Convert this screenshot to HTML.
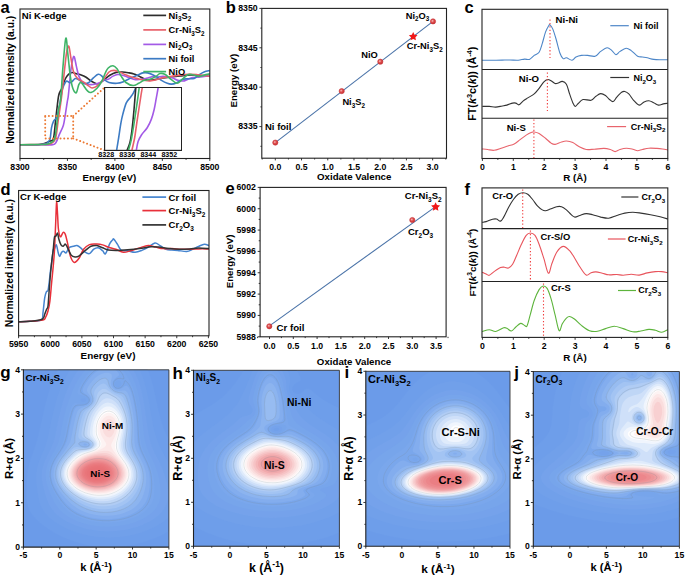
<!DOCTYPE html>
<html><head><meta charset="utf-8"><style>
html,body{margin:0;padding:0;background:#fff;}
body{width:685px;height:577px;overflow:hidden;font-family:"Liberation Sans", sans-serif;}
svg{display:block;}
</style></head><body>
<svg width="685" height="577" viewBox="0 0 685 577" font-family='"Liberation Sans", sans-serif'><rect width="685" height="577" fill="#fff"/>
<text x="0.6" y="12.8" font-size="16.5" font-weight="bold" text-anchor="start" fill="#000">a</text>
<clipPath id="ca"><rect x="20" y="9" width="189.8" height="149.5"/></clipPath><g clip-path="url(#ca)">
<path d="M20,144.8 C23.33,144.75 34.97,145.13 40,144.5 C45.03,143.87 47.95,142.02 50.2,141 C52.45,139.98 52.62,141.68 53.5,138.4 C54.38,135.12 54.92,126.35 55.5,121.3 C56.08,116.25 56.45,112.48 57,108.1 C57.55,103.72 58,98.32 58.8,95 C59.6,91.68 60.68,90.95 61.8,88.2 C62.92,85.45 64.38,80.82 65.5,78.5 C66.62,76.18 67.4,75.3 68.5,74.3 C69.6,73.3 70.78,72.6 72.1,72.5 C73.42,72.4 74.88,73.3 76.4,73.7 C77.92,74.1 79.58,74.3 81.2,74.9 C82.82,75.5 84.47,76.28 86.1,77.3 C87.73,78.32 89.38,79.98 91,81 C92.62,82.02 94.4,83 95.8,83.4 C97.2,83.8 97.98,84.02 99.4,83.4 C100.82,82.78 102.57,81.05 104.3,79.7 C106.03,78.35 107.82,76.52 109.8,75.3 C111.78,74.08 114.05,72.95 116.2,72.4 C118.35,71.85 120.55,71.92 122.7,72 C124.85,72.08 127.23,72.57 129.1,72.9 C130.97,73.23 132.3,73.47 133.9,74 C135.5,74.53 137.08,75.35 138.7,76.1 C140.32,76.85 141.72,77.83 143.6,78.5 C145.48,79.17 147.87,79.97 150,80.1 C152.13,80.23 154.23,79.65 156.4,79.3 C158.57,78.95 160.57,78.38 163,78 C165.43,77.62 168.17,77.33 171,77 C173.83,76.67 176.83,76.33 180,76 C183.17,75.67 186.67,75.08 190,75 C193.33,74.92 196.7,75.33 200,75.5 C203.3,75.67 208.17,75.92 209.8,76" fill="none" stroke="#2d2d2d" stroke-width="1.6" stroke-linejoin="round" stroke-linecap="round"/>
<path d="M20,145 C23.33,144.97 34.53,144.85 40,144.8 C45.47,144.75 50.12,145.12 52.8,144.7 C55.48,144.28 55,144.02 56.1,142.3 C57.2,140.58 58.18,137.25 59.4,134.4 C60.62,131.55 62.42,128.48 63.4,125.2 C64.38,121.92 64.65,118.63 65.3,114.7 C65.95,110.77 66.78,104.88 67.3,101.6 C67.82,98.32 67.8,100.27 68.4,95 C69,89.73 70.17,75.98 70.9,70 C71.63,64.02 72.23,61.28 72.8,59.1 C73.37,56.92 73.7,55.68 74.3,56.9 C74.9,58.12 75.65,63.2 76.4,66.4 C77.15,69.6 77.78,73.47 78.8,76.1 C79.82,78.73 81.28,80.88 82.5,82.2 C83.72,83.52 84.68,83.6 86.1,84 C87.52,84.4 89.38,84.6 91,84.6 C92.62,84.6 94.18,84.4 95.8,84 C97.42,83.6 99.17,82.92 100.7,82.2 C102.23,81.48 103.75,80.18 105,79.7 C106.25,79.22 106.87,79.9 108.2,79.3 C109.53,78.7 111.38,76.9 113,76.1 C114.62,75.3 116.28,74.63 117.9,74.5 C119.52,74.37 120.83,74.77 122.7,75.3 C124.57,75.83 126.97,76.97 129.1,77.7 C131.23,78.43 133.35,79.43 135.5,79.7 C137.65,79.97 139.85,79.63 142,79.3 C144.15,78.97 146.53,78.17 148.4,77.7 C150.27,77.23 151.77,76.62 153.2,76.5 C154.63,76.38 155.33,77.02 157,77 C158.67,76.98 160.8,76.3 163.2,76.4 C165.6,76.5 168.95,76.93 171.4,77.6 C173.85,78.27 175.73,79.85 177.9,80.4 C180.07,80.95 182.22,81.3 184.4,80.9 C186.58,80.5 188.82,78.62 191,78 C193.18,77.38 195.32,77.47 197.5,77.2 C199.68,76.93 202.05,76.68 204.1,76.4 C206.15,76.12 208.85,75.65 209.8,75.5" fill="none" stroke="#a35ae6" stroke-width="1.6" stroke-linejoin="round" stroke-linecap="round"/>
<path d="M20,144.8 C23.33,144.75 35.58,144.72 40,144.5 C44.42,144.28 45.08,144 46.5,143.5 C47.92,143 47.88,142.35 48.5,141.5 C49.12,140.65 49.7,140.68 50.2,138.4 C50.7,136.12 50.95,130.65 51.5,127.8 C52.05,124.95 52.73,122.93 53.5,121.3 C54.27,119.67 55.33,119.55 56.1,118 C56.87,116.45 57.45,114.52 58.1,112 C58.75,109.48 59.28,106.67 60,102.9 C60.72,99.13 61.48,92.85 62.4,89.4 C63.32,85.95 64.68,83.57 65.5,82.2 C66.32,80.83 66.6,81.1 67.3,81.2 C68,81.3 68.9,82.73 69.7,82.8 C70.5,82.87 71.18,82.32 72.1,81.6 C73.02,80.88 74.08,78.82 75.2,78.5 C76.32,78.18 77.38,78.88 78.8,79.7 C80.22,80.52 82.08,82.88 83.7,83.4 C85.32,83.92 86.88,83.72 88.5,82.8 C90.12,81.88 91.78,79.32 93.4,77.9 C95.02,76.48 96.78,74.6 98.2,74.3 C99.62,74 100.77,75.13 101.9,76.1 C103.03,77.07 103.82,79.03 105,80.1 C106.18,81.17 107,81.97 109,82.5 C111,83.03 114.58,83.43 117,83.3 C119.42,83.17 121.22,82.57 123.5,81.7 C125.78,80.83 128.43,79.17 130.7,78.1 C132.97,77.03 135.08,76.17 137.1,75.3 C139.12,74.43 141.05,73.3 142.8,72.9 C144.55,72.5 145.87,72.57 147.6,72.9 C149.33,73.23 151.47,74.1 153.2,74.9 C154.93,75.7 156.62,76.78 158,77.7 C159.38,78.62 159.95,79.47 161.5,80.4 C163.05,81.33 165.65,82.68 167.3,83.3 C168.95,83.92 169.9,84.17 171.4,84.1 C172.9,84.03 174.53,83.65 176.3,82.9 C178.07,82.15 180.1,80.28 182,79.6 C183.9,78.92 185.67,79 187.7,78.8 C189.73,78.6 192.28,79.08 194.2,78.4 C196.12,77.72 197.55,75.78 199.2,74.7 C200.85,73.62 202.33,72.58 204.1,71.9 C205.87,71.22 208.85,70.82 209.8,70.6" fill="none" stroke="#3c7bc4" stroke-width="1.6" stroke-linejoin="round" stroke-linecap="round"/>
<path d="M20,144.8 C23.33,144.75 35,144.63 40,144.5 C45,144.37 47.42,145.02 50,144 C52.58,142.98 54.15,142.18 55.5,138.4 C56.85,134.62 57.35,126.35 58.1,121.3 C58.85,116.25 59.38,112.48 60,108.1 C60.62,103.72 60.98,101.95 61.8,95 C62.62,88.05 64.05,73.8 64.9,66.4 C65.75,59 66.23,53.93 66.9,50.6 C67.57,47.27 68.23,45.18 68.9,46.4 C69.57,47.62 70.15,53.77 70.9,57.9 C71.65,62.03 72.28,67.77 73.4,71.2 C74.52,74.63 75.88,76.67 77.6,78.5 C79.32,80.33 81.88,80.98 83.7,82.2 C85.52,83.42 87.08,84.83 88.5,85.8 C89.92,86.77 90.58,88.1 92.2,88 C93.82,87.9 96.18,86.78 98.2,85.2 C100.22,83.62 102.5,80.7 104.3,78.5 C106.1,76.3 107.42,73.35 109,72 C110.58,70.65 112.05,70.4 113.8,70.4 C115.55,70.4 117.62,71.32 119.5,72 C121.38,72.68 123.1,73.68 125.1,74.5 C127.1,75.32 129.23,76.17 131.5,76.9 C133.77,77.63 136.42,78.3 138.7,78.9 C140.98,79.5 143.32,80.17 145.2,80.5 C147.08,80.83 148.13,81.03 150,80.9 C151.87,80.77 154.2,80.25 156.4,79.7 C158.6,79.15 160.7,78.15 163.2,77.6 C165.7,77.05 168.68,76.82 171.4,76.4 C174.12,75.98 176.52,75.45 179.5,75.1 C182.48,74.75 186.3,74.37 189.3,74.3 C192.3,74.23 195.03,74.5 197.5,74.7 C199.97,74.9 202.05,75.22 204.1,75.5 C206.15,75.78 208.85,76.25 209.8,76.4" fill="none" stroke="#e8606a" stroke-width="1.6" stroke-linejoin="round" stroke-linecap="round"/>
<path d="M20,144.8 C23.33,144.75 35.5,144.6 40,144.5 C44.5,144.4 45.08,144.57 47,144.2 C48.92,143.83 50.2,143.27 51.5,142.3 C52.8,141.33 53.92,141.47 54.8,138.4 C55.68,135.33 56.13,128.95 56.8,123.9 C57.47,118.85 58.17,112.08 58.8,108.1 C59.43,104.12 59.9,106.95 60.6,100 C61.3,93.05 62.13,76.7 63,66.4 C63.87,56.1 64.98,40.22 65.8,38.2 C66.62,36.18 67.15,47.98 67.9,54.3 C68.65,60.62 69.48,70.45 70.3,76.1 C71.12,81.75 71.82,85.42 72.8,88.2 C73.78,90.98 75.2,93.4 76.2,92.8 C77.2,92.2 78,86.33 78.8,84.6 C79.6,82.87 80.18,82.2 81,82.4 C81.82,82.6 82.65,84.42 83.7,85.8 C84.75,87.18 86.08,89.58 87.3,90.7 C88.52,91.82 89.38,92.92 91,92.5 C92.62,92.08 95.18,90.12 97,88.2 C98.82,86.28 100.48,83.62 101.9,81 C103.32,78.38 104.45,74.67 105.5,72.5 C106.55,70.33 106.95,69.12 108.2,68 C109.45,66.88 111.53,65.67 113,65.8 C114.47,65.93 115.65,67.08 117,68.8 C118.35,70.52 119.62,73.82 121.1,76.1 C122.58,78.38 123.9,80.93 125.9,82.5 C127.9,84.07 130.97,85.37 133.1,85.5 C135.23,85.63 136.95,84.13 138.7,83.3 C140.45,82.47 141.72,81.17 143.6,80.5 C145.48,79.83 147.87,80.03 150,79.3 C152.13,78.57 154.73,77.07 156.4,76.1 C158.07,75.13 158.6,73.8 160,73.5 C161.4,73.2 162.9,73.28 164.8,74.3 C166.7,75.32 169.35,78.1 171.4,79.6 C173.45,81.1 175.33,83.3 177.1,83.3 C178.87,83.3 180.23,81.03 182,79.6 C183.77,78.17 185.93,75.52 187.7,74.7 C189.47,73.88 190.68,74.42 192.6,74.7 C194.52,74.98 197.28,76.33 199.2,76.4 C201.12,76.47 202.33,75.52 204.1,75.1 C205.87,74.68 208.85,74.1 209.8,73.9" fill="none" stroke="#3fb467" stroke-width="1.6" stroke-linejoin="round" stroke-linecap="round"/>
</g>
<rect x="45.2" y="116" width="28" height="22.4" stroke="#ec7a34" stroke-width="2" fill="none" stroke-dasharray="0.01 3.7" stroke-linecap="round"/>
<line x1="73.2" y1="116" x2="104.6" y2="87.5" stroke="#ec7a34" stroke-width="2" stroke-dasharray="0.01 3.7" stroke-linecap="round"/>
<line x1="73.2" y1="138.4" x2="104.6" y2="150.4" stroke="#ec7a34" stroke-width="2" stroke-dasharray="0.01 3.7" stroke-linecap="round"/>
<rect x="104.6" y="87.5" width="76.9" height="62.9" stroke="#222" stroke-width="1" fill="#fff"/>
<clipPath id="ci"><rect x="104.6" y="87.5" width="76.9" height="62.9"/></clipPath><g clip-path="url(#ci)">
<path d="M116.6,151.5 C116.6,151.32 116.25,152.73 116.6,150.4 C116.95,148.07 118,141.97 118.7,137.5 C119.4,133.03 120.1,127.53 120.8,123.6 C121.5,119.67 121.98,117.37 122.9,113.9 C123.82,110.43 125.03,105.57 126.3,102.8 C127.57,100.03 129.33,98.92 130.5,97.3 C131.67,95.68 132.42,94.73 133.3,93.1 C134.18,91.47 135.18,88.85 135.8,87.5 C136.42,86.15 136.8,85.42 137,85" fill="none" stroke="#3c7bc4" stroke-width="1.6" stroke-linejoin="round" stroke-linecap="round"/>
<path d="M127,151.5 C127,151.32 126.53,151.82 127,150.4 C127.47,148.98 128.98,146.32 129.8,143 C130.62,139.68 131.2,136.05 131.9,130.5 C132.6,124.95 133.35,116.87 134,109.7 C134.65,102.53 135.43,91.78 135.8,87.5 C136.17,83.22 136.13,84.58 136.2,84" fill="none" stroke="#2d2d2d" stroke-width="1.6" stroke-linejoin="round" stroke-linecap="round"/>
<path d="M128.4,151.5 C128.4,151.32 127.93,152.28 128.4,150.4 C128.87,148.52 130.27,144.67 131.2,140.2 C132.13,135.73 133.18,128.68 134,123.6 C134.82,118.52 135.42,114.32 136.1,109.7 C136.78,105.08 137.58,99.6 138.1,95.9 C138.62,92.2 138.95,89.48 139.2,87.5 C139.45,85.52 139.53,84.58 139.6,84" fill="none" stroke="#3fb467" stroke-width="1.6" stroke-linejoin="round" stroke-linecap="round"/>
<path d="M131.9,151.5 C131.9,151.32 131.43,152.73 131.9,150.4 C132.37,148.07 133.9,141.97 134.7,137.5 C135.5,133.03 136.02,128.23 136.7,123.6 C137.38,118.97 138.1,114.32 138.8,109.7 C139.5,105.08 140.32,99.6 140.9,95.9 C141.48,92.2 142,89.48 142.3,87.5 C142.6,85.52 142.63,84.58 142.7,84" fill="none" stroke="#e8606a" stroke-width="1.6" stroke-linejoin="round" stroke-linecap="round"/>
<path d="M136.3,151.5 C136.3,151.32 136,152.05 136.3,150.4 C136.6,148.75 137.22,144.22 138.1,141.6 C138.98,138.98 140.08,137 141.6,134.7 C143.12,132.4 145.58,130.35 147.2,127.8 C148.82,125.25 150.15,122.42 151.3,119.4 C152.45,116.38 153.28,113.17 154.1,109.7 C154.92,106.23 155.52,102.3 156.2,98.6 C156.88,94.9 157.78,89.93 158.2,87.5 C158.62,85.07 158.62,84.58 158.7,84" fill="none" stroke="#a35ae6" stroke-width="1.6" stroke-linejoin="round" stroke-linecap="round"/>
</g>
<rect x="104.6" y="87.5" width="76.9" height="62.9" stroke="#222" stroke-width="1" fill="none"/>
<text x="106.2" y="157.2" font-size="7.1" font-weight="bold" text-anchor="middle" fill="#000">8328</text>
<text x="127.24" y="157.2" font-size="7.1" font-weight="bold" text-anchor="middle" fill="#000">8336</text>
<text x="148.28" y="157.2" font-size="7.1" font-weight="bold" text-anchor="middle" fill="#000">8344</text>
<text x="169.32" y="157.2" font-size="7.1" font-weight="bold" text-anchor="middle" fill="#000">8352</text>
<line x1="143.3" y1="15.4" x2="166.1" y2="15.4" stroke="#2d2d2d" stroke-width="1.7"/>
<text x="168.6" y="18.8" font-size="9.3" font-weight="bold" text-anchor="start" fill="#000">Ni<tspan dy="2.6" font-size="6.32">3</tspan><tspan dy="-2.6">S</tspan><tspan dy="2.6" font-size="6.32">2</tspan></text>
<line x1="143.3" y1="29.9" x2="166.1" y2="29.9" stroke="#e8606a" stroke-width="1.7"/>
<text x="168.6" y="33.3" font-size="9.3" font-weight="bold" text-anchor="start" fill="#000">Cr-Ni<tspan dy="2.6" font-size="6.32">3</tspan><tspan dy="-2.6">S</tspan><tspan dy="2.6" font-size="6.32">2</tspan></text>
<line x1="143.3" y1="44.4" x2="166.1" y2="44.4" stroke="#a35ae6" stroke-width="1.7"/>
<text x="168.6" y="47.8" font-size="9.3" font-weight="bold" text-anchor="start" fill="#000">Ni<tspan dy="2.6" font-size="6.32">2</tspan><tspan dy="-2.6">O</tspan><tspan dy="2.6" font-size="6.32">3</tspan></text>
<line x1="143.3" y1="58.7" x2="166.1" y2="58.7" stroke="#3c7bc4" stroke-width="1.7"/>
<text x="168.6" y="62.1" font-size="9.3" font-weight="bold" text-anchor="start" fill="#000">Ni foil</text>
<line x1="143.3" y1="71.6" x2="166.1" y2="71.6" stroke="#3fb467" stroke-width="1.7"/>
<text x="168.6" y="75" font-size="9.3" font-weight="bold" text-anchor="start" fill="#000">NiO</text>
<text x="21.8" y="19.1" font-size="9.6" font-weight="bold" text-anchor="start" fill="#000">Ni K-edge</text>
<rect x="20" y="9" width="189.8" height="149.5" stroke="#222" stroke-width="1.1" fill="none"/>
<line x1="20" y1="158.5" x2="20" y2="160.9" stroke="#222" stroke-width="0.9"/>
<line x1="67.45" y1="158.5" x2="67.45" y2="160.9" stroke="#222" stroke-width="0.9"/>
<line x1="114.9" y1="158.5" x2="114.9" y2="160.9" stroke="#222" stroke-width="0.9"/>
<line x1="162.35" y1="158.5" x2="162.35" y2="160.9" stroke="#222" stroke-width="0.9"/>
<line x1="209.8" y1="158.5" x2="209.8" y2="160.9" stroke="#222" stroke-width="0.9"/>
<line x1="43.72" y1="158.5" x2="43.72" y2="159.9" stroke="#222" stroke-width="0.9"/>
<line x1="91.17" y1="158.5" x2="91.17" y2="159.9" stroke="#222" stroke-width="0.9"/>
<line x1="138.62" y1="158.5" x2="138.62" y2="159.9" stroke="#222" stroke-width="0.9"/>
<line x1="186.07" y1="158.5" x2="186.07" y2="159.9" stroke="#222" stroke-width="0.9"/>
<text x="20" y="170.3" font-size="8.7" font-weight="bold" text-anchor="middle" fill="#000">8300</text>
<text x="67.45" y="170.3" font-size="8.7" font-weight="bold" text-anchor="middle" fill="#000">8350</text>
<text x="114.9" y="170.3" font-size="8.7" font-weight="bold" text-anchor="middle" fill="#000">8400</text>
<text x="162.35" y="170.3" font-size="8.7" font-weight="bold" text-anchor="middle" fill="#000">8450</text>
<text x="209.8" y="170.3" font-size="8.7" font-weight="bold" text-anchor="middle" fill="#000">8500</text>
<text x="109.4" y="180.9" font-size="9.7" font-weight="bold" text-anchor="middle" fill="#000">Energy (eV)</text>
<text x="13.9" y="79.8" font-size="10.3" font-weight="bold" text-anchor="middle" fill="#000" transform="rotate(-90 13.9 79.8)">Normalized intensity (a.u.)</text>
<text x="225.8" y="12.8" font-size="16.5" font-weight="bold" text-anchor="start" fill="#000">b</text>
<rect x="261.8" y="8.4" width="184.7" height="149.8" stroke="#222" stroke-width="1.1" fill="none"/>
<line x1="261.8" y1="8.4" x2="259.4" y2="8.4" stroke="#222" stroke-width="0.9"/>
<line x1="261.8" y1="47.8" x2="259.4" y2="47.8" stroke="#222" stroke-width="0.9"/>
<line x1="261.8" y1="87.2" x2="259.4" y2="87.2" stroke="#222" stroke-width="0.9"/>
<line x1="261.8" y1="126.6" x2="259.4" y2="126.6" stroke="#222" stroke-width="0.9"/>
<line x1="261.8" y1="28.1" x2="260.4" y2="28.1" stroke="#222" stroke-width="0.9"/>
<line x1="261.8" y1="67.5" x2="260.4" y2="67.5" stroke="#222" stroke-width="0.9"/>
<line x1="261.8" y1="106.9" x2="260.4" y2="106.9" stroke="#222" stroke-width="0.9"/>
<line x1="261.8" y1="146.3" x2="260.4" y2="146.3" stroke="#222" stroke-width="0.9"/>
<text x="257.6" y="11.2" font-size="8.7" font-weight="bold" text-anchor="end" fill="#000">8350</text>
<text x="257.6" y="50.6" font-size="8.7" font-weight="bold" text-anchor="end" fill="#000">8345</text>
<text x="257.6" y="90" font-size="8.7" font-weight="bold" text-anchor="end" fill="#000">8340</text>
<text x="257.6" y="129.4" font-size="8.7" font-weight="bold" text-anchor="end" fill="#000">8335</text>
<line x1="275.3" y1="158.2" x2="275.3" y2="160.4" stroke="#222" stroke-width="0.9"/>
<line x1="301.53" y1="158.2" x2="301.53" y2="160.4" stroke="#222" stroke-width="0.9"/>
<line x1="327.75" y1="158.2" x2="327.75" y2="160.4" stroke="#222" stroke-width="0.9"/>
<line x1="353.98" y1="158.2" x2="353.98" y2="160.4" stroke="#222" stroke-width="0.9"/>
<line x1="380.2" y1="158.2" x2="380.2" y2="160.4" stroke="#222" stroke-width="0.9"/>
<line x1="406.43" y1="158.2" x2="406.43" y2="160.4" stroke="#222" stroke-width="0.9"/>
<line x1="432.65" y1="158.2" x2="432.65" y2="160.4" stroke="#222" stroke-width="0.9"/>
<line x1="262.19" y1="158.2" x2="262.19" y2="159.5" stroke="#222" stroke-width="0.9"/>
<line x1="288.41" y1="158.2" x2="288.41" y2="159.5" stroke="#222" stroke-width="0.9"/>
<line x1="314.64" y1="158.2" x2="314.64" y2="159.5" stroke="#222" stroke-width="0.9"/>
<line x1="340.86" y1="158.2" x2="340.86" y2="159.5" stroke="#222" stroke-width="0.9"/>
<line x1="367.09" y1="158.2" x2="367.09" y2="159.5" stroke="#222" stroke-width="0.9"/>
<line x1="393.31" y1="158.2" x2="393.31" y2="159.5" stroke="#222" stroke-width="0.9"/>
<line x1="419.54" y1="158.2" x2="419.54" y2="159.5" stroke="#222" stroke-width="0.9"/>
<line x1="445.76" y1="158.2" x2="445.76" y2="159.5" stroke="#222" stroke-width="0.9"/>
<text x="275.3" y="170.1" font-size="8.7" font-weight="bold" text-anchor="middle" fill="#000">0.0</text>
<text x="301.53" y="170.1" font-size="8.7" font-weight="bold" text-anchor="middle" fill="#000">0.5</text>
<text x="327.75" y="170.1" font-size="8.7" font-weight="bold" text-anchor="middle" fill="#000">1.0</text>
<text x="353.98" y="170.1" font-size="8.7" font-weight="bold" text-anchor="middle" fill="#000">1.5</text>
<text x="380.2" y="170.1" font-size="8.7" font-weight="bold" text-anchor="middle" fill="#000">2.0</text>
<text x="406.43" y="170.1" font-size="8.7" font-weight="bold" text-anchor="middle" fill="#000">2.5</text>
<text x="432.65" y="170.1" font-size="8.7" font-weight="bold" text-anchor="middle" fill="#000">3.0</text>
<text x="354.2" y="180.1" font-size="9.7" font-weight="bold" text-anchor="middle" fill="#000">Oxidate Valence</text>
<text x="236.6" y="80.6" font-size="9.7" font-weight="bold" text-anchor="middle" fill="#000" transform="rotate(-90 236.6 80.6)">Energy (eV)</text>
<line x1="275.3" y1="142.6" x2="433" y2="21.4" stroke="#4a73a8" stroke-width="1.1"/>
<defs><radialGradient id="ballg" cx="0.4" cy="0.4" r="0.6"><stop offset="0" stop-color="#f7c0c0"/><stop offset="0.45" stop-color="#e05050"/><stop offset="1" stop-color="#c83030"/></radialGradient></defs>
<circle cx="275.3" cy="142.6" r="2.6" fill="url(#ballg)" stroke="#c8383c" stroke-width="0.6"/>
<circle cx="341.7" cy="91.1" r="2.6" fill="url(#ballg)" stroke="#c8383c" stroke-width="0.6"/>
<circle cx="380.3" cy="61.7" r="2.6" fill="url(#ballg)" stroke="#c8383c" stroke-width="0.6"/>
<circle cx="433" cy="21.4" r="2.6" fill="url(#ballg)" stroke="#c8383c" stroke-width="0.6"/>
<polygon points="413.2,32 414.55,34.74 417.57,35.18 415.39,37.31 415.9,40.32 413.2,38.9 410.5,40.32 411.01,37.31 408.83,35.18 411.85,34.74" fill="#f01818"/>
<text x="265" y="130.1" font-size="9.5" font-weight="bold" text-anchor="start" fill="#000">Ni foil</text>
<text x="342.4" y="105.4" font-size="9.3" font-weight="bold" text-anchor="start" fill="#000">Ni<tspan dy="2.6" font-size="6.32">3</tspan><tspan dy="-2.6">S</tspan><tspan dy="2.6" font-size="6.32">2</tspan></text>
<text x="361.2" y="58.3" font-size="9.3" font-weight="bold" text-anchor="start" fill="#000">NiO</text>
<text x="405.7" y="18.7" font-size="9.3" font-weight="bold" text-anchor="start" fill="#000">Ni<tspan dy="2.6" font-size="6.32">2</tspan><tspan dy="-2.6">O</tspan><tspan dy="2.6" font-size="6.32">3</tspan></text>
<text x="406.7" y="49" font-size="9.3" font-weight="bold" text-anchor="start" fill="#000">Cr-Ni<tspan dy="2.6" font-size="6.32">3</tspan><tspan dy="-2.6">S</tspan><tspan dy="2.6" font-size="6.32">2</tspan></text>
<text x="464.6" y="13.3" font-size="16.5" font-weight="bold" text-anchor="start" fill="#000">c</text>
<clipPath id="cc"><rect x="482" y="9.3" width="185.8" height="149.2"/></clipPath><g clip-path="url(#cc)">
<path d="M482,60.2 C483.33,60.22 486.65,60.32 490,60.3 C493.35,60.28 498.77,60.15 502.1,60.1 C505.43,60.05 507.32,59.98 510,60 C512.68,60.02 515.77,60.35 518.2,60.2 C520.63,60.05 522.73,59.23 524.6,59.1 C526.47,58.97 527.8,60.02 529.4,59.4 C531,58.78 532.58,56.6 534.2,55.4 C535.82,54.2 537.75,54.2 539.1,52.2 C540.45,50.2 541.23,46.75 542.3,43.4 C543.37,40.05 544.43,35.05 545.5,32.1 C546.57,29.15 547.95,26.9 548.7,25.7 C549.45,24.5 549.33,24.37 550,24.9 C550.67,25.43 551.72,26.63 552.7,28.9 C553.68,31.17 554.7,34.48 555.9,38.5 C557.1,42.52 558.7,49.65 559.9,53 C561.1,56.35 562.02,57.8 563.1,58.6 C564.18,59.4 564.92,57.53 566.4,57.8 C567.88,58.07 570.4,60.33 572,60.2 C573.6,60.07 574.43,57.8 576,57 C577.57,56.2 579.43,55.67 581.4,55.4 C583.37,55.13 585.52,55.27 587.8,55.4 C590.08,55.53 592.95,56.87 595.1,56.2 C597.25,55.53 598.7,52.82 600.7,51.4 C602.7,49.98 605.23,47.83 607.1,47.7 C608.97,47.57 610.42,49.45 611.9,50.6 C613.38,51.75 614.65,54.47 616,54.6 C617.35,54.73 618.32,52.47 620,51.4 C621.68,50.33 624.23,48.33 626.1,48.2 C627.97,48.07 629.28,49.27 631.2,50.6 C633.12,51.93 635.73,55.13 637.6,56.2 C639.47,57.27 640.78,56.73 642.4,57 C644.02,57.27 645.42,57.4 647.3,57.8 C649.18,58.2 651.3,59.08 653.7,59.4 C656.1,59.72 659.35,59.65 661.7,59.7 C664.05,59.75 666.78,59.7 667.8,59.7" fill="none" stroke="#4d86c8" stroke-width="1.1" stroke-linejoin="round" stroke-linecap="round"/>
<path d="M482.8,106.4 C483.88,106.4 487.15,106.28 489.3,106.4 C491.45,106.52 493.57,107.17 495.7,107.1 C497.83,107.03 500.23,106.33 502.1,106 C503.97,105.67 505.15,105.58 506.9,105.1 C508.65,104.62 511.12,103.43 512.6,103.1 C514.08,102.77 514.73,102.82 515.8,103.1 C516.87,103.38 517.8,105.13 519,104.8 C520.2,104.47 521.53,102.25 523,101.1 C524.47,99.95 525.93,99.1 527.8,97.9 C529.67,96.7 532.32,95.5 534.2,93.9 C536.08,92.3 537.48,90.3 539.1,88.3 C540.72,86.3 542.48,83.37 543.9,81.9 C545.32,80.43 546.4,79.7 547.6,79.5 C548.8,79.3 549.85,80.03 551.1,80.7 C552.35,81.37 553.9,83.12 555.1,83.5 C556.3,83.88 557.1,83.35 558.3,83 C559.5,82.65 560.95,81.18 562.3,81.4 C563.65,81.62 565.18,82.22 566.4,84.3 C567.62,86.38 568.53,90.83 569.6,93.9 C570.67,96.97 571.87,100.62 572.8,102.7 C573.73,104.78 574.3,106.27 575.2,106.4 C576.1,106.53 576.9,104.65 578.2,103.5 C579.5,102.35 580.85,100.03 583,99.5 C585.15,98.97 588.95,100.83 591.1,100.3 C593.25,99.77 594.3,97.42 595.9,96.3 C597.5,95.18 599.1,93.73 600.7,93.6 C602.3,93.47 604.03,94.52 605.5,95.5 C606.97,96.48 608.22,98.48 609.5,99.5 C610.78,100.52 611.98,102 613.2,101.6 C614.42,101.2 615.4,98.65 616.8,97.1 C618.2,95.55 620.27,93.23 621.6,92.3 C622.93,91.37 623.6,91.23 624.8,91.5 C626,91.77 627.33,92.43 628.8,93.9 C630.27,95.37 631.87,98.43 633.6,100.3 C635.33,102.17 637.45,104.83 639.2,105.1 C640.95,105.37 642.48,102.63 644.1,101.9 C645.72,101.17 647.3,100.57 648.9,100.7 C650.5,100.83 652.1,101.97 653.7,102.7 C655.3,103.43 656.9,104.9 658.5,105.1 C660.1,105.3 661.75,104.22 663.3,103.9 C664.85,103.58 667.05,103.32 667.8,103.2" fill="none" stroke="#333" stroke-width="1.1" stroke-linejoin="round" stroke-linecap="round"/>
<path d="M482.4,149 C483.28,149.08 485.75,149.28 487.7,149.5 C489.65,149.72 491.7,150.57 494.1,150.3 C496.5,150.03 499.7,148.65 502.1,147.9 C504.5,147.15 506.48,146.47 508.5,145.8 C510.52,145.13 512.32,144.88 514.2,143.9 C516.08,142.92 517.8,141.37 519.8,139.9 C521.8,138.43 524.2,136.37 526.2,135.1 C528.2,133.83 530.47,132.82 531.8,132.3 C533.13,131.78 532.98,131.8 534.2,132 C535.42,132.2 537.22,132.45 539.1,133.5 C540.98,134.55 543.5,136.7 545.5,138.3 C547.5,139.9 549.5,142.08 551.1,143.1 C552.7,144.12 553.37,144.58 555.1,144.4 C556.83,144.22 559.62,142.57 561.5,142 C563.38,141.43 564.52,140.9 566.4,141 C568.28,141.1 570.57,141.58 572.8,142.6 C575.03,143.62 577.57,145.95 579.8,147.1 C582.03,148.25 583.78,149.15 586.2,149.5 C588.62,149.85 591.35,149.38 594.3,149.2 C597.25,149.02 601.23,148.35 603.9,148.4 C606.57,148.45 608.43,148.97 610.3,149.5 C612.17,150.03 613.48,151.6 615.1,151.6 C616.72,151.6 618.12,150.07 620,149.5 C621.88,148.93 624.27,148.25 626.4,148.2 C628.53,148.15 630.93,148.78 632.8,149.2 C634.67,149.62 636,150.65 637.6,150.7 C639.2,150.75 640.52,149.92 642.4,149.5 C644.28,149.08 646.48,148.38 648.9,148.2 C651.32,148.02 654.63,148.27 656.9,148.4 C659.17,148.53 660.68,148.73 662.5,149 C664.32,149.27 666.92,149.83 667.8,150" fill="none" stroke="#e8646c" stroke-width="1.1" stroke-linejoin="round" stroke-linecap="round"/>
</g>
<line x1="550" y1="19.5" x2="550" y2="58" stroke="#f03c3c" stroke-width="1.1" stroke-dasharray="1.3 2.1"/>
<line x1="547.4" y1="72.5" x2="547.4" y2="111" stroke="#f03c3c" stroke-width="1.1" stroke-dasharray="1.3 2.1"/>
<line x1="533.9" y1="119.5" x2="533.9" y2="158" stroke="#f03c3c" stroke-width="1.1" stroke-dasharray="1.3 2.1"/>
<text x="555.6" y="23" font-size="9.6" font-weight="bold" text-anchor="start" fill="#000">Ni-Ni</text>
<text x="518.8" y="81.9" font-size="9.6" font-weight="bold" text-anchor="start" fill="#000">Ni-O</text>
<text x="506.7" y="131.1" font-size="9.6" font-weight="bold" text-anchor="start" fill="#000">Ni-S</text>
<line x1="610.3" y1="25.7" x2="628.8" y2="25.7" stroke="#4d86c8" stroke-width="1.2"/>
<text x="633.4" y="29.3" font-size="9" font-weight="bold" text-anchor="start" fill="#000">Ni foil</text>
<line x1="610.3" y1="77.5" x2="629.1" y2="77.5" stroke="#333" stroke-width="1.2"/>
<text x="633.4" y="81.1" font-size="9" font-weight="bold" text-anchor="start" fill="#000">Ni<tspan dy="2.52" font-size="6.12">2</tspan><tspan dy="-2.52">O</tspan><tspan dy="2.52" font-size="6.12">3</tspan></text>
<line x1="607.1" y1="126.6" x2="626.1" y2="126.6" stroke="#e8646c" stroke-width="1.2"/>
<text x="630.7" y="129.8" font-size="9" font-weight="bold" text-anchor="start" fill="#000">Cr-Ni<tspan dy="2.52" font-size="6.12">3</tspan><tspan dy="-2.52">S</tspan><tspan dy="2.52" font-size="6.12">2</tspan></text>
<rect x="482" y="9.3" width="185.8" height="149.2" stroke="#222" stroke-width="1.1" fill="none"/>
<line x1="482" y1="69.5" x2="667.8" y2="69.5" stroke="#222" stroke-width="1.1"/>
<line x1="482" y1="118.2" x2="667.8" y2="118.2" stroke="#222" stroke-width="1.1"/>
<line x1="482.4" y1="158.5" x2="482.4" y2="160.9" stroke="#222" stroke-width="0.9"/>
<line x1="513.3" y1="158.5" x2="513.3" y2="160.9" stroke="#222" stroke-width="0.9"/>
<line x1="544.2" y1="158.5" x2="544.2" y2="160.9" stroke="#222" stroke-width="0.9"/>
<line x1="575.1" y1="158.5" x2="575.1" y2="160.9" stroke="#222" stroke-width="0.9"/>
<line x1="606" y1="158.5" x2="606" y2="160.9" stroke="#222" stroke-width="0.9"/>
<line x1="636.9" y1="158.5" x2="636.9" y2="160.9" stroke="#222" stroke-width="0.9"/>
<line x1="667.8" y1="158.5" x2="667.8" y2="160.9" stroke="#222" stroke-width="0.9"/>
<line x1="497.85" y1="158.5" x2="497.85" y2="159.9" stroke="#222" stroke-width="0.9"/>
<line x1="528.75" y1="158.5" x2="528.75" y2="159.9" stroke="#222" stroke-width="0.9"/>
<line x1="559.65" y1="158.5" x2="559.65" y2="159.9" stroke="#222" stroke-width="0.9"/>
<line x1="590.55" y1="158.5" x2="590.55" y2="159.9" stroke="#222" stroke-width="0.9"/>
<line x1="621.45" y1="158.5" x2="621.45" y2="159.9" stroke="#222" stroke-width="0.9"/>
<line x1="652.35" y1="158.5" x2="652.35" y2="159.9" stroke="#222" stroke-width="0.9"/>
<text x="482.4" y="170.4" font-size="8.7" font-weight="bold" text-anchor="middle" fill="#000">0</text>
<text x="513.3" y="170.4" font-size="8.7" font-weight="bold" text-anchor="middle" fill="#000">1</text>
<text x="544.2" y="170.4" font-size="8.7" font-weight="bold" text-anchor="middle" fill="#000">2</text>
<text x="575.1" y="170.4" font-size="8.7" font-weight="bold" text-anchor="middle" fill="#000">3</text>
<text x="606" y="170.4" font-size="8.7" font-weight="bold" text-anchor="middle" fill="#000">4</text>
<text x="636.9" y="170.4" font-size="8.7" font-weight="bold" text-anchor="middle" fill="#000">5</text>
<text x="667.8" y="170.4" font-size="8.7" font-weight="bold" text-anchor="middle" fill="#000">6</text>
<text x="575" y="180.9" font-size="9.8" font-weight="bold" text-anchor="middle" fill="#000">R (Å)</text>
<text x="476.2" y="83.7" font-size="10.8" font-weight="bold" text-anchor="middle" transform="rotate(-90 476.2 83.7)">FT(<tspan font-style="italic">k</tspan><tspan dy="-3.89" font-size="7.34">3</tspan><tspan dy="3.89">c(</tspan><tspan font-style="italic">k</tspan>)) (Å<tspan dy="-3.89" font-size="7.34">-4</tspan><tspan dy="3.89">)</tspan></text>
<text x="0.6" y="194.6" font-size="16.5" font-weight="bold" text-anchor="start" fill="#000">d</text>
<clipPath id="cdd"><rect x="18.6" y="190.5" width="190.4" height="145.3"/></clipPath><g clip-path="url(#cdd)">
<path d="M18.6,321.7 C20.5,321.63 26.2,321.58 30,321.3 C33.8,321.02 39.23,321.45 41.4,320 C43.57,318.55 42.45,316.3 43,312.6 C43.55,308.9 44.15,301.23 44.7,297.8 C45.25,294.37 45.75,293.23 46.3,292 C46.85,290.77 47.53,291.9 48,290.4 C48.47,288.9 48.7,286.17 49.1,283 C49.5,279.83 49.9,275.25 50.4,271.4 C50.9,267.55 51.63,263.47 52.1,259.9 C52.57,256.33 52.82,251.78 53.2,250 C53.58,248.22 53.88,250.05 54.4,249.2 C54.92,248.35 55.68,244.4 56.3,244.9 C56.92,245.4 57.57,250.27 58.1,252.2 C58.63,254.13 58.9,256.5 59.5,256.5 C60.1,256.5 60.97,253.05 61.7,252.2 C62.43,251.35 63.17,251.28 63.9,251.4 C64.63,251.52 65.25,253.5 66.1,252.9 C66.95,252.3 67.78,248.9 69,247.8 C70.22,246.7 72.07,246.67 73.4,246.3 C74.73,245.93 75.78,245.35 77,245.6 C78.22,245.85 79.35,246.7 80.7,247.8 C82.05,248.9 83.63,251.23 85.1,252.2 C86.57,253.17 88.05,254.1 89.5,253.6 C90.95,253.1 92.35,250.17 93.8,249.2 C95.25,248.23 96.73,247.55 98.2,247.8 C99.67,248.05 101.38,249.73 102.6,250.7 C103.82,251.67 104.28,254.82 105.5,253.6 C106.72,252.38 108.68,245.72 109.9,243.4 C111.12,241.08 112.17,240.43 112.8,239.7 C113.43,238.97 112.93,238.25 113.7,239 C114.47,239.75 116.17,242.35 117.4,244.2 C118.63,246.05 119.38,249 121.1,250.1 C122.82,251.2 125.37,250.43 127.7,250.8 C130.03,251.17 132.65,252.42 135.1,252.3 C137.55,252.18 140.2,250.97 142.4,250.1 C144.6,249.23 146.2,248.28 148.3,247.1 C150.4,245.92 153.03,243.25 155,243 C156.97,242.75 158.27,244.55 160.1,245.6 C161.93,246.65 164.03,248.55 166,249.3 C167.97,250.05 169.93,249.92 171.9,250.1 C173.87,250.28 175.33,250.17 177.8,250.4 C180.27,250.63 184.23,251.68 186.7,251.5 C189.17,251.32 190.63,250.15 192.6,249.3 C194.57,248.45 196.53,247.25 198.5,246.4 C200.47,245.55 202.65,244.33 204.4,244.2 C206.15,244.07 208.23,245.37 209,245.6" fill="none" stroke="#4584cf" stroke-width="1.5" stroke-linejoin="round" stroke-linecap="round"/>
<path d="M18.6,321.7 C20.5,321.63 25.93,321.58 30,321.3 C34.07,321.02 40.42,320.63 43,320 C45.58,319.37 44.67,319 45.5,317.5 C46.33,316 47.27,313.73 48,311 C48.73,308.27 49.3,305.77 49.9,301.1 C50.5,296.43 51.05,288.77 51.6,283 C52.15,277.23 52.72,272 53.2,266.5 C53.68,261 54.1,256.92 54.5,250 C54.9,243.08 55.25,232.92 55.6,225 C55.95,217.08 56.27,204.17 56.6,202.5 C56.93,200.83 57.3,210.62 57.6,215 C57.9,219.38 57.95,225.17 58.4,228.8 C58.85,232.43 59.5,236.2 60.3,236.8 C61.1,237.4 62.35,232.77 63.2,232.4 C64.05,232.03 64.67,232.77 65.4,234.6 C66.13,236.43 66.75,239.75 67.6,243.4 C68.45,247.05 69.38,253.33 70.5,256.5 C71.62,259.67 72.85,262.15 74.3,262.4 C75.75,262.65 77.65,260.2 79.2,258 C80.75,255.8 81.88,251.43 83.6,249.2 C85.32,246.97 87.3,245.45 89.5,244.6 C91.7,243.75 94.62,244.05 96.8,244.1 C98.98,244.15 100.42,244.28 102.6,244.9 C104.78,245.52 107.68,247.07 109.9,247.8 C112.12,248.53 113.67,248.55 115.9,249.3 C118.13,250.05 120.85,252.05 123.3,252.3 C125.75,252.55 127.9,251.53 130.6,250.8 C133.3,250.07 136.55,248.77 139.5,247.9 C142.45,247.03 145.6,245.73 148.3,245.6 C151,245.47 153.23,246.6 155.7,247.1 C158.17,247.6 160.4,248.35 163.1,248.6 C165.8,248.85 168.95,248.48 171.9,248.6 C174.85,248.72 177.85,249.18 180.8,249.3 C183.75,249.42 186.65,249.37 189.6,249.3 C192.55,249.23 195.27,248.97 198.5,248.9 C201.73,248.83 207.25,248.9 209,248.9" fill="none" stroke="#e8303a" stroke-width="1.5" stroke-linejoin="round" stroke-linecap="round"/>
<path d="M18.6,321.7 C20.5,321.63 26.07,321.72 30,321.3 C33.93,320.88 39.75,320.37 42.2,319.2 C44.65,318.03 43.97,315.95 44.7,314.3 C45.43,312.65 46.05,310.68 46.6,309.3 C47.15,307.92 47.58,309.02 48,306 C48.42,302.98 48.7,296.42 49.1,291.2 C49.5,285.98 49.9,280.2 50.4,274.7 C50.9,269.2 51.63,262.32 52.1,258.2 C52.57,254.08 52.82,253.43 53.2,250 C53.58,246.57 53.95,239.92 54.4,237.6 C54.85,235.28 55.37,236.83 55.9,236.1 C56.43,235.37 57.12,232.72 57.6,233.2 C58.08,233.68 58.23,237.05 58.8,239 C59.37,240.95 60.27,243.68 61,244.9 C61.73,246.12 62.47,246.43 63.2,246.3 C63.93,246.17 64.67,243.85 65.4,244.1 C66.13,244.35 66.63,245.97 67.6,247.8 C68.57,249.63 69.97,253.58 71.2,255.1 C72.43,256.62 73.67,256.78 75,256.9 C76.33,257.02 77.52,256.83 79.2,255.8 C80.88,254.77 83.15,252.28 85.1,250.7 C87.05,249.12 88.95,247.15 90.9,246.3 C92.85,245.45 94.85,245.35 96.8,245.6 C98.75,245.85 100.67,247.07 102.6,247.8 C104.53,248.53 105.93,249.57 108.4,250 C110.87,250.43 114.18,250.43 117.4,250.4 C120.62,250.37 124.02,250.1 127.7,249.8 C131.38,249.5 135.57,249.1 139.5,248.6 C143.43,248.1 148.1,247.05 151.3,246.8 C154.5,246.55 155.75,246.8 158.7,247.1 C161.65,247.4 165.57,248.23 169,248.6 C172.43,248.97 175.87,249.25 179.3,249.3 C182.73,249.35 186.4,249.13 189.6,248.9 C192.8,248.67 195.27,247.95 198.5,247.9 C201.73,247.85 207.25,248.48 209,248.6" fill="none" stroke="#333" stroke-width="1.5" stroke-linejoin="round" stroke-linecap="round"/>
</g>
<line x1="142.4" y1="197.1" x2="166.1" y2="197.1" stroke="#4584cf" stroke-width="1.7"/>
<text x="168.6" y="200.5" font-size="9.5" font-weight="bold" text-anchor="start" fill="#000">Cr foil</text>
<line x1="142.4" y1="210.6" x2="166.1" y2="210.6" stroke="#e8303a" stroke-width="1.7"/>
<text x="168.6" y="214" font-size="9.5" font-weight="bold" text-anchor="start" fill="#000">Cr-Ni<tspan dy="2.66" font-size="6.46">3</tspan><tspan dy="-2.66">S</tspan><tspan dy="2.66" font-size="6.46">2</tspan></text>
<line x1="142.4" y1="224.9" x2="166.1" y2="224.9" stroke="#333" stroke-width="1.7"/>
<text x="168.6" y="228.3" font-size="9.5" font-weight="bold" text-anchor="start" fill="#000">Cr<tspan dy="2.66" font-size="6.46">2</tspan><tspan dy="-2.66">O</tspan><tspan dy="2.66" font-size="6.46">3</tspan></text>
<text x="20" y="199.6" font-size="9.7" font-weight="bold" text-anchor="start" fill="#000">Cr K-edge</text>
<rect x="18.6" y="190.5" width="190.4" height="145.3" stroke="#222" stroke-width="1.1" fill="none"/>
<line x1="18.6" y1="335.8" x2="18.6" y2="338.2" stroke="#222" stroke-width="0.9"/>
<line x1="50.23" y1="335.8" x2="50.23" y2="338.2" stroke="#222" stroke-width="0.9"/>
<line x1="81.87" y1="335.8" x2="81.87" y2="338.2" stroke="#222" stroke-width="0.9"/>
<line x1="113.5" y1="335.8" x2="113.5" y2="338.2" stroke="#222" stroke-width="0.9"/>
<line x1="145.14" y1="335.8" x2="145.14" y2="338.2" stroke="#222" stroke-width="0.9"/>
<line x1="176.78" y1="335.8" x2="176.78" y2="338.2" stroke="#222" stroke-width="0.9"/>
<line x1="208.41" y1="335.8" x2="208.41" y2="338.2" stroke="#222" stroke-width="0.9"/>
<line x1="34.42" y1="335.8" x2="34.42" y2="337.2" stroke="#222" stroke-width="0.9"/>
<line x1="66.05" y1="335.8" x2="66.05" y2="337.2" stroke="#222" stroke-width="0.9"/>
<line x1="97.69" y1="335.8" x2="97.69" y2="337.2" stroke="#222" stroke-width="0.9"/>
<line x1="129.32" y1="335.8" x2="129.32" y2="337.2" stroke="#222" stroke-width="0.9"/>
<line x1="160.96" y1="335.8" x2="160.96" y2="337.2" stroke="#222" stroke-width="0.9"/>
<line x1="192.59" y1="335.8" x2="192.59" y2="337.2" stroke="#222" stroke-width="0.9"/>
<text x="18.6" y="347.4" font-size="8.7" font-weight="bold" text-anchor="middle" fill="#000">5950</text>
<text x="50.23" y="347.4" font-size="8.7" font-weight="bold" text-anchor="middle" fill="#000">6000</text>
<text x="81.87" y="347.4" font-size="8.7" font-weight="bold" text-anchor="middle" fill="#000">6050</text>
<text x="113.5" y="347.4" font-size="8.7" font-weight="bold" text-anchor="middle" fill="#000">6100</text>
<text x="145.14" y="347.4" font-size="8.7" font-weight="bold" text-anchor="middle" fill="#000">6150</text>
<text x="176.78" y="347.4" font-size="8.7" font-weight="bold" text-anchor="middle" fill="#000">6200</text>
<text x="208.41" y="347.4" font-size="8.7" font-weight="bold" text-anchor="middle" fill="#000">6250</text>
<text x="108" y="358.8" font-size="9.9" font-weight="bold" text-anchor="middle" fill="#000">Energy (eV)</text>
<text x="13.5" y="263.2" font-size="10.3" font-weight="bold" text-anchor="middle" fill="#000" transform="rotate(-90 13.5 263.2)">Normalized intensity (a.u.)</text>
<text x="225.6" y="194.2" font-size="16.5" font-weight="bold" text-anchor="start" fill="#000">e</text>
<rect x="260.1" y="187.4" width="186" height="149.4" stroke="#222" stroke-width="1.1" fill="none"/>
<line x1="260.1" y1="187.4" x2="257.7" y2="187.4" stroke="#222" stroke-width="0.9"/>
<line x1="260.1" y1="208.74" x2="257.7" y2="208.74" stroke="#222" stroke-width="0.9"/>
<line x1="260.1" y1="230.08" x2="257.7" y2="230.08" stroke="#222" stroke-width="0.9"/>
<line x1="260.1" y1="251.42" x2="257.7" y2="251.42" stroke="#222" stroke-width="0.9"/>
<line x1="260.1" y1="272.76" x2="257.7" y2="272.76" stroke="#222" stroke-width="0.9"/>
<line x1="260.1" y1="294.1" x2="257.7" y2="294.1" stroke="#222" stroke-width="0.9"/>
<line x1="260.1" y1="315.44" x2="257.7" y2="315.44" stroke="#222" stroke-width="0.9"/>
<line x1="260.1" y1="336.78" x2="257.7" y2="336.78" stroke="#222" stroke-width="0.9"/>
<line x1="260.1" y1="198.07" x2="258.7" y2="198.07" stroke="#222" stroke-width="0.9"/>
<line x1="260.1" y1="219.41" x2="258.7" y2="219.41" stroke="#222" stroke-width="0.9"/>
<line x1="260.1" y1="240.75" x2="258.7" y2="240.75" stroke="#222" stroke-width="0.9"/>
<line x1="260.1" y1="262.09" x2="258.7" y2="262.09" stroke="#222" stroke-width="0.9"/>
<line x1="260.1" y1="283.43" x2="258.7" y2="283.43" stroke="#222" stroke-width="0.9"/>
<line x1="260.1" y1="304.77" x2="258.7" y2="304.77" stroke="#222" stroke-width="0.9"/>
<line x1="260.1" y1="326.11" x2="258.7" y2="326.11" stroke="#222" stroke-width="0.9"/>
<text x="255.8" y="190.2" font-size="8.7" font-weight="bold" text-anchor="end" fill="#000">6002</text>
<text x="255.8" y="211.54" font-size="8.7" font-weight="bold" text-anchor="end" fill="#000">6000</text>
<text x="255.8" y="232.88" font-size="8.7" font-weight="bold" text-anchor="end" fill="#000">5998</text>
<text x="255.8" y="254.22" font-size="8.7" font-weight="bold" text-anchor="end" fill="#000">5996</text>
<text x="255.8" y="275.56" font-size="8.7" font-weight="bold" text-anchor="end" fill="#000">5994</text>
<text x="255.8" y="296.9" font-size="8.7" font-weight="bold" text-anchor="end" fill="#000">5992</text>
<text x="255.8" y="318.24" font-size="8.7" font-weight="bold" text-anchor="end" fill="#000">5990</text>
<text x="255.8" y="339.58" font-size="8.7" font-weight="bold" text-anchor="end" fill="#000">5988</text>
<line x1="269.5" y1="336.8" x2="269.5" y2="339" stroke="#222" stroke-width="0.9"/>
<line x1="293.3" y1="336.8" x2="293.3" y2="339" stroke="#222" stroke-width="0.9"/>
<line x1="317.1" y1="336.8" x2="317.1" y2="339" stroke="#222" stroke-width="0.9"/>
<line x1="340.9" y1="336.8" x2="340.9" y2="339" stroke="#222" stroke-width="0.9"/>
<line x1="364.7" y1="336.8" x2="364.7" y2="339" stroke="#222" stroke-width="0.9"/>
<line x1="388.5" y1="336.8" x2="388.5" y2="339" stroke="#222" stroke-width="0.9"/>
<line x1="412.3" y1="336.8" x2="412.3" y2="339" stroke="#222" stroke-width="0.9"/>
<line x1="436.1" y1="336.8" x2="436.1" y2="339" stroke="#222" stroke-width="0.9"/>
<line x1="257.6" y1="336.8" x2="257.6" y2="338.1" stroke="#222" stroke-width="0.9"/>
<line x1="281.4" y1="336.8" x2="281.4" y2="338.1" stroke="#222" stroke-width="0.9"/>
<line x1="305.2" y1="336.8" x2="305.2" y2="338.1" stroke="#222" stroke-width="0.9"/>
<line x1="329" y1="336.8" x2="329" y2="338.1" stroke="#222" stroke-width="0.9"/>
<line x1="352.8" y1="336.8" x2="352.8" y2="338.1" stroke="#222" stroke-width="0.9"/>
<line x1="376.6" y1="336.8" x2="376.6" y2="338.1" stroke="#222" stroke-width="0.9"/>
<line x1="400.4" y1="336.8" x2="400.4" y2="338.1" stroke="#222" stroke-width="0.9"/>
<line x1="424.2" y1="336.8" x2="424.2" y2="338.1" stroke="#222" stroke-width="0.9"/>
<line x1="448" y1="336.8" x2="448" y2="338.1" stroke="#222" stroke-width="0.9"/>
<text x="269.5" y="349.1" font-size="8.7" font-weight="bold" text-anchor="middle" fill="#000">0.0</text>
<text x="293.3" y="349.1" font-size="8.7" font-weight="bold" text-anchor="middle" fill="#000">0.5</text>
<text x="317.1" y="349.1" font-size="8.7" font-weight="bold" text-anchor="middle" fill="#000">1.0</text>
<text x="340.9" y="349.1" font-size="8.7" font-weight="bold" text-anchor="middle" fill="#000">1.5</text>
<text x="364.7" y="349.1" font-size="8.7" font-weight="bold" text-anchor="middle" fill="#000">2.0</text>
<text x="388.5" y="349.1" font-size="8.7" font-weight="bold" text-anchor="middle" fill="#000">2.5</text>
<text x="412.3" y="349.1" font-size="8.7" font-weight="bold" text-anchor="middle" fill="#000">3.0</text>
<text x="436.1" y="349.1" font-size="8.7" font-weight="bold" text-anchor="middle" fill="#000">3.5</text>
<text x="354" y="364.6" font-size="9.7" font-weight="bold" text-anchor="middle" fill="#000">Oxidate Valence</text>
<text x="233.4" y="261.4" font-size="9.7" font-weight="bold" text-anchor="middle" fill="#000" transform="rotate(-90 233.4 261.4)">Energy (eV)</text>
<line x1="269.8" y1="325.6" x2="435.6" y2="206.6" stroke="#4a73a8" stroke-width="1.1"/>
<circle cx="269.3" cy="326.3" r="2.6" fill="url(#ballg)" stroke="#c8383c" stroke-width="0.6"/>
<circle cx="412.3" cy="220" r="2.6" fill="url(#ballg)" stroke="#c8383c" stroke-width="0.6"/>
<polygon points="435.6,202.2 436.98,205 440.07,205.45 437.83,207.63 438.36,210.7 435.6,209.25 432.84,210.7 433.37,207.63 431.13,205.45 434.22,205" fill="#f01818"/>
<text x="276.5" y="331" font-size="9.7" font-weight="bold" text-anchor="start" fill="#000">Cr foil</text>
<text x="408" y="235.4" font-size="9.5" font-weight="bold" text-anchor="start" fill="#000">Cr<tspan dy="2.66" font-size="6.46">2</tspan><tspan dy="-2.66">O</tspan><tspan dy="2.66" font-size="6.46">3</tspan></text>
<text x="404.8" y="198.9" font-size="9.5" font-weight="bold" text-anchor="start" fill="#000">Cr-Ni<tspan dy="2.66" font-size="6.46">3</tspan><tspan dy="-2.66">S</tspan><tspan dy="2.66" font-size="6.46">2</tspan></text>
<text x="464.4" y="195.4" font-size="16.5" font-weight="bold" text-anchor="start" fill="#000">f</text>
<clipPath id="cf"><rect x="482" y="187.9" width="185.8" height="149.5"/></clipPath><g clip-path="url(#cf)">
<path d="M482.5,222.3 C483.1,222.18 484.43,222.12 486.1,221.6 C487.77,221.08 490.77,219.63 492.5,219.2 C494.23,218.77 495.17,218.68 496.5,219 C497.83,219.32 499.3,221.42 500.5,221.1 C501.7,220.78 502.37,219.37 503.7,217.1 C505.03,214.83 506.88,210.43 508.5,207.5 C510.12,204.57 511.78,201.7 513.4,199.5 C515.02,197.3 516.6,195.43 518.2,194.3 C519.8,193.17 521.4,192.7 523,192.7 C524.6,192.7 526.2,193.17 527.8,194.3 C529.4,195.43 531,197.57 532.6,199.5 C534.2,201.43 535.78,204.17 537.4,205.9 C539.02,207.63 540.95,209.1 542.3,209.9 C543.65,210.7 544.17,210.83 545.5,210.7 C546.83,210.57 548.43,209.77 550.3,209.1 C552.17,208.43 554.83,207.1 556.7,206.7 C558.57,206.3 559.88,206.17 561.5,206.7 C563.12,207.23 564.78,208.57 566.4,209.9 C568.02,211.23 569.77,213.5 571.2,214.7 C572.63,215.9 573.57,216.97 575,217.1 C576.43,217.23 577.93,216.08 579.8,215.5 C581.67,214.92 584.05,213.73 586.2,213.6 C588.35,213.47 590.28,214.12 592.7,214.7 C595.12,215.28 598.03,216.52 600.7,217.1 C603.37,217.68 606.02,218.47 608.7,218.2 C611.38,217.93 614.12,216.35 616.8,215.5 C619.48,214.65 622.13,213.63 624.8,213.1 C627.47,212.57 630.13,212.3 632.8,212.3 C635.47,212.3 637.85,212.7 640.8,213.1 C643.75,213.5 647.28,214.08 650.5,214.7 C653.72,215.32 657.22,216.08 660.1,216.8 C662.98,217.52 666.52,218.63 667.8,219" fill="none" stroke="#333" stroke-width="1.1" stroke-linejoin="round" stroke-linecap="round"/>
<path d="M482.5,272.4 C483.1,272.67 484.97,273.52 486.1,274 C487.23,274.48 487.97,275.7 489.3,275.3 C490.63,274.9 492.23,272.88 494.1,271.6 C495.97,270.32 498.77,268.33 500.5,267.6 C502.23,266.87 503.17,267.13 504.5,267.2 C505.83,267.27 507.15,268.48 508.5,268 C509.85,267.52 511.25,266.38 512.6,264.3 C513.95,262.22 515.13,258.83 516.6,255.5 C518.07,252.17 519.8,247.65 521.4,244.3 C523,240.95 524.73,237.28 526.2,235.4 C527.67,233.52 528.73,233 530.2,233 C531.67,233 533.52,233.52 535,235.4 C536.48,237.28 537.62,240.42 539.1,244.3 C540.58,248.18 542.35,253.88 543.9,258.7 C545.45,263.52 547.07,272.4 548.4,273.2 C549.73,274 550.52,266.98 551.9,263.5 C553.28,260.02 554.83,255.15 556.7,252.3 C558.57,249.45 560.95,246.67 563.1,246.4 C565.25,246.13 567.62,248.65 569.6,250.7 C571.58,252.75 573.3,256.02 575,258.7 C576.7,261.38 577.93,264.07 579.8,266.8 C581.67,269.53 584.32,274.12 586.2,275.1 C588.08,276.08 589.48,273.23 591.1,272.7 C592.72,272.17 594.03,271.82 595.9,271.9 C597.77,271.98 600.17,272.72 602.3,273.2 C604.43,273.68 606.28,274.58 608.7,274.8 C611.12,275.02 614.38,274.42 616.8,274.5 C619.22,274.58 620.8,275.33 623.2,275.3 C625.6,275.27 628.53,274.33 631.2,274.3 C633.87,274.27 636.52,275.33 639.2,275.1 C641.88,274.87 644.62,273.48 647.3,272.9 C649.98,272.32 652.9,271.82 655.3,271.6 C657.7,271.38 659.62,271.42 661.7,271.6 C663.78,271.78 666.78,272.52 667.8,272.7" fill="none" stroke="#e8545c" stroke-width="1.1" stroke-linejoin="round" stroke-linecap="round"/>
<path d="M482.5,331.5 C483.63,331.2 487.1,329.7 489.3,329.7 C491.5,329.7 493.3,331.82 495.7,331.5 C498.1,331.18 501.83,328.33 503.7,327.8 C505.57,327.27 505.62,327.77 506.9,328.3 C508.18,328.83 509.92,331.22 511.4,331 C512.88,330.78 514.27,328.27 515.8,327 C517.33,325.73 519.13,323.67 520.6,323.4 C522.07,323.13 523.53,324.98 524.6,325.4 C525.67,325.82 526.07,327.65 527,325.9 C527.93,324.15 529,319.13 530.2,314.9 C531.4,310.67 532.72,304.72 534.2,300.5 C535.68,296.28 537.62,292.02 539.1,289.6 C540.58,287.18 541.77,286.2 543.1,286 C544.43,285.8 545.77,286.25 547.1,288.4 C548.43,290.55 549.77,294.48 551.1,298.9 C552.43,303.32 553.77,309.6 555.1,314.9 C556.43,320.2 557.9,329.22 559.1,330.7 C560.3,332.18 561.08,325.9 562.3,323.8 C563.52,321.7 565.18,319.32 566.4,318.1 C567.62,316.88 568.27,316.35 569.6,316.5 C570.93,316.65 572.43,317.52 574.4,319 C576.37,320.48 578.88,323.45 581.4,325.4 C583.92,327.35 586.82,329.72 589.5,330.7 C592.18,331.68 594.83,331.65 597.5,331.3 C600.17,330.95 602.7,329.45 605.5,328.6 C608.3,327.75 611.35,326.2 614.3,326.2 C617.25,326.2 620.12,327.67 623.2,328.6 C626.28,329.53 629.87,331.4 632.8,331.8 C635.73,332.2 638.12,331.4 640.8,331 C643.48,330.6 646.48,329.53 648.9,329.4 C651.32,329.27 653.17,329.72 655.3,330.2 C657.43,330.68 659.62,332.38 661.7,332.3 C663.78,332.22 666.78,330.13 667.8,329.7" fill="none" stroke="#5db43c" stroke-width="1.1" stroke-linejoin="round" stroke-linecap="round"/>
</g>
<line x1="522.7" y1="189.5" x2="522.7" y2="228" stroke="#f03c3c" stroke-width="1.1" stroke-dasharray="1.3 2.1"/>
<line x1="530.4" y1="230.5" x2="530.4" y2="281" stroke="#f03c3c" stroke-width="1.1" stroke-dasharray="1.3 2.1"/>
<line x1="543.5" y1="283.5" x2="543.5" y2="336" stroke="#f03c3c" stroke-width="1.1" stroke-dasharray="1.3 2.1"/>
<text x="492.3" y="198.7" font-size="9.4" font-weight="bold" text-anchor="start" fill="#000">Cr-O</text>
<text x="540.5" y="239.8" font-size="9.4" font-weight="bold" text-anchor="start" fill="#000">Cr-S/O</text>
<text x="550.9" y="290.8" font-size="9.4" font-weight="bold" text-anchor="start" fill="#000">Cr-S</text>
<line x1="621.3" y1="197" x2="638.4" y2="197" stroke="#333" stroke-width="1.2"/>
<text x="641.4" y="200.4" font-size="9" font-weight="bold" text-anchor="start" fill="#000">Cr<tspan dy="2.52" font-size="6.12">2</tspan><tspan dy="-2.52">O</tspan><tspan dy="2.52" font-size="6.12">3</tspan></text>
<line x1="607.9" y1="239" x2="625.6" y2="239" stroke="#e8545c" stroke-width="1.2"/>
<text x="627.8" y="242" font-size="9" font-weight="bold" text-anchor="start" fill="#000">Cr-Ni<tspan dy="2.52" font-size="6.12">3</tspan><tspan dy="-2.52">S</tspan><tspan dy="2.52" font-size="6.12">2</tspan></text>
<line x1="618" y1="290.5" x2="636" y2="290.5" stroke="#5db43c" stroke-width="1.2"/>
<text x="638.2" y="293.4" font-size="9" font-weight="bold" text-anchor="start" fill="#000">Cr<tspan dy="2.52" font-size="6.12">2</tspan><tspan dy="-2.52">S</tspan><tspan dy="2.52" font-size="6.12">3</tspan></text>
<rect x="482" y="187.9" width="185.8" height="149.5" stroke="#222" stroke-width="1.1" fill="none"/>
<line x1="482" y1="228.6" x2="667.8" y2="228.6" stroke="#222" stroke-width="1.1"/>
<line x1="482" y1="281.5" x2="667.8" y2="281.5" stroke="#222" stroke-width="1.1"/>
<line x1="482.4" y1="337.4" x2="482.4" y2="339.8" stroke="#222" stroke-width="0.9"/>
<line x1="513.3" y1="337.4" x2="513.3" y2="339.8" stroke="#222" stroke-width="0.9"/>
<line x1="544.2" y1="337.4" x2="544.2" y2="339.8" stroke="#222" stroke-width="0.9"/>
<line x1="575.1" y1="337.4" x2="575.1" y2="339.8" stroke="#222" stroke-width="0.9"/>
<line x1="606" y1="337.4" x2="606" y2="339.8" stroke="#222" stroke-width="0.9"/>
<line x1="636.9" y1="337.4" x2="636.9" y2="339.8" stroke="#222" stroke-width="0.9"/>
<line x1="667.8" y1="337.4" x2="667.8" y2="339.8" stroke="#222" stroke-width="0.9"/>
<line x1="497.85" y1="337.4" x2="497.85" y2="338.8" stroke="#222" stroke-width="0.9"/>
<line x1="528.75" y1="337.4" x2="528.75" y2="338.8" stroke="#222" stroke-width="0.9"/>
<line x1="559.65" y1="337.4" x2="559.65" y2="338.8" stroke="#222" stroke-width="0.9"/>
<line x1="590.55" y1="337.4" x2="590.55" y2="338.8" stroke="#222" stroke-width="0.9"/>
<line x1="621.45" y1="337.4" x2="621.45" y2="338.8" stroke="#222" stroke-width="0.9"/>
<line x1="652.35" y1="337.4" x2="652.35" y2="338.8" stroke="#222" stroke-width="0.9"/>
<text x="482.4" y="349.1" font-size="8.7" font-weight="bold" text-anchor="middle" fill="#000">0</text>
<text x="513.3" y="349.1" font-size="8.7" font-weight="bold" text-anchor="middle" fill="#000">1</text>
<text x="544.2" y="349.1" font-size="8.7" font-weight="bold" text-anchor="middle" fill="#000">2</text>
<text x="575.1" y="349.1" font-size="8.7" font-weight="bold" text-anchor="middle" fill="#000">3</text>
<text x="606" y="349.1" font-size="8.7" font-weight="bold" text-anchor="middle" fill="#000">4</text>
<text x="636.9" y="349.1" font-size="8.7" font-weight="bold" text-anchor="middle" fill="#000">5</text>
<text x="667.8" y="349.1" font-size="8.7" font-weight="bold" text-anchor="middle" fill="#000">6</text>
<text x="575" y="360.8" font-size="9.8" font-weight="bold" text-anchor="middle" fill="#000">R (Å)</text>
<text x="475.8" y="262.6" font-size="9.9" font-weight="bold" text-anchor="middle" transform="rotate(-90 475.8 262.6)">FT(<tspan font-style="italic">k</tspan><tspan dy="-3.56" font-size="6.73">3</tspan><tspan dy="3.56">c(</tspan><tspan font-style="italic">k</tspan>)) (Å<tspan dy="-3.56" font-size="6.73">-4</tspan><tspan dy="3.56">)</tspan></text>
<defs><filter id="mblur" x="-5%" y="-5%" width="110%" height="110%"><feGaussianBlur stdDeviation="0.6"/></filter></defs>
<clipPath id="mg"><rect x="23.40" y="369.80" width="145.50" height="177.30"/></clipPath>
<g clip-path="url(#mg)">
<rect x="20.4" y="366.8" width="151.5" height="183.3" fill="#6b9be9"/>
<g filter="url(#mblur)">
<path d="M118.9,546.8 111.9,547.2 104.9,547.1 97.9,546.7 90.9,545.7 84.4,544.4 80.9,543.5 77.4,542.5 70.9,540.3 64.4,537.7 57.9,534.6 54.4,532.7 50.9,530.6 47.9,528.7 44.9,526.6 42.4,524.8 39.9,522.7 37.8,520.8 35.8,518.8 34.0,516.8 32.4,514.8 31.1,512.8 29.9,510.8 28.7,508.3 28.0,506.3 27.2,503.3 26.7,500.3 26.4,496.8 26.4,492.8 26.7,482.8 27.1,476.8 27.6,471.8 28.6,466.8 29.3,463.8 30.3,460.3 34.9,447.2 36.1,443.3 37.3,439.3 39.4,430.7 44.7,407.3 46.6,399.8 48.7,392.8 51.2,385.3 53.8,378.8 56.6,372.8 58.1,369.8 59.8,366.8 146.5,366.8 148.6,371.8 150.2,376.3 151.7,381.3 153.2,386.8 154.7,393.3 158.9,412.4 160.4,418.3 161.9,423.3 163.9,428.9 165.9,433.6 168.4,438.6 171.9,444.8 171.9,529.3 166.4,532.6 162.9,534.5 159.9,535.9 153.9,538.5 146.9,541.1 140.4,543.0 133.4,544.7 125.9,546.0 118.9,546.8Z" fill="#6e9eea" fill-rule="evenodd"/>
<path d="M115.4,537.3 108.9,537.5 102.4,537.3 95.9,536.7 89.4,535.7 83.4,534.4 76.9,532.5 71.4,530.5 65.4,527.9 59.9,525.0 55.4,522.2 51.4,519.2 49.4,517.5 47.7,515.8 46.3,514.3 44.6,512.3 43.5,510.8 42.3,508.8 41.5,507.3 40.6,505.3 39.9,503.3 39.2,500.8 38.3,496.8 37.5,491.3 36.6,484.8 36.3,479.8 36.2,476.3 36.4,472.8 36.8,469.8 37.6,466.3 38.4,463.3 39.5,460.3 44.7,447.8 45.9,444.6 46.9,441.3 48.4,435.3 51.7,419.3 53.8,410.3 56.1,401.3 58.7,393.3 60.2,389.3 61.6,385.8 63.1,382.3 64.9,378.8 66.5,375.8 68.2,372.8 70.1,369.8 72.2,366.8 138.0,366.8 140.3,371.3 142.2,375.8 144.1,381.3 145.8,387.3 147.2,393.3 148.6,399.8 151.9,419.3 153.1,425.8 154.5,431.8 156.1,437.3 157.9,442.2 159.9,446.8 161.9,450.8 168.6,463.3 171.9,470.3 171.9,513.7 171.4,514.3 169.4,516.5 166.9,518.8 164.4,520.8 161.4,523.0 158.4,524.8 154.9,526.8 151.4,528.5 147.9,530.0 143.9,531.5 140.4,532.7 135.9,534.0 131.9,535.0 127.4,535.9 123.4,536.5 119.4,537.0 115.4,537.3Z" fill="#71a0ea" fill-rule="evenodd"/>
<path d="M112.9,531.3 109.4,531.4 105.9,531.4 102.4,531.3 98.9,531.0 95.4,530.6 91.9,530.1 88.9,529.5 85.4,528.7 82.4,527.9 78.9,526.8 75.9,525.8 72.9,524.6 69.9,523.3 67.4,522.0 64.4,520.3 62.0,518.8 59.9,517.3 58.0,515.8 56.2,514.3 54.7,512.8 52.2,509.8 51.1,508.3 49.8,506.3 48.8,504.3 47.9,502.3 46.2,497.8 44.1,490.8 42.5,484.3 41.8,479.8 41.6,477.3 41.6,475.3 41.9,471.3 42.2,469.3 42.6,467.3 43.5,464.3 44.8,460.8 46.2,457.8 51.1,447.8 52.4,444.6 53.5,441.3 54.4,438.3 55.1,435.3 57.7,421.8 59.5,413.8 61.3,406.8 63.2,400.3 65.1,394.8 67.1,389.8 69.1,385.3 71.1,381.3 73.3,377.3 75.9,373.3 78.4,369.8 80.8,366.8 131.6,366.8 133.3,369.3 134.7,371.8 135.9,374.3 137.3,377.3 138.5,380.3 139.5,383.3 140.6,386.8 141.5,390.3 143.1,397.3 144.5,405.3 145.6,412.8 147.5,426.8 148.4,432.7 149.4,437.7 150.5,441.8 151.8,445.8 153.4,449.6 154.9,452.9 160.1,463.3 161.6,466.8 163.1,470.3 164.5,474.3 165.7,478.3 166.8,482.3 167.6,485.8 168.3,490.8 168.5,493.3 168.5,495.3 168.4,497.3 168.1,499.3 167.7,501.3 167.3,502.8 166.5,504.8 165.8,506.3 164.7,508.3 163.7,509.8 162.4,511.5 160.8,513.3 159.3,514.8 157.6,516.3 155.6,517.8 153.5,519.3 151.4,520.6 148.9,522.0 146.3,523.3 143.4,524.6 137.9,526.7 131.9,528.4 125.4,529.9 119.4,530.8 112.9,531.3Z" fill="#74a2eb" fill-rule="evenodd"/>
<path d="M116.4,526.3 113.4,526.6 109.9,526.7 106.4,526.8 102.9,526.6 99.9,526.4 96.4,526.1 92.9,525.6 89.9,525.0 83.9,523.5 80.9,522.6 77.9,521.5 74.9,520.2 72.4,519.0 69.9,517.7 67.4,516.2 65.4,514.8 63.4,513.3 60.4,510.5 58.9,508.9 57.6,507.3 55.2,503.8 53.8,501.3 52.3,498.3 50.7,494.8 49.3,491.3 47.3,485.8 46.6,483.3 46.1,480.8 45.6,477.3 45.5,473.8 45.9,470.3 46.7,466.8 47.7,463.8 49.2,460.3 50.7,457.3 54.4,450.8 56.0,447.8 57.4,444.8 58.5,441.8 59.4,438.8 60.1,435.8 62.7,422.3 64.3,415.3 66.1,408.3 67.9,403.0 72.8,389.8 74.7,385.8 76.8,381.8 79.5,377.3 82.4,373.3 85.3,369.8 88.2,366.8 125.7,366.8 127.9,369.4 129.9,372.3 131.4,374.8 132.7,377.3 133.8,379.8 135.0,382.8 136.1,385.8 137.0,388.8 138.8,395.8 140.0,402.3 141.1,408.8 142.2,417.3 144.1,435.3 144.8,439.8 145.7,443.8 146.8,447.3 148.0,450.3 149.4,453.5 153.6,462.3 155.0,465.3 156.1,468.3 157.2,471.3 158.2,474.8 159.0,478.3 159.6,481.3 160.3,486.3 160.7,491.3 160.6,495.3 160.1,498.8 159.7,500.8 159.2,502.3 157.8,505.3 157.0,506.8 155.9,508.3 154.8,509.8 153.4,511.3 151.8,512.8 150.0,514.3 146.5,516.8 142.4,519.1 137.9,521.1 132.9,522.9 127.4,524.5 121.9,525.6 116.4,526.3ZM84.6,401.8 85.5,401.3 85.8,400.8 86.0,400.3 85.9,399.8 85.6,399.3 85.0,398.8 83.9,398.4 82.9,398.4 81.9,398.6 81.4,398.9 81.0,399.3 80.8,399.8 80.7,400.3 80.9,400.8 81.4,401.3 82.3,401.8 82.9,402.0 83.9,402.0 84.6,401.8Z" fill="#77a5eb" fill-rule="evenodd"/>
<path d="M106.9,522.8 100.9,522.6 95.4,522.0 89.9,520.9 84.4,519.4 79.4,517.6 74.9,515.5 70.9,513.1 68.9,511.7 66.9,510.1 64.9,508.3 63.4,506.7 61.8,504.8 59.9,502.3 58.2,499.8 56.4,496.9 54.6,493.8 53.1,490.8 51.9,488.3 50.9,485.8 50.0,483.3 49.5,481.3 49.0,479.3 48.7,476.8 48.6,474.8 48.7,472.8 49.0,470.3 49.5,467.8 50.3,465.3 51.3,462.8 52.3,460.8 53.6,458.3 58.6,450.3 60.0,447.8 61.5,444.8 62.8,441.8 63.5,439.3 64.3,436.3 66.9,422.8 68.7,415.3 70.4,409.3 71.1,407.3 71.9,405.8 72.6,404.8 73.4,403.9 73.9,403.5 74.9,403.0 75.4,402.9 76.4,402.9 80.0,403.8 81.4,404.0 82.9,404.1 83.9,404.0 85.4,403.6 86.4,403.1 87.4,402.3 88.1,401.3 88.3,400.3 88.2,399.3 87.7,398.3 86.7,397.3 85.9,396.7 84.4,396.1 82.9,395.7 79.9,395.1 79.0,394.8 78.2,394.3 77.9,393.8 77.7,393.3 77.5,392.3 77.6,391.3 78.0,389.8 78.5,388.3 79.4,386.3 80.5,384.3 83.2,379.8 86.1,375.8 87.8,373.8 89.4,372.1 92.4,369.3 93.9,368.1 95.9,366.8 119.0,366.8 121.4,368.7 123.5,370.8 125.4,373.3 127.3,376.3 129.9,380.9 131.5,384.3 133.1,388.3 134.4,392.3 135.5,396.8 136.6,401.8 137.5,407.3 138.3,412.3 139.3,421.8 140.4,437.2 140.8,440.3 141.2,442.8 142.0,446.3 143.3,449.8 144.8,453.3 148.2,460.3 150.0,464.3 151.5,468.3 152.6,471.8 153.6,476.3 154.2,481.3 154.5,486.8 154.5,489.8 154.3,492.3 153.9,495.8 153.2,499.3 152.0,502.3 150.7,504.8 149.0,507.3 146.7,509.8 144.4,511.8 141.4,514.0 137.9,516.0 134.4,517.6 130.4,519.1 125.9,520.5 121.4,521.5 116.4,522.2 111.9,522.6 106.9,522.8ZM119.3,386.8 119.9,386.4 120.4,386.0 120.9,385.3 121.1,384.8 121.3,384.3 121.3,383.3 121.1,382.3 120.4,381.4 119.4,380.8 118.4,380.6 117.4,380.6 116.9,380.8 115.9,381.4 115.4,381.9 114.9,382.8 114.7,383.3 114.7,384.3 114.9,385.3 115.7,386.3 116.4,386.8 116.9,387.0 117.9,387.1 118.4,387.1 119.3,386.8Z" fill="#7aa7ec" fill-rule="evenodd"/>
<path d="M113.9,518.8 108.4,519.2 102.9,519.1 97.4,518.6 91.9,517.7 86.9,516.4 84.4,515.5 81.9,514.6 79.4,513.5 77.4,512.4 75.4,511.3 73.4,510.0 71.4,508.5 69.4,506.8 67.4,505.0 65.4,502.9 63.4,500.6 61.4,498.0 57.8,492.8 55.1,488.3 54.1,486.3 53.1,483.8 52.3,481.3 51.8,479.3 51.4,477.3 51.3,475.3 51.3,472.8 51.7,469.8 52.4,466.8 53.6,463.8 54.8,461.3 56.6,458.3 62.0,450.3 63.9,447.3 65.5,444.3 66.7,441.3 67.5,438.8 68.1,436.3 70.3,424.8 71.6,418.8 73.1,413.3 73.8,411.3 74.4,409.8 75.0,408.8 75.8,407.8 76.4,407.2 77.4,406.7 78.9,406.2 83.9,405.5 85.4,405.1 86.9,404.4 87.9,403.8 88.9,402.8 89.4,402.1 89.8,401.3 90.0,400.3 89.9,399.3 89.6,398.3 89.1,397.3 88.4,396.5 87.4,395.6 85.0,393.8 83.7,392.8 83.0,391.8 82.7,390.8 82.8,389.3 83.3,387.8 84.0,386.3 86.1,382.8 89.0,378.8 91.9,375.5 93.4,374.1 94.9,372.8 96.4,371.7 97.9,370.8 99.4,369.9 100.9,369.3 102.4,368.7 103.9,368.3 105.4,368.0 106.9,367.9 108.9,367.9 110.9,368.2 112.9,368.8 114.4,369.4 115.9,370.3 117.1,371.3 118.4,372.8 118.9,373.8 119.0,374.8 118.9,375.3 118.6,375.8 118.0,376.3 115.4,378.2 114.4,379.2 113.4,380.7 112.9,381.8 112.7,383.3 112.8,384.8 113.4,386.3 113.9,387.1 114.4,387.6 115.4,388.4 116.9,388.9 117.9,389.1 119.4,389.0 120.4,388.7 121.4,388.3 122.3,387.8 124.9,386.1 125.9,385.8 126.4,385.8 126.9,386.0 127.4,386.3 128.4,387.3 129.4,388.8 130.6,391.3 131.9,395.3 133.3,400.8 134.6,407.3 135.6,413.8 136.2,418.8 136.6,423.8 137.2,439.3 137.5,442.3 138.0,444.8 138.8,447.8 139.9,450.9 141.4,454.2 145.6,462.8 146.7,465.3 147.6,467.8 148.5,470.8 149.1,473.3 149.5,476.3 149.8,479.3 149.8,483.3 149.6,487.8 149.0,491.8 148.2,495.8 147.2,498.8 145.9,501.8 144.3,504.3 142.4,506.7 139.9,509.1 136.9,511.3 133.9,513.1 130.4,514.7 126.4,516.2 122.4,517.3 118.4,518.2 113.9,518.8Z" fill="#83adee" fill-rule="evenodd"/>
<path d="M107.4,515.8 102.4,515.7 97.9,515.3 93.4,514.5 88.9,513.4 84.9,512.0 80.9,510.2 76.9,507.9 73.4,505.5 71.4,503.9 69.4,502.1 65.4,498.0 61.8,493.8 59.9,491.3 58.6,489.3 57.4,487.3 56.3,485.3 54.9,481.8 54.3,479.8 53.8,477.8 53.6,476.3 53.5,474.3 53.7,471.8 54.2,468.8 55.1,465.8 56.5,462.8 57.9,460.3 59.6,457.8 65.5,449.8 67.5,446.8 69.0,444.3 70.2,441.8 70.7,440.3 71.3,437.8 73.5,426.3 74.8,420.3 76.4,414.3 76.9,412.8 77.6,411.3 78.6,409.8 79.9,408.7 81.8,407.8 86.4,406.1 88.4,404.9 89.4,404.1 90.1,403.3 91.0,401.8 91.3,400.8 91.4,399.8 91.3,398.8 91.1,397.8 90.6,396.8 90.0,395.8 87.8,392.8 87.1,391.3 87.0,390.3 87.1,389.3 87.4,388.3 88.1,386.8 89.9,384.0 92.0,381.3 94.4,378.7 96.9,376.6 99.4,374.9 101.9,373.7 104.4,372.9 105.9,372.7 106.9,372.7 108.4,372.8 109.9,373.3 110.9,373.9 111.4,374.3 111.7,374.8 111.9,375.3 111.9,376.3 111.8,377.3 111.0,380.8 110.8,382.3 110.8,383.3 111.1,384.8 111.4,385.8 112.2,387.3 113.0,388.3 113.9,389.1 114.9,389.8 115.9,390.2 117.4,390.6 119.4,390.8 123.9,390.4 124.9,390.6 125.4,390.7 126.4,391.4 127.2,392.3 127.9,393.4 128.7,395.3 130.1,399.8 131.6,405.8 132.8,411.8 133.6,417.3 134.1,421.8 134.3,426.3 134.4,440.8 134.6,443.3 135.0,445.8 135.8,448.8 136.9,451.7 138.2,454.3 142.3,462.3 143.4,464.8 144.3,467.3 145.2,470.3 145.8,472.8 146.2,475.8 146.3,478.8 146.1,482.8 145.5,486.8 144.6,490.8 143.4,494.8 142.2,497.8 140.5,500.8 138.8,503.3 136.4,505.8 133.9,507.9 130.9,509.9 127.4,511.6 123.9,513.0 119.9,514.2 115.9,515.0 111.9,515.5 107.4,515.8ZM86.3,445.3 86.9,444.8 86.9,444.3 86.4,443.9 85.9,443.7 84.9,443.6 84.4,443.6 83.9,443.8 83.4,444.3 83.6,444.8 84.2,445.3 85.4,445.5 86.3,445.3Z" fill="#8cb4ef" fill-rule="evenodd"/>
<path d="M109.9,512.3 105.4,512.5 100.9,512.3 96.4,511.8 91.9,510.8 87.9,509.6 83.9,508.0 79.9,505.9 75.9,503.4 73.4,501.6 71.4,500.0 67.4,496.4 63.9,492.6 62.4,490.8 60.9,488.8 58.7,485.3 57.7,483.3 57.1,481.8 56.6,480.3 56.0,478.3 55.7,476.3 55.6,474.8 55.7,471.8 56.3,468.8 57.3,465.8 58.2,463.8 59.0,462.3 60.5,459.8 62.9,456.6 69.9,448.0 73.7,443.8 74.1,443.3 74.6,442.3 74.7,441.3 74.8,438.3 75.0,435.8 75.5,432.3 76.6,426.8 77.5,422.3 78.6,418.3 79.6,414.8 80.4,412.8 81.3,411.3 82.2,410.3 82.8,409.8 84.2,408.8 87.9,406.7 89.9,405.3 91.4,403.7 92.0,402.8 92.4,401.8 92.8,400.3 92.9,399.3 92.8,398.3 92.5,396.8 91.1,393.3 90.8,391.8 90.8,390.3 91.1,389.3 91.6,388.3 92.9,386.3 94.4,384.4 95.9,382.8 97.9,381.0 99.6,379.8 101.4,378.9 102.9,378.3 104.4,378.1 105.4,378.1 106.1,378.3 106.9,378.8 107.4,379.3 107.9,380.3 109.0,384.3 109.8,386.3 110.4,387.3 111.1,388.3 112.4,389.7 113.9,390.8 115.9,391.7 117.9,392.3 121.9,393.0 123.4,393.6 124.4,394.3 125.2,395.3 125.9,396.4 126.5,397.8 128.0,402.3 129.6,408.3 130.8,413.8 131.6,419.3 132.0,423.8 132.2,427.8 132.1,431.8 131.7,439.3 131.7,441.8 131.9,444.3 132.3,446.8 133.0,449.3 134.0,451.8 135.2,454.3 139.3,461.8 140.2,463.8 141.2,466.3 142.1,468.8 142.7,471.3 143.1,473.8 143.3,476.3 143.3,479.8 142.8,483.3 142.0,486.8 140.9,490.1 139.4,493.7 137.7,496.8 135.9,499.6 133.9,502.0 131.9,503.9 129.4,505.9 126.9,507.4 123.9,508.9 120.9,510.1 117.4,511.1 113.9,511.8 109.9,512.3ZM86.8,446.8 87.9,446.4 88.4,446.1 88.8,445.8 89.2,445.3 89.3,444.8 89.3,444.3 89.1,443.8 88.8,443.3 88.2,442.8 87.4,442.4 86.4,442.0 85.4,441.8 84.4,441.7 82.9,441.7 81.9,441.9 80.4,442.3 79.6,442.8 79.1,443.3 79.0,443.8 79.1,444.3 79.4,444.8 79.8,445.3 80.5,445.8 81.5,446.3 82.9,446.8 83.9,446.9 85.4,447.0 86.8,446.8Z" fill="#97bcf1" fill-rule="evenodd"/>
<path d="M105.4,509.3 100.9,509.2 96.9,508.7 92.9,507.9 88.9,506.7 84.9,505.2 81.4,503.5 77.4,501.2 73.9,498.8 70.4,496.0 66.9,492.8 64.1,489.8 61.9,486.8 60.9,485.3 59.9,483.5 59.1,481.8 58.5,480.3 57.8,477.3 57.5,474.3 57.6,471.3 58.1,468.8 59.2,465.8 60.7,462.8 62.7,459.8 64.9,456.9 68.9,452.4 71.9,449.3 73.4,448.1 74.4,447.5 75.4,447.2 76.4,447.0 77.9,447.0 81.9,447.8 83.4,447.9 85.4,447.9 86.9,447.7 88.4,447.3 89.4,446.8 90.0,446.3 90.4,445.8 90.7,445.3 90.8,444.8 90.8,444.3 90.5,443.3 89.9,442.6 88.9,441.8 87.9,441.3 86.4,440.7 84.9,440.4 81.8,439.8 80.4,439.4 79.4,438.8 78.9,438.2 78.7,437.8 78.4,436.8 78.3,434.8 78.7,431.8 79.7,426.3 80.7,421.8 81.8,417.8 82.8,414.8 83.7,412.8 84.7,411.3 85.7,410.3 89.9,407.0 91.4,405.6 92.9,403.8 93.7,402.3 94.2,400.8 94.5,398.8 94.5,397.3 94.1,394.3 94.1,392.8 94.4,391.5 94.9,390.3 95.5,389.3 96.4,388.1 97.6,386.8 98.9,385.7 100.4,384.6 101.4,384.1 102.4,383.8 103.4,383.6 104.4,383.8 104.9,384.0 105.9,384.6 106.9,385.8 108.4,387.8 109.7,389.3 110.9,390.5 112.4,391.6 114.9,393.0 119.6,394.8 120.7,395.3 121.4,395.8 122.4,396.7 123.3,397.8 123.9,398.9 124.8,400.8 126.5,405.8 128.1,411.3 129.2,416.3 129.8,420.8 130.1,424.8 130.2,428.8 130.0,432.3 129.4,439.3 129.3,442.3 129.4,444.8 129.8,447.3 130.5,449.8 131.5,452.3 132.8,454.8 136.8,461.8 138.0,464.3 138.8,466.3 139.7,468.8 140.3,471.3 140.6,473.3 140.8,475.8 140.7,478.8 140.1,482.3 139.2,485.8 138.0,488.8 136.4,491.9 134.4,495.1 132.4,497.8 130.0,500.3 127.4,502.5 124.9,504.1 122.4,505.5 119.3,506.8 115.9,507.9 112.4,508.6 108.9,509.1 105.4,509.3Z" fill="#a3c4f3" fill-rule="evenodd"/>
<path d="M109.9,505.8 105.9,506.2 101.9,506.3 97.9,505.9 93.4,505.1 89.4,504.0 85.4,502.6 81.4,500.7 77.4,498.5 73.4,495.8 69.9,493.1 66.9,490.2 64.4,487.3 62.3,484.3 60.8,481.3 60.2,479.8 59.6,477.8 59.4,476.3 59.2,474.8 59.2,472.3 59.4,470.8 59.8,469.3 60.6,466.8 62.0,463.8 63.6,461.3 65.9,458.3 69.4,454.4 72.4,451.5 73.4,450.6 74.7,449.8 75.9,449.2 76.9,448.9 78.9,448.7 82.9,448.8 84.9,448.8 86.4,448.6 87.9,448.3 89.3,447.8 90.3,447.3 90.9,446.8 91.8,445.8 92.1,444.8 92.0,443.8 91.6,442.8 90.7,441.8 89.9,441.2 88.4,440.3 84.9,438.8 83.4,438.0 82.4,437.3 81.8,436.3 81.5,434.8 81.5,433.3 81.9,430.3 82.6,426.3 83.6,421.8 84.8,417.8 85.8,414.8 86.8,412.8 87.8,411.3 88.7,410.3 91.9,407.1 93.1,405.8 94.2,404.3 94.9,403.3 95.6,401.8 96.1,400.3 96.9,395.8 97.3,394.3 97.8,393.3 98.4,392.3 99.4,391.1 100.9,389.9 102.4,389.1 103.4,388.9 104.4,388.9 104.9,389.0 106.4,389.6 111.4,393.1 113.4,394.2 117.4,396.3 118.9,397.3 120.4,398.8 121.4,400.2 122.4,402.0 123.6,404.8 125.3,409.3 126.7,413.8 127.6,418.3 128.2,422.3 128.4,425.8 128.3,429.8 128.1,433.3 127.2,440.3 127.1,442.8 127.1,445.3 127.5,447.8 128.2,450.3 129.3,452.8 130.4,454.8 134.5,461.8 135.6,463.8 136.5,465.8 137.2,467.8 137.9,470.3 138.3,472.3 138.5,474.3 138.5,476.8 138.3,479.3 137.6,482.3 136.8,484.8 135.7,487.3 134.0,490.3 132.3,492.8 130.4,495.1 128.4,497.1 126.4,498.9 123.9,500.7 121.4,502.2 118.9,503.3 115.9,504.5 112.9,505.3 109.9,505.8Z" fill="#b0ccf4" fill-rule="evenodd"/>
<path d="M107.4,503.3 103.9,503.6 99.9,503.5 95.9,503.0 91.9,502.2 87.9,501.1 83.9,499.6 79.9,497.7 76.4,495.7 72.9,493.3 69.9,490.8 67.3,488.3 66.0,486.8 64.9,485.3 63.3,482.8 62.5,481.3 61.9,479.8 61.4,478.3 61.1,476.8 60.9,475.3 60.8,473.8 61.0,471.3 61.5,468.8 62.5,466.3 63.8,463.8 65.4,461.3 67.4,458.8 69.9,456.2 72.9,453.3 74.4,452.1 75.4,451.4 76.5,450.8 77.9,450.3 79.9,449.9 85.9,449.4 87.9,449.1 89.4,448.6 90.9,447.9 91.7,447.3 92.4,446.7 93.0,445.8 93.3,444.8 93.2,443.8 92.9,442.8 92.2,441.8 91.4,441.0 90.4,440.2 87.4,438.3 86.0,437.3 85.1,436.3 84.7,435.3 84.4,433.8 84.6,431.3 85.2,427.3 86.1,423.3 87.0,419.8 88.1,416.3 89.2,413.8 90.3,411.8 91.8,409.8 94.8,406.3 96.2,404.3 97.7,401.8 99.6,397.8 100.2,396.8 100.9,395.9 101.9,395.0 102.9,394.3 103.9,393.9 105.4,393.7 106.4,393.7 107.4,394.0 108.9,394.5 110.4,395.2 114.4,397.4 115.8,398.3 117.0,399.3 117.9,400.3 118.8,401.3 120.4,403.8 122.2,407.3 123.7,410.8 124.9,414.3 125.8,417.8 126.4,421.3 126.7,424.8 126.7,427.8 126.5,431.3 126.2,434.3 125.3,440.3 125.0,442.8 125.0,445.8 125.4,448.3 126.1,450.8 127.2,453.3 128.4,455.3 132.4,461.8 133.5,463.8 134.4,465.8 135.2,467.8 135.9,470.3 136.3,472.3 136.5,474.8 136.4,477.3 136.0,479.8 135.3,482.3 134.3,484.8 133.0,487.3 131.7,489.3 129.9,491.6 127.9,493.8 125.9,495.6 123.9,497.1 121.4,498.8 118.9,500.1 116.4,501.2 113.4,502.1 110.4,502.9 107.4,503.3Z" fill="#bfd6f6" fill-rule="evenodd"/>
<path d="M107.4,500.9 103.9,501.2 99.9,501.2 95.9,500.8 91.9,500.1 87.9,499.0 83.9,497.6 80.4,496.0 76.9,494.0 73.4,491.7 70.5,489.3 68.0,486.8 66.0,484.3 64.4,481.8 63.3,479.3 62.6,476.8 62.4,475.3 62.3,473.8 62.5,471.3 63.1,468.8 64.1,466.3 65.1,464.3 66.4,462.3 68.4,459.8 70.9,457.2 73.4,454.8 74.9,453.6 76.4,452.6 77.9,451.8 78.9,451.4 81.4,450.8 86.9,450.0 88.9,449.5 90.4,449.0 91.4,448.5 92.5,447.8 93.4,447.0 93.9,446.3 94.4,445.3 94.5,444.3 94.4,443.3 94.0,442.3 93.3,441.3 92.4,440.3 89.5,437.8 88.5,436.8 87.8,435.8 87.3,434.3 87.3,432.3 87.7,428.8 88.4,424.8 89.2,421.3 90.0,418.8 90.9,416.3 91.8,414.3 92.8,412.3 94.5,409.8 99.9,402.8 101.9,400.6 103.4,399.4 104.4,398.9 105.4,398.5 106.4,398.3 107.4,398.3 109.4,398.6 110.4,398.9 111.9,399.6 113.9,400.8 115.9,402.5 117.9,404.8 119.9,407.8 121.5,410.8 123.0,414.3 123.9,417.3 124.6,420.3 125.0,423.3 125.1,426.3 125.1,428.8 124.8,431.8 123.4,440.3 123.1,442.8 123.0,445.8 123.3,448.3 124.0,450.8 125.1,453.3 126.5,455.8 130.7,462.3 131.8,464.3 132.8,466.3 133.7,468.8 134.2,470.8 134.5,472.8 134.6,474.8 134.5,476.8 134.1,479.3 133.4,481.6 132.5,483.8 131.4,485.8 129.9,488.1 128.4,489.9 126.6,491.8 124.4,493.7 122.4,495.2 120.4,496.5 117.9,497.8 115.4,498.8 112.9,499.7 109.9,500.4 107.4,500.9Z" fill="#cfe0f9" fill-rule="evenodd"/>
<path d="M106.9,498.8 103.4,499.2 99.4,499.2 95.9,498.9 91.9,498.3 88.4,497.4 84.4,496.0 80.9,494.5 77.4,492.6 74.4,490.7 71.5,488.3 69.4,486.3 67.3,483.8 65.8,481.3 64.7,478.8 64.0,476.3 63.8,474.8 63.8,473.3 64.1,470.8 64.6,468.8 65.4,466.8 66.4,464.8 67.7,462.8 69.4,460.7 71.4,458.6 73.9,456.2 75.4,455.0 77.1,453.8 78.4,453.0 79.9,452.4 81.9,451.8 88.4,450.4 89.9,449.9 91.5,449.3 92.9,448.5 93.9,447.8 94.4,447.3 95.2,446.3 95.6,445.3 95.8,444.3 95.7,443.3 95.3,442.3 94.4,440.7 91.5,437.3 90.8,436.3 90.3,435.3 90.0,433.8 90.0,431.3 90.4,427.8 91.0,424.3 91.8,421.3 92.9,417.8 94.5,414.3 96.3,411.3 98.7,408.3 99.9,406.9 101.4,405.5 103.4,404.0 104.4,403.4 105.4,403.0 106.9,402.7 107.9,402.6 108.9,402.7 109.9,402.9 111.9,403.6 113.9,404.8 115.9,406.6 117.9,408.9 119.4,411.2 120.8,413.8 121.9,416.6 122.7,419.3 123.2,421.8 123.5,424.3 123.6,427.3 123.5,429.8 123.2,432.3 121.7,440.3 121.2,443.3 121.2,446.3 121.5,448.8 122.2,451.3 123.3,453.8 124.9,456.3 128.9,462.3 130.0,464.3 131.0,466.3 131.8,468.3 132.4,470.8 132.7,472.8 132.8,474.8 132.7,476.8 132.3,478.8 131.7,480.8 130.9,482.8 129.8,484.8 128.4,486.8 126.9,488.6 125.3,490.3 123.4,491.9 121.4,493.4 119.4,494.6 116.9,495.9 114.4,496.9 111.9,497.8 109.4,498.4 106.9,498.8Z" fill="#dfebfb" fill-rule="evenodd"/>
<path d="M104.4,497.3 100.9,497.5 97.4,497.4 93.9,497.0 89.9,496.2 86.4,495.2 83.4,494.1 79.9,492.5 76.9,490.7 74.1,488.8 71.8,486.8 69.8,484.8 67.9,482.3 66.8,480.3 65.8,477.8 65.3,475.3 65.2,472.8 65.5,470.8 66.0,468.8 66.8,466.8 67.9,464.8 69.3,462.8 70.9,460.9 72.9,458.9 74.9,457.1 77.9,454.8 79.4,453.9 80.7,453.3 83.4,452.4 89.4,450.9 92.4,449.8 93.9,448.9 94.8,448.3 95.4,447.8 96.3,446.8 96.9,445.8 97.2,444.8 97.2,443.8 97.0,442.8 96.7,441.8 96.2,440.8 94.2,437.8 93.3,436.3 92.8,434.8 92.6,433.3 92.6,430.8 92.8,427.8 93.3,424.8 94.0,421.8 95.1,418.8 96.5,415.8 98.0,413.3 99.9,410.8 101.9,408.9 103.9,407.6 105.9,406.7 106.9,406.5 108.4,406.4 109.9,406.6 111.9,407.2 113.9,408.4 115.4,409.7 116.9,411.3 118.4,413.4 119.7,415.8 120.7,418.3 121.3,420.3 121.8,422.8 122.0,425.3 122.0,427.8 121.9,430.3 121.5,432.8 119.9,440.3 119.5,442.8 119.3,445.8 119.4,447.3 119.6,448.8 120.3,451.3 121.4,453.8 123.0,456.3 127.4,462.8 128.6,464.8 129.5,466.8 130.3,468.8 130.9,471.3 131.1,473.3 131.1,475.3 130.9,477.3 130.4,479.3 129.7,481.3 128.7,483.3 127.4,485.2 126.2,486.8 124.8,488.3 122.9,490.0 120.9,491.5 118.9,492.8 116.4,494.1 114.4,494.9 111.9,495.8 109.4,496.5 106.9,497.0 104.4,497.3Z" fill="#f0f5fd" fill-rule="evenodd"/>
<path d="M103.4,495.8 100.4,496.0 96.9,495.9 93.4,495.5 89.9,494.8 86.9,493.9 83.4,492.7 80.4,491.3 77.4,489.6 74.8,487.8 72.5,485.8 70.6,483.8 69.1,481.8 68.0,479.8 67.1,477.3 66.7,475.3 66.6,472.8 66.8,470.8 67.4,468.8 68.2,466.8 69.1,465.3 70.4,463.4 71.9,461.6 73.7,459.8 75.9,457.9 78.9,455.6 80.4,454.7 81.9,454.0 84.4,453.1 90.9,451.2 93.9,450.0 95.1,449.3 96.6,448.3 97.1,447.8 98.0,446.8 98.6,445.8 98.9,444.8 99.0,443.8 98.8,442.8 98.6,441.8 98.2,440.8 96.6,437.8 95.9,436.3 95.3,434.3 95.1,432.3 95.1,429.8 95.3,427.3 95.6,424.8 96.3,422.3 97.1,419.8 98.4,417.2 99.9,414.8 101.4,413.1 102.9,411.8 103.9,411.1 104.9,410.5 105.9,410.1 106.9,409.9 107.9,409.7 108.9,409.7 110.4,409.9 111.9,410.5 113.4,411.3 114.9,412.5 116.4,414.1 117.4,415.5 118.4,417.3 119.4,419.8 119.9,421.8 120.4,424.3 120.5,426.3 120.4,428.8 120.2,430.8 119.9,432.8 118.1,440.3 117.6,442.8 117.3,445.8 117.6,448.3 118.2,450.8 118.8,452.3 119.6,453.8 121.1,456.3 125.7,462.8 126.9,464.8 127.9,466.8 128.7,468.8 129.3,471.3 129.6,473.3 129.5,475.3 129.3,477.3 128.7,479.3 127.9,481.3 127.1,482.8 125.9,484.6 124.4,486.3 122.9,487.8 121.4,489.1 119.7,490.3 117.9,491.5 115.9,492.5 113.4,493.6 110.9,494.4 108.4,495.1 105.9,495.5 103.4,495.8Z" fill="#fffefe" fill-rule="evenodd"/>
<path d="M104.4,494.3 101.4,494.6 97.9,494.6 94.4,494.3 90.9,493.7 87.9,492.9 84.9,492.0 81.9,490.7 78.9,489.1 76.4,487.5 74.3,485.8 72.2,483.8 70.6,481.8 69.4,479.7 68.4,477.3 68.0,475.3 67.9,472.8 68.1,470.8 68.6,469.3 69.1,467.8 70.2,465.8 71.4,464.0 72.9,462.3 74.4,460.7 76.6,458.8 79.9,456.4 82.9,454.8 85.4,453.8 92.9,451.4 94.9,450.6 96.5,449.8 98.8,448.3 99.9,447.3 100.7,446.3 101.2,445.3 101.3,444.8 101.4,443.8 101.3,442.8 100.7,440.8 99.0,437.3 98.4,435.8 97.9,433.8 97.6,431.8 97.5,429.8 97.5,427.8 97.8,425.8 98.2,423.8 99.0,421.3 99.9,419.3 101.1,417.3 102.4,415.8 103.9,414.4 105.4,413.5 106.9,413.0 107.9,412.8 108.9,412.7 110.4,412.9 111.9,413.5 113.3,414.3 114.4,415.2 115.4,416.3 116.5,417.8 117.4,419.6 118.0,421.3 118.5,423.3 118.8,425.3 118.9,427.3 118.8,429.3 118.5,431.3 117.9,433.8 115.9,440.8 115.3,443.3 115.1,445.8 115.2,447.8 115.6,449.3 116.1,450.8 116.8,452.3 117.7,453.8 119.3,456.3 124.1,462.8 125.3,464.8 126.4,466.8 127.2,468.8 127.7,470.8 128.0,472.8 128.0,474.8 127.8,476.8 127.4,478.3 126.7,480.3 125.9,481.8 124.9,483.3 123.8,484.8 122.4,486.2 120.9,487.6 119.3,488.8 117.4,490.0 115.4,491.1 113.4,492.0 111.4,492.7 108.9,493.5 106.4,494.0 104.4,494.3Z" fill="#fdf3f3" fill-rule="evenodd"/>
<path d="M100.9,493.3 97.9,493.3 94.9,493.1 91.9,492.7 88.9,492.0 85.9,491.1 83.4,490.1 80.6,488.8 78.1,487.3 75.9,485.7 73.9,483.9 72.4,482.2 71.1,480.3 70.1,478.3 69.5,476.3 69.2,474.3 69.2,472.3 69.6,470.3 70.0,468.8 70.9,467.0 71.9,465.3 73.4,463.4 74.9,461.8 76.9,460.0 78.9,458.5 81.9,456.5 84.9,455.1 87.4,454.1 95.4,451.5 98.5,450.3 100.7,449.3 102.7,448.3 104.3,447.3 105.4,446.3 105.8,445.8 106.0,445.3 106.2,444.3 106.1,443.8 105.7,442.8 102.0,436.8 101.3,435.3 100.6,433.3 100.2,431.8 100.0,429.8 99.9,427.8 100.1,426.3 100.6,423.8 101.3,421.8 102.4,419.9 103.4,418.5 104.9,417.2 106.4,416.3 107.9,415.8 109.4,415.8 110.9,416.1 112.4,416.8 113.9,418.1 114.9,419.3 115.7,420.8 116.4,422.5 116.8,424.3 117.1,426.3 117.1,427.8 117.0,429.3 116.7,430.8 116.2,432.8 114.9,436.6 111.5,443.8 111.2,444.8 111.1,445.3 111.2,446.3 111.6,447.3 112.0,448.3 114.2,451.8 116.7,455.3 122.1,462.3 123.5,464.3 124.6,466.3 125.7,468.8 126.3,470.8 126.6,473.3 126.5,475.3 126.2,477.3 125.7,478.8 125.0,480.3 124.2,481.8 123.1,483.3 121.8,484.8 120.2,486.3 118.4,487.7 116.4,489.0 114.4,490.1 112.4,490.9 110.4,491.6 108.4,492.2 105.9,492.8 103.4,493.1 100.9,493.3Z" fill="#fce8e8" fill-rule="evenodd"/>
<path d="M109.4,437.4 108.4,437.3 107.9,437.2 106.9,436.7 105.9,436.0 104.9,434.8 103.9,433.3 103.3,431.8 102.9,430.3 102.6,428.3 102.8,426.3 103.1,424.8 103.6,423.3 104.4,421.9 105.4,420.7 106.4,419.9 107.6,419.3 108.9,419.1 110.4,419.3 111.4,419.7 112.4,420.5 113.1,421.3 113.9,422.6 114.4,423.8 114.8,425.3 114.9,426.8 114.9,428.3 114.6,430.3 114.0,432.3 113.4,433.6 112.4,435.2 111.4,436.4 110.4,437.0 109.4,437.4ZM103.9,491.8 100.9,492.1 97.9,492.2 94.9,492.0 91.9,491.5 88.9,490.9 85.9,490.0 82.9,488.7 80.4,487.4 77.9,485.8 76.0,484.3 74.4,482.7 72.8,480.8 71.7,478.8 70.9,476.8 70.5,474.8 70.4,472.8 70.7,470.8 71.4,468.8 72.3,466.8 73.7,464.8 75.5,462.8 77.4,461.0 79.4,459.4 81.9,457.8 84.4,456.5 87.1,455.3 90.0,454.3 95.9,452.6 99.4,451.6 102.4,451.0 104.9,450.7 106.9,450.8 108.4,451.0 109.9,451.5 110.9,452.1 112.4,453.2 113.9,454.7 115.9,456.8 118.4,459.7 120.5,462.3 121.9,464.2 122.9,465.8 123.7,467.3 124.3,468.8 124.7,470.3 125.0,471.8 125.2,473.3 125.1,474.8 124.9,476.3 124.5,477.8 123.9,479.3 123.2,480.8 122.4,482.0 121.3,483.3 119.9,484.8 118.8,485.8 116.9,487.2 115.4,488.1 113.9,488.9 111.9,489.8 109.9,490.5 107.9,491.1 103.9,491.8Z" fill="#fadddd" fill-rule="evenodd"/>
<path d="M109.9,430.9 109.4,431.0 108.9,431.1 108.4,431.0 107.9,430.7 107.4,430.2 107.1,429.8 106.9,429.3 106.6,428.3 106.6,426.8 106.9,425.7 107.4,424.9 107.9,424.4 108.4,424.2 108.9,424.0 109.4,424.0 109.9,424.2 110.7,424.8 111.2,425.8 111.5,426.8 111.5,428.3 111.2,429.3 110.5,430.3 109.9,430.9ZM102.9,490.8 98.9,491.1 94.9,490.9 90.9,490.3 86.9,489.2 83.4,487.8 81.4,486.8 79.9,485.9 77.4,484.1 76.0,482.8 75.1,481.8 74.3,480.8 73.3,479.3 72.8,478.3 72.2,476.8 71.9,475.7 71.7,474.3 71.7,473.3 71.8,471.8 72.1,470.3 72.4,469.3 73.1,467.8 73.7,466.8 74.4,465.7 75.6,464.3 77.9,462.0 80.4,460.0 82.9,458.5 85.4,457.2 88.4,455.9 92.0,454.8 96.4,453.7 99.4,453.2 102.4,453.0 104.9,453.0 106.9,453.3 108.9,453.8 110.4,454.5 111.9,455.4 113.9,457.0 115.9,458.9 117.9,461.1 119.9,463.5 121.4,465.8 122.7,468.3 123.3,470.3 123.8,472.8 123.7,474.8 123.5,476.3 123.2,477.3 122.4,479.3 121.2,481.3 119.4,483.5 117.3,485.3 114.9,486.9 112.4,488.2 109.4,489.4 106.4,490.2 102.9,490.8Z" fill="#f8d0d1" fill-rule="evenodd"/>
<path d="M102.4,489.8 98.9,490.0 94.9,489.9 90.9,489.2 87.4,488.3 83.9,486.9 80.9,485.3 79.4,484.3 78.1,483.3 76.1,481.3 74.6,479.3 74.1,478.3 73.5,476.8 73.2,475.8 72.9,474.3 72.9,473.3 73.0,471.8 73.4,470.3 73.7,469.3 74.7,467.3 76.4,465.0 78.6,462.8 80.4,461.3 82.9,459.7 85.4,458.3 88.4,457.1 91.4,456.1 94.9,455.2 97.9,454.8 100.9,454.6 103.4,454.7 105.9,455.0 107.9,455.5 109.9,456.2 111.4,457.1 113.4,458.5 115.4,460.3 117.3,462.3 119.3,464.8 120.5,466.8 121.5,468.8 122.1,470.8 122.3,472.3 122.4,473.3 122.3,475.3 121.8,477.3 120.9,479.3 119.6,481.3 117.9,483.2 115.9,484.9 113.7,486.3 110.9,487.6 108.4,488.6 105.4,489.3 102.4,489.8Z" fill="#f6c3c5" fill-rule="evenodd"/>
<path d="M101.9,488.8 98.4,489.0 94.9,488.9 91.4,488.3 88.4,487.6 85.4,486.5 82.4,485.0 79.8,483.3 78.6,482.3 77.6,481.3 76.0,479.3 74.9,477.3 74.3,475.3 74.2,474.3 74.2,472.8 74.4,471.3 74.6,470.3 75.5,468.3 76.4,466.8 77.1,465.8 79.0,463.8 80.9,462.2 83.4,460.6 85.9,459.2 88.4,458.2 90.9,457.3 93.9,456.6 96.9,456.1 99.4,455.9 101.9,456.0 104.4,456.3 106.9,456.8 108.9,457.5 110.9,458.5 112.4,459.5 114.4,461.1 116.1,462.8 117.8,464.8 119.1,466.8 120.1,468.8 120.7,470.8 121.0,472.8 121.0,474.8 120.5,476.8 119.7,478.8 118.4,480.8 117.1,482.3 115.3,483.8 112.9,485.4 110.4,486.7 107.9,487.6 104.9,488.4 101.9,488.8Z" fill="#f4b6b8" fill-rule="evenodd"/>
<path d="M101.9,487.8 98.9,488.0 95.4,487.9 91.9,487.5 88.9,486.7 85.9,485.7 83.4,484.5 80.9,482.8 78.9,481.1 77.4,479.3 76.3,477.3 75.6,475.3 75.4,474.3 75.4,472.8 75.7,470.8 76.5,468.8 77.8,466.8 79.5,464.8 81.2,463.3 83.4,461.8 85.4,460.6 87.9,459.5 90.4,458.6 92.9,457.9 95.9,457.4 98.4,457.2 100.9,457.2 103.4,457.5 105.9,458.0 107.9,458.6 109.9,459.5 111.4,460.4 113.3,461.8 114.9,463.3 116.4,465.0 117.7,466.8 118.7,468.8 119.4,470.8 119.7,472.8 119.6,474.8 119.1,476.8 118.5,478.3 117.2,480.3 115.8,481.8 114.1,483.3 111.9,484.7 109.9,485.7 107.4,486.6 104.9,487.3 101.9,487.8Z" fill="#f1a9ac" fill-rule="evenodd"/>
<path d="M101.9,486.8 98.9,487.1 95.9,487.0 92.9,486.7 89.9,486.0 86.9,485.0 84.4,483.9 81.9,482.3 80.1,480.8 78.8,479.3 78.1,478.3 77.6,477.3 76.9,475.3 76.6,473.3 76.9,471.3 77.6,469.3 78.8,467.3 80.0,465.8 81.6,464.3 83.4,463.0 85.4,461.8 87.9,460.6 89.9,459.8 92.4,459.1 94.9,458.6 97.4,458.4 99.9,458.4 102.4,458.6 104.9,459.0 106.9,459.6 108.9,460.4 110.4,461.3 111.9,462.3 113.7,463.8 115.1,465.3 116.5,467.3 117.4,469.0 118.0,470.8 118.3,472.8 118.3,474.3 117.9,476.3 117.3,477.8 116.4,479.3 114.9,481.0 113.4,482.4 111.4,483.7 109.3,484.8 106.9,485.7 104.4,486.4 101.9,486.8Z" fill="#f09ea1" fill-rule="evenodd"/>
<path d="M101.9,485.8 98.9,486.1 95.9,486.1 92.9,485.7 90.4,485.2 87.9,484.4 85.4,483.3 83.4,482.1 81.4,480.5 79.9,478.8 78.9,477.2 78.2,475.3 78.0,474.3 77.9,473.3 78.0,472.3 78.2,471.3 78.7,469.8 79.8,467.8 81.1,466.3 82.4,465.0 84.0,463.8 85.9,462.7 87.9,461.7 89.9,460.9 92.4,460.2 94.9,459.7 96.9,459.5 99.4,459.5 101.4,459.6 103.9,460.0 105.9,460.6 107.8,461.3 109.4,462.1 110.9,463.1 112.4,464.3 113.9,465.8 115.0,467.3 115.9,468.8 116.7,470.8 117.0,472.8 116.9,474.3 116.6,475.8 116.0,477.3 115.2,478.8 113.9,480.3 112.4,481.7 110.8,482.8 108.9,483.8 106.4,484.8 104.4,485.4 101.9,485.8Z" fill="#ee9699" fill-rule="evenodd"/>
<path d="M101.9,484.8 99.4,485.1 96.4,485.1 93.9,484.9 91.4,484.4 88.9,483.7 86.7,482.8 84.9,481.8 82.8,480.3 81.4,478.8 80.3,477.3 79.7,475.8 79.4,474.8 79.2,473.8 79.2,472.8 79.4,471.8 79.8,470.3 80.6,468.8 81.7,467.3 82.9,466.1 84.4,464.8 86.0,463.8 87.9,462.8 89.9,462.0 91.9,461.4 93.9,460.9 96.4,460.6 98.9,460.6 100.9,460.7 102.9,461.0 104.9,461.5 106.9,462.2 108.4,462.9 109.9,463.9 111.4,465.0 112.7,466.3 113.8,467.8 114.7,469.3 115.2,470.8 115.5,472.3 115.6,473.8 115.3,475.3 114.8,476.8 113.9,478.3 112.9,479.6 111.6,480.8 109.9,482.0 107.9,483.1 106.1,483.8 103.9,484.4 101.9,484.8Z" fill="#ed8e92" fill-rule="evenodd"/>
<path d="M101.9,483.8 99.4,484.1 96.9,484.2 94.4,484.0 91.9,483.6 89.4,482.8 87.4,482.0 85.4,480.9 84.0,479.8 82.5,478.3 81.5,476.8 80.9,475.3 80.6,473.8 80.6,472.3 81.0,470.8 81.7,469.3 82.8,467.8 83.9,466.7 85.4,465.5 86.9,464.5 88.4,463.7 90.4,462.9 92.4,462.3 94.4,461.9 96.4,461.7 98.4,461.6 100.4,461.7 102.4,462.1 104.4,462.6 105.9,463.1 107.5,463.8 108.9,464.7 110.4,465.8 111.4,466.8 112.6,468.3 113.4,469.7 113.8,470.8 114.1,472.3 114.1,473.8 113.9,475.3 113.4,476.5 112.7,477.8 111.4,479.3 110.3,480.3 108.9,481.3 107.4,482.1 105.8,482.8 103.9,483.4 101.9,483.8Z" fill="#ec868b" fill-rule="evenodd"/>
<path d="M101.4,482.9 99.4,483.1 96.9,483.2 94.4,483.0 92.4,482.6 90.4,482.1 88.4,481.3 86.6,480.3 85.2,479.3 83.9,478.0 83.0,476.8 82.3,475.3 82.0,473.8 82.1,472.3 82.5,470.8 83.2,469.3 84.0,468.3 84.9,467.3 86.2,466.3 87.4,465.5 88.9,464.7 90.4,464.0 92.4,463.4 93.9,463.1 95.9,462.8 97.9,462.7 99.4,462.8 101.4,463.0 102.9,463.3 104.9,464.0 106.4,464.6 107.6,465.3 109.0,466.3 110.4,467.6 111.3,468.8 111.9,469.9 112.4,471.3 112.7,472.8 112.7,473.8 112.4,475.1 111.9,476.3 111.4,477.3 110.4,478.5 109.4,479.4 107.9,480.5 106.5,481.3 104.9,482.0 103.4,482.4 101.4,482.9Z" fill="#ea7e83" fill-rule="evenodd"/>
<path d="M100.9,481.9 98.9,482.1 96.9,482.2 94.9,482.0 92.9,481.7 90.9,481.1 89.4,480.5 87.9,479.7 86.4,478.7 85.4,477.7 84.3,476.3 83.9,475.3 83.5,473.8 83.5,472.8 83.8,471.3 84.4,470.0 85.3,468.8 86.2,467.8 87.4,466.9 88.4,466.2 89.9,465.5 91.4,464.9 92.9,464.4 94.4,464.1 96.4,463.9 98.4,463.8 99.9,464.0 101.4,464.2 102.9,464.6 104.4,465.1 105.9,465.8 106.9,466.4 108.1,467.3 109.1,468.3 109.9,469.3 110.5,470.3 110.8,471.3 111.1,472.3 111.1,473.8 110.9,474.8 110.5,475.8 110.0,476.8 109.2,477.8 108.1,478.8 106.9,479.7 105.4,480.5 103.9,481.1 102.4,481.6 100.9,481.9Z" fill="#ea797e" fill-rule="evenodd"/>
<path d="M100.4,480.8 98.9,481.0 96.9,481.1 94.9,480.9 93.4,480.6 91.4,480.1 89.9,479.4 88.8,478.8 87.4,477.8 86.5,476.8 85.8,475.8 85.4,474.8 85.1,473.8 85.2,472.3 85.5,471.3 86.0,470.3 86.7,469.3 87.4,468.6 88.4,467.7 89.4,467.1 90.9,466.3 93.4,465.5 94.9,465.2 96.4,465.0 97.9,465.0 99.4,465.1 101.9,465.6 103.4,466.1 104.4,466.5 105.4,467.0 106.5,467.8 108.0,469.3 108.7,470.3 109.1,471.3 109.4,472.3 109.4,473.3 109.3,474.3 108.9,475.5 108.5,476.3 107.7,477.3 106.9,478.0 105.9,478.8 104.9,479.4 103.4,480.0 101.9,480.5 100.4,480.8Z" fill="#e9757a" fill-rule="evenodd"/>
<path d="M98.4,479.8 96.9,479.9 95.4,479.7 92.9,479.2 91.7,478.8 90.4,478.2 89.1,477.3 88.4,476.6 87.7,475.8 87.2,474.8 86.9,473.8 86.9,472.8 87.1,471.8 87.6,470.8 88.3,469.8 88.9,469.2 89.9,468.4 90.9,467.8 92.9,467.0 95.4,466.4 97.9,466.3 100.4,466.6 101.4,466.8 102.8,467.3 104.6,468.3 105.4,468.9 106.3,469.8 106.9,470.7 107.2,471.3 107.5,472.3 107.6,473.3 107.3,474.8 106.9,475.5 106.4,476.3 105.9,476.8 104.9,477.7 103.9,478.3 102.9,478.8 100.9,479.4 98.4,479.8Z" fill="#e87277" fill-rule="evenodd"/>
<path d="M98.9,478.3 96.4,478.4 94.4,478.1 93.3,477.8 92.1,477.3 90.6,476.3 89.9,475.6 89.4,474.8 89.2,474.3 89.0,473.3 89.0,472.8 89.3,471.8 89.9,470.8 90.3,470.3 91.5,469.3 92.4,468.8 93.4,468.4 94.9,468.0 96.9,467.7 98.9,467.8 100.9,468.3 102.4,468.9 103.9,470.0 104.9,471.3 105.3,472.3 105.4,473.3 105.3,473.8 104.9,475.0 104.4,475.7 103.8,476.3 102.4,477.3 100.9,477.9 98.9,478.3Z" fill="#e87075" fill-rule="evenodd"/>
<path d="M99.4,476.3 97.9,476.6 96.4,476.6 94.9,476.3 93.4,475.6 92.4,474.8 91.9,473.8 91.8,472.8 92.2,471.8 92.9,471.0 93.9,470.4 94.9,470.0 95.9,469.7 97.4,469.6 98.4,469.7 99.9,470.1 100.9,470.6 101.8,471.3 102.4,472.3 102.5,472.8 102.4,473.8 101.9,474.8 101.4,475.3 100.6,475.8 99.4,476.3Z" fill="#e87075" fill-rule="evenodd"/>
</g>
<path d="M114.4,520.3 108.9,520.7 102.9,520.7 96.9,520.1 91.4,519.2 85.9,517.7 80.9,515.9 76.4,513.8 72.3,511.3 68.4,508.3 64.9,504.8 61.2,500.3 57.4,494.7 54.4,489.5 52.2,484.8 51.5,482.8 50.8,480.3 50.5,478.3 50.2,476.3 50.2,472.8 50.6,469.8 51.3,466.8 52.5,463.8 53.6,461.3 55.0,458.8 60.6,450.3 62.4,447.3 63.9,444.3 65.1,441.3 66.5,436.3 68.8,424.3 70.4,417.3 72.0,411.3 73.3,408.3 74.4,406.7 74.9,406.2 75.9,405.6 76.9,405.3 77.9,405.1 82.9,405.0 85.4,404.4 86.4,404.0 87.6,403.3 88.5,402.3 89.1,401.3 89.3,400.3 89.2,399.3 88.8,398.3 88.1,397.3 87.4,396.6 86.4,395.8 81.9,393.4 81.3,392.8 80.9,392.3 80.6,391.3 80.6,390.3 81.0,388.8 81.8,386.8 83.7,383.3 86.1,379.8 88.4,376.7 91.1,373.8 93.9,371.3 96.4,369.5 98.9,368.0 101.9,366.8 113.4,366.8 115.9,367.9 118.2,369.3 120.4,371.3 121.9,373.3 122.8,374.8 123.4,376.3 123.8,377.8 123.8,378.3 123.6,378.8 123.4,378.9 122.9,378.8 120.4,378.4 118.4,378.5 117.4,378.7 116.4,379.2 114.9,380.3 114.2,381.3 113.7,382.3 113.5,383.3 113.5,384.3 113.7,385.3 114.2,386.3 114.9,387.1 115.4,387.5 116.9,388.2 118.4,388.3 119.9,387.9 121.1,387.3 122.3,386.3 123.3,384.8 124.0,383.3 124.5,381.3 124.9,380.7 125.4,380.8 126.4,381.5 127.9,383.0 129.4,385.2 130.9,388.1 132.3,391.8 133.7,396.8 135.1,403.3 136.3,410.3 137.1,416.3 137.7,421.8 138.7,439.3 139.0,442.3 139.5,444.8 140.3,447.8 141.4,450.8 142.9,454.1 147.2,462.8 149.1,467.8 150.1,470.8 150.7,473.3 151.2,476.3 151.5,479.3 151.7,483.8 151.6,488.3 151.1,492.8 150.5,496.3 149.6,499.3 148.3,502.3 146.9,504.8 144.9,507.3 142.4,509.8 139.4,512.1 135.9,514.2 132.4,515.8 128.4,517.4 123.9,518.7 119.4,519.6 114.4,520.3Z" fill="none" stroke="#7a8a9a" stroke-opacity="0.45" stroke-width="0.5"/>
<path d="M108.4,512.3 103.9,512.4 99.4,512.1 94.9,511.4 90.9,510.4 86.9,509.1 82.9,507.4 79.4,505.5 75.4,502.9 71.4,499.9 67.4,496.2 63.9,492.5 61.0,488.8 58.8,485.3 57.2,481.8 56.1,478.3 55.7,474.8 55.8,471.8 56.5,468.3 57.5,465.3 59.3,461.8 61.3,458.8 63.9,455.4 69.9,448.2 73.9,443.8 74.6,442.8 74.9,441.8 74.9,438.3 75.1,435.8 76.6,427.3 77.5,422.8 78.7,418.3 79.7,414.8 80.5,412.8 81.4,411.3 82.9,409.8 84.4,408.8 87.9,406.8 89.9,405.3 91.4,403.7 92.0,402.8 92.5,401.8 92.9,400.3 92.9,398.3 92.4,396.4 91.2,393.3 90.9,391.8 91.0,390.3 91.5,388.8 92.7,386.8 94.2,384.8 95.9,383.0 97.8,381.3 99.4,380.1 101.4,379.0 102.9,378.5 104.4,378.3 105.4,378.3 106.4,378.7 106.9,379.1 107.4,379.7 107.9,380.7 108.9,384.3 109.7,386.3 111.0,388.3 112.4,389.8 113.9,390.9 115.9,391.8 117.9,392.4 121.9,393.1 123.4,393.7 124.4,394.5 125.1,395.3 125.9,396.7 126.6,398.3 128.1,402.8 129.7,408.8 130.8,414.3 131.6,419.3 132.0,423.8 132.1,427.8 131.6,441.8 131.8,444.3 132.2,446.8 132.9,449.3 133.9,451.8 135.4,454.8 139.2,461.8 141.2,466.3 142.0,468.8 142.6,471.3 143.0,473.8 143.2,476.3 143.2,479.8 142.7,483.3 141.9,486.8 140.7,490.3 139.2,493.8 137.4,497.1 135.6,499.8 133.4,502.3 131.2,504.3 128.5,506.3 125.9,507.8 122.9,509.2 119.4,510.4 115.9,511.3 112.4,511.9 108.4,512.3ZM86.9,446.8 88.2,446.3 88.9,445.8 89.2,445.3 89.4,444.8 89.4,444.3 88.9,443.3 88.3,442.8 87.4,442.3 86.4,442.0 84.9,441.7 82.4,441.7 80.1,442.3 79.3,442.8 78.8,443.3 78.7,443.8 78.9,444.3 79.2,444.8 80.4,445.8 81.3,446.3 82.9,446.8 84.4,447.0 85.9,447.0 86.9,446.8Z" fill="none" stroke="#7a8a9a" stroke-opacity="0.45" stroke-width="0.5"/>
<path d="M107.4,503.8 103.9,504.0 99.9,503.9 95.9,503.5 91.9,502.7 87.9,501.5 83.9,500.0 79.9,498.1 76.4,496.0 72.9,493.6 69.9,491.2 66.9,488.3 64.9,485.8 63.2,483.3 61.8,480.3 60.9,477.3 60.5,474.3 60.6,471.8 61.1,469.3 62.2,466.3 63.5,463.8 65.1,461.3 67.1,458.8 69.9,455.8 72.9,452.9 75.4,451.0 76.4,450.5 77.9,450.0 79.9,449.7 85.9,449.3 88.9,448.6 90.4,448.0 91.4,447.4 92.0,446.8 92.8,445.8 93.1,444.8 93.0,443.8 92.7,442.8 92.0,441.8 90.9,440.8 89.9,440.1 86.9,438.3 85.4,437.3 84.6,436.3 84.1,435.3 83.9,433.8 84.0,431.8 84.6,427.8 85.5,423.8 86.4,420.3 87.5,416.8 88.4,414.3 89.5,412.3 90.9,410.3 94.4,406.3 95.8,404.3 97.2,401.8 99.4,396.8 100.4,395.3 101.4,394.3 102.4,393.6 103.4,393.1 104.9,392.8 105.9,392.9 106.9,393.1 108.9,393.9 114.3,396.8 115.9,397.8 117.2,398.8 118.9,400.6 120.4,402.9 122.2,406.3 123.7,409.8 125.1,413.8 126.0,417.3 126.6,420.8 127.0,424.3 127.0,427.3 126.9,430.8 125.4,442.8 125.4,445.8 125.7,448.3 126.5,450.8 127.6,453.3 132.8,461.8 134.8,465.8 135.7,468.3 136.3,470.3 136.7,472.8 136.8,474.8 136.8,477.3 136.4,479.8 135.7,482.3 134.7,484.8 133.5,487.3 131.9,489.7 129.9,492.3 128.0,494.3 125.9,496.2 123.9,497.7 121.4,499.3 118.9,500.6 116.4,501.7 113.4,502.7 110.4,503.4 107.4,503.8Z" fill="none" stroke="#7a8a9a" stroke-opacity="0.45" stroke-width="0.5"/>
<path d="M100.9,495.3 97.4,495.3 94.4,495.0 91.4,494.5 87.9,493.6 84.9,492.7 81.9,491.4 79.4,490.1 76.9,488.6 74.5,486.8 72.4,484.9 70.5,482.8 69.2,480.8 68.2,478.8 67.6,476.8 67.2,474.8 67.2,472.3 67.5,470.3 68.0,468.8 68.6,467.3 69.7,465.3 70.9,463.6 72.5,461.8 74.4,459.9 76.4,458.1 79.4,456.0 82.5,454.3 85.2,453.3 91.4,451.4 94.9,450.0 96.1,449.3 97.5,448.3 98.9,446.8 99.5,445.8 99.8,444.8 99.9,443.8 99.8,442.8 99.2,440.8 97.5,437.3 96.9,435.8 96.4,433.8 96.2,431.8 96.2,429.8 96.3,427.3 96.7,424.8 97.2,422.8 98.0,420.3 99.3,417.8 100.9,415.4 102.4,413.8 103.9,412.6 105.9,411.6 107.4,411.2 109.4,411.1 110.9,411.5 112.4,412.1 113.9,413.1 114.9,413.9 116.4,415.7 117.4,417.3 118.2,418.8 118.9,420.8 119.4,422.8 119.7,424.8 119.8,426.8 119.7,428.8 119.5,430.8 119.0,433.3 117.2,440.3 116.6,442.8 116.4,445.8 116.6,448.3 117.3,450.8 118.7,453.8 120.3,456.3 125.0,462.8 126.2,464.8 127.2,466.8 128.2,469.3 128.6,471.3 128.9,473.8 128.8,475.8 128.4,477.8 127.8,479.8 126.9,481.7 125.9,483.3 124.8,484.8 123.4,486.4 121.9,487.8 119.9,489.4 117.9,490.6 115.9,491.7 113.9,492.6 111.4,493.6 108.9,494.3 106.4,494.8 103.9,495.1 100.9,495.3Z" fill="none" stroke="#7a8a9a" stroke-opacity="0.45" stroke-width="0.5"/>
<path d="M100.4,486.8 97.4,486.9 94.4,486.7 91.4,486.2 88.4,485.4 85.9,484.4 83.4,483.1 81.0,481.3 79.4,479.7 78.1,477.8 77.2,475.8 76.9,473.8 77.0,471.8 77.6,469.8 78.7,467.8 80.3,465.8 81.9,464.3 83.9,462.9 85.9,461.7 87.9,460.8 90.4,459.9 92.9,459.2 94.9,458.8 97.4,458.6 99.9,458.6 102.4,458.8 104.4,459.2 106.4,459.7 108.4,460.5 110.4,461.5 111.9,462.6 113.4,463.8 114.9,465.4 116.3,467.3 117.1,468.8 117.8,470.8 118.1,472.3 118.1,474.3 117.8,475.8 117.2,477.3 116.4,478.8 115.3,480.3 113.7,481.8 111.9,483.2 109.9,484.3 107.9,485.2 105.4,486.0 102.9,486.5 100.4,486.8Z" fill="none" stroke="#7a8a9a" stroke-opacity="0.45" stroke-width="0.5"/>
</g>
<clipPath id="mh"><rect x="193.50" y="370.30" width="145.90" height="176.00"/></clipPath>
<g clip-path="url(#mh)">
<rect x="190.5" y="367.3" width="151.9" height="182.0" fill="#6b9be9"/>
<g filter="url(#mblur)">
<path d="M279.0,545.3 273.0,545.4 267.0,545.3 261.0,545.0 255.0,544.5 249.5,543.9 243.5,543.0 238.0,542.0 232.0,540.7 226.5,539.3 221.0,537.7 216.0,536.1 210.5,534.1 205.5,532.0 200.0,529.5 195.0,527.0 190.5,524.5 190.5,417.3 196.0,413.9 208.5,406.8 213.5,403.8 218.5,400.3 221.0,398.3 223.5,396.2 226.5,393.3 229.0,390.6 232.0,387.2 235.0,383.4 237.5,379.9 240.0,376.3 242.5,372.3 245.5,367.3 294.8,367.3 298.1,372.8 299.4,375.3 300.3,377.3 300.6,378.3 300.7,379.3 300.5,380.3 300.0,380.9 299.0,381.6 296.5,382.9 295.0,383.9 294.0,384.8 292.9,386.3 292.4,387.8 292.2,388.8 292.3,389.8 292.5,390.6 292.8,391.3 293.5,392.2 294.0,392.7 295.0,393.3 296.5,393.8 298.0,393.9 299.5,393.6 301.0,393.0 302.1,392.3 303.3,391.3 305.0,389.6 306.0,388.9 307.0,388.5 307.5,388.5 308.5,388.7 309.5,389.1 311.0,390.1 319.0,396.7 321.5,398.5 324.5,400.5 327.5,402.3 331.0,404.2 342.0,409.8 342.0,531.3 335.0,534.2 327.5,536.9 320.0,539.2 312.0,541.2 304.0,542.8 295.5,544.0 287.0,544.9 279.0,545.3Z" fill="#6e9eea" fill-rule="evenodd"/>
<path d="M280.5,527.8 274.5,528.0 268.0,527.9 261.5,527.6 255.0,527.0 248.5,526.1 242.5,525.0 236.0,523.6 230.0,522.0 224.0,520.2 218.0,518.0 212.0,515.5 206.5,512.9 201.8,510.3 197.5,507.6 193.8,504.8 190.5,501.8 190.5,446.9 192.4,444.3 195.0,441.3 197.3,438.8 200.0,436.3 203.0,433.7 206.5,430.9 219.2,421.8 224.5,417.6 227.5,415.0 230.0,412.5 233.0,409.3 235.5,406.3 237.4,403.8 239.0,401.2 240.5,398.6 242.5,394.6 245.5,388.0 251.8,372.8 254.3,367.3 285.9,367.3 287.3,370.3 288.7,373.3 289.4,375.3 290.0,377.3 290.2,378.8 290.2,380.3 290.1,381.8 289.2,386.3 289.1,387.8 289.1,389.3 289.4,390.8 289.9,392.3 290.5,393.6 291.5,395.0 293.0,396.5 294.5,397.6 299.5,400.3 301.6,401.8 303.2,403.3 307.5,408.1 310.0,410.7 312.9,413.3 316.0,415.8 318.7,417.8 321.7,419.8 335.5,428.5 338.9,430.8 342.0,433.1 342.0,510.9 339.0,512.6 335.5,514.3 332.0,516.0 328.5,517.5 321.5,520.1 317.5,521.3 313.5,522.5 305.5,524.5 301.0,525.4 297.0,526.1 289.0,527.1 280.5,527.8Z" fill="#71a0ea" fill-rule="evenodd"/>
<path d="M279.0,517.8 271.5,518.0 263.5,517.7 256.0,517.1 248.5,516.0 241.0,514.5 233.5,512.6 227.0,510.5 221.0,508.1 218.1,506.8 215.5,505.4 211.2,502.8 209.1,501.3 207.3,499.8 205.6,498.3 204.2,496.8 203.0,495.3 202.0,493.8 201.1,492.3 200.1,490.3 199.6,488.8 199.0,486.8 198.5,484.8 198.1,482.3 197.8,477.3 197.8,471.8 198.2,466.8 199.0,462.3 200.1,458.3 200.9,456.3 201.8,454.3 203.8,450.8 206.2,447.3 207.8,445.3 210.0,442.9 212.2,440.8 214.4,438.8 219.0,435.1 228.1,428.3 231.5,425.7 234.3,423.3 240.0,418.1 241.5,417.0 243.0,416.4 244.5,415.9 248.0,415.2 249.5,414.6 250.1,414.3 251.0,413.7 251.5,413.1 252.0,412.4 252.2,411.8 252.5,410.8 252.3,409.3 252.0,408.3 251.5,407.3 249.6,404.3 248.9,402.8 248.6,401.8 248.5,400.8 248.5,399.3 248.7,397.8 249.4,394.8 250.8,389.8 252.7,383.8 254.2,379.3 255.6,375.8 256.9,372.8 258.4,369.8 259.8,367.3 280.4,367.3 281.8,369.8 283.3,372.8 284.6,375.8 285.6,378.8 286.0,380.3 286.2,382.3 286.4,387.3 286.6,389.3 287.1,391.8 287.8,393.8 288.5,395.4 289.3,396.8 292.1,401.3 293.3,403.3 297.0,410.9 298.1,412.8 299.5,414.8 301.1,416.8 303.0,418.8 305.1,420.8 307.6,422.8 312.7,426.3 321.5,431.9 325.5,434.6 329.0,437.1 332.0,439.5 335.0,442.2 337.6,444.8 340.1,447.8 342.0,450.5 342.0,487.8 340.8,488.8 340.4,489.3 340.2,489.8 340.1,490.3 340.1,490.8 340.8,492.8 340.9,493.8 340.9,494.3 340.6,495.3 340.1,496.3 339.4,497.3 338.5,498.3 336.4,500.3 334.0,502.1 331.5,503.8 328.5,505.6 325.5,507.1 322.0,508.7 318.5,510.1 314.5,511.5 310.5,512.8 306.0,514.0 301.5,515.0 297.5,515.8 293.0,516.5 288.5,517.1 283.5,517.5 279.0,517.8ZM277.9,430.8 278.6,430.3 279.0,429.8 279.1,429.3 279.0,428.8 278.6,428.3 278.0,428.0 277.0,427.7 276.0,427.8 275.5,427.9 274.5,428.3 274.0,428.8 273.7,429.3 273.8,429.8 274.0,430.3 274.5,430.7 275.0,430.9 275.5,431.1 276.5,431.1 277.9,430.8Z" fill="#74a2eb" fill-rule="evenodd"/>
<path d="M279.0,511.3 271.5,511.5 264.5,511.3 257.0,510.6 250.0,509.6 243.0,508.1 239.5,507.2 236.5,506.3 233.5,505.2 230.5,504.1 228.0,503.0 225.5,501.7 223.5,500.6 221.4,499.3 218.1,496.8 216.5,495.3 215.1,493.8 213.9,492.3 212.9,490.8 212.0,489.3 211.0,487.3 210.2,485.3 209.5,483.3 208.8,480.8 208.3,478.3 207.6,473.3 207.4,469.8 207.5,466.3 208.0,462.8 208.7,459.8 209.7,456.8 211.2,453.8 212.7,451.3 214.8,448.3 217.9,444.8 220.0,442.8 222.0,441.0 227.0,437.1 236.5,430.3 240.5,427.3 247.1,421.3 252.0,417.5 253.5,415.9 254.5,414.4 255.0,413.3 255.3,412.3 255.4,411.3 255.4,409.8 255.0,407.5 253.7,403.8 253.3,402.3 253.1,401.3 253.0,399.8 253.0,398.3 253.2,396.3 254.3,391.3 255.4,387.3 256.7,382.8 258.2,378.8 259.6,375.8 261.0,373.1 262.5,370.8 264.0,369.0 265.0,368.0 265.9,367.3 274.3,367.3 275.5,368.3 277.0,369.9 278.5,371.9 279.9,374.3 281.5,377.8 282.8,381.3 283.4,383.8 284.3,389.8 285.0,392.8 285.8,395.3 288.2,402.3 291.0,413.0 291.8,415.3 292.6,417.3 293.5,419.0 294.7,420.8 296.0,422.3 296.9,423.3 300.0,425.8 303.7,428.3 314.0,434.5 319.5,438.1 322.0,439.9 324.4,441.8 326.7,443.8 328.5,445.6 330.6,447.8 332.2,449.8 333.9,452.3 335.3,454.8 336.4,457.3 337.2,459.8 337.9,462.3 338.3,465.3 338.4,467.8 338.4,470.3 338.2,472.8 337.8,475.3 337.2,478.3 336.6,480.3 335.9,481.8 335.2,482.8 334.5,483.5 333.6,484.3 331.8,485.3 329.0,486.4 322.7,488.3 321.4,488.8 320.5,489.3 320.1,489.8 320.2,490.3 320.6,490.8 325.0,493.3 325.6,493.8 325.9,494.3 326.2,494.8 326.2,495.3 326.1,495.8 325.5,496.8 324.6,497.8 323.5,498.7 321.9,499.8 319.5,501.2 315.0,503.5 310.0,505.5 304.5,507.2 298.5,508.7 292.0,509.9 285.5,510.8 279.0,511.3ZM278.8,432.3 280.0,431.8 280.8,431.3 281.3,430.8 282.0,429.8 282.2,428.8 282.1,428.3 281.9,427.8 281.5,427.3 280.9,426.8 279.8,426.3 278.5,426.0 277.5,425.9 276.0,426.0 274.5,426.3 273.3,426.8 272.5,427.3 272.0,427.8 271.6,428.3 271.4,428.8 271.3,429.3 271.3,429.8 271.5,430.3 272.0,431.1 272.9,431.8 274.0,432.3 275.5,432.6 277.0,432.6 278.8,432.3Z" fill="#77a5eb" fill-rule="evenodd"/>
<path d="M281.0,506.3 274.5,506.7 267.5,506.6 260.5,506.1 254.0,505.2 248.0,504.0 245.0,503.2 242.0,502.3 239.0,501.3 236.5,500.3 234.3,499.3 232.0,498.1 228.2,495.8 226.5,494.5 225.0,493.2 223.5,491.8 222.1,490.3 220.9,488.8 219.5,486.8 218.4,484.8 217.4,482.8 215.8,478.8 215.2,476.8 214.6,474.3 214.1,471.8 213.9,469.8 213.8,466.8 214.0,464.3 214.4,461.8 215.2,458.8 216.2,456.3 217.4,453.8 218.7,451.8 220.5,449.3 222.3,447.3 224.2,445.3 226.4,443.3 228.5,441.6 233.5,437.9 243.4,431.3 245.4,429.8 247.2,428.3 249.0,426.5 251.0,424.1 254.0,420.1 255.8,417.3 256.5,416.0 257.0,414.7 257.4,413.3 257.6,411.8 257.7,410.3 257.6,408.8 256.3,402.3 256.1,400.8 256.1,399.3 256.3,397.3 256.8,394.3 257.6,390.8 258.5,387.3 259.7,383.8 260.9,380.8 262.1,378.3 263.5,376.0 265.0,374.1 266.5,372.8 268.0,372.0 269.5,371.6 271.0,371.6 272.5,372.1 273.7,372.8 275.0,373.9 276.5,375.7 277.8,377.8 279.0,380.1 280.0,382.5 281.1,386.3 284.6,401.3 288.2,423.3 288.5,424.3 288.7,424.8 289.1,425.3 290.6,426.3 306.5,435.1 312.0,438.4 317.1,441.8 319.5,443.7 321.5,445.4 323.9,447.8 325.6,449.8 327.5,452.3 329.0,454.8 330.2,457.3 331.0,459.8 331.6,462.3 332.0,464.8 332.1,466.8 332.0,469.3 331.7,471.3 331.2,473.8 330.6,476.3 329.7,478.8 329.0,480.3 328.0,481.8 327.1,482.8 326.4,483.3 325.5,483.9 324.0,484.6 320.9,485.8 315.7,487.3 312.7,488.3 311.5,488.8 310.7,489.3 310.3,489.8 310.1,490.3 310.3,490.8 310.7,491.3 314.0,493.8 314.4,494.3 314.7,494.8 314.7,495.3 314.6,495.8 314.2,496.3 313.2,497.3 310.8,498.8 307.6,500.3 304.0,501.7 299.5,503.1 295.0,504.3 290.5,505.1 285.5,505.9 281.0,506.3ZM279.8,433.3 281.2,432.8 283.0,431.8 284.3,430.8 285.2,429.8 285.8,428.8 286.2,427.8 286.3,427.3 286.4,426.8 286.2,426.3 285.9,425.8 285.1,425.3 284.5,425.1 283.5,424.8 282.0,424.5 279.5,424.3 277.0,424.4 274.5,424.9 272.5,425.6 271.0,426.5 270.2,427.3 269.8,427.8 269.4,428.8 269.4,429.8 269.5,430.3 270.0,431.1 270.6,431.8 272.0,432.7 273.5,433.3 275.5,433.7 277.5,433.7 279.8,433.3Z" fill="#7aa7ec" fill-rule="evenodd"/>
<path d="M273.5,502.8 267.5,502.7 262.0,502.3 256.5,501.5 251.5,500.5 246.5,499.1 242.0,497.5 238.0,495.7 234.5,493.7 231.2,491.3 228.4,488.8 225.8,485.8 224.5,484.1 223.4,482.3 221.5,478.8 220.7,476.8 220.0,474.8 219.1,471.3 218.8,469.3 218.6,467.3 218.7,464.8 219.0,462.3 219.6,459.8 220.3,457.8 221.4,455.3 222.6,453.3 224.0,451.3 225.6,449.3 227.5,447.3 229.0,445.8 231.0,444.1 233.5,442.1 238.0,439.0 246.3,433.8 249.8,431.3 251.5,429.8 253.0,428.3 254.2,426.8 255.1,425.3 256.5,422.6 258.0,419.0 258.9,416.3 259.5,413.8 259.7,411.8 259.7,409.8 259.6,407.8 258.9,402.8 258.8,401.3 258.9,399.3 259.2,396.8 259.6,394.3 260.3,391.3 261.0,388.9 262.0,386.0 263.0,383.8 264.0,381.9 265.0,380.4 266.0,379.2 267.5,377.9 268.5,377.4 270.0,377.1 271.3,377.3 272.5,377.8 273.5,378.5 274.8,379.8 276.0,381.5 277.0,383.3 277.9,385.3 278.6,387.3 279.5,390.5 280.4,394.3 281.2,397.8 281.8,401.3 282.2,404.8 282.7,409.3 283.1,414.8 283.1,417.3 283.0,418.8 282.6,419.8 282.0,420.7 281.3,421.3 280.3,421.8 279.5,422.1 274.5,423.4 272.5,424.0 270.5,425.0 269.0,426.0 268.2,426.8 267.8,427.3 267.4,428.3 267.3,429.3 267.6,430.3 267.8,430.8 268.6,431.8 269.1,432.3 269.8,432.8 271.0,433.5 272.0,433.9 273.5,434.3 276.0,434.7 278.5,434.6 281.0,434.2 283.0,433.6 287.0,432.0 288.5,431.6 290.0,431.5 291.5,431.8 294.0,432.6 297.0,433.9 303.0,437.0 307.5,439.5 312.0,442.4 316.0,445.4 318.0,447.2 319.5,448.7 321.0,450.3 322.2,451.8 323.2,453.3 324.4,455.3 325.2,456.8 326.0,458.8 326.4,460.3 326.9,462.3 327.1,463.8 327.2,465.8 327.2,467.3 327.0,469.3 326.7,471.3 326.2,473.3 325.5,475.3 324.7,477.3 323.7,479.3 322.8,480.8 321.9,481.8 320.8,482.8 319.5,483.6 318.1,484.3 315.4,485.3 307.5,487.8 305.2,488.8 304.4,489.3 303.8,489.8 303.5,490.3 303.4,490.8 303.5,491.3 303.8,491.8 305.1,493.8 305.3,494.3 305.2,494.8 305.0,495.3 304.6,495.8 304.0,496.3 302.0,497.5 299.0,498.7 295.0,499.9 291.0,500.9 287.0,501.6 282.5,502.2 278.0,502.6 273.5,502.8Z" fill="#83adee" fill-rule="evenodd"/>
<path d="M278.0,499.3 273.0,499.5 267.5,499.4 262.0,498.9 257.0,498.1 252.0,497.0 247.5,495.6 243.5,494.0 239.5,491.9 236.0,489.6 233.0,487.2 230.1,484.3 227.8,481.3 226.8,479.8 225.7,477.8 224.1,474.3 223.6,472.8 223.1,470.8 222.8,468.8 222.6,467.3 222.6,464.8 222.8,462.8 223.3,460.3 224.0,458.3 225.1,455.8 226.3,453.8 227.7,451.8 229.5,449.6 231.3,447.8 233.0,446.3 234.8,444.8 237.0,443.1 241.0,440.5 249.6,435.3 253.3,432.8 255.2,431.3 257.5,429.3 258.9,427.8 259.7,426.8 260.2,425.8 260.5,424.8 261.9,413.8 262.0,410.3 261.5,403.8 261.5,401.3 261.8,397.8 262.5,394.3 263.2,391.8 264.0,389.6 264.8,387.8 265.7,386.3 266.8,384.8 267.9,383.8 269.0,383.3 270.0,383.1 271.0,383.2 272.0,383.6 273.0,384.4 274.0,385.5 275.0,387.1 275.6,388.3 276.4,390.3 277.1,392.3 277.8,394.8 278.3,397.3 279.2,402.8 279.5,406.3 279.6,409.8 279.7,413.3 279.6,415.8 279.4,417.3 279.0,418.3 278.3,419.3 277.2,420.3 275.2,421.3 270.5,423.0 268.7,423.8 266.8,424.8 265.4,425.8 264.6,426.8 264.2,427.8 264.3,428.8 264.7,429.8 265.0,430.3 266.3,431.8 267.5,432.8 268.5,433.5 269.5,434.0 271.0,434.6 272.5,435.1 274.0,435.4 276.5,435.6 279.0,435.5 281.5,435.2 286.0,434.4 287.5,434.3 289.5,434.4 291.5,434.8 294.0,435.7 297.0,437.0 301.0,439.0 305.0,441.2 309.0,443.7 312.5,446.3 315.5,449.0 318.0,451.8 319.2,453.3 320.1,454.8 321.7,457.8 322.7,460.8 323.1,462.8 323.2,464.3 323.3,466.8 323.0,469.3 322.4,471.8 321.6,474.3 320.5,476.8 319.0,479.3 317.9,480.8 316.2,482.3 314.7,483.3 312.6,484.3 309.9,485.3 302.3,487.8 300.0,488.8 299.2,489.3 298.5,489.8 298.0,490.3 297.7,490.8 297.5,491.8 297.4,493.3 297.3,493.8 297.0,494.3 296.5,494.8 295.9,495.3 294.5,496.0 291.5,497.1 287.5,498.1 283.0,498.8 278.0,499.3Z" fill="#8cb4ef" fill-rule="evenodd"/>
<path d="M270.5,420.3 269.0,420.7 267.5,420.7 267.0,420.6 266.3,420.3 265.8,419.8 265.5,419.3 265.2,418.3 265.0,416.8 264.4,404.8 264.5,402.3 264.7,399.8 265.2,397.3 266.0,394.8 267.0,392.7 268.0,391.4 269.0,390.6 270.0,390.3 271.0,390.5 271.5,390.8 272.5,391.7 273.5,393.2 274.4,395.3 275.1,397.8 275.7,400.8 276.1,403.8 276.3,407.3 276.2,410.3 276.1,413.3 275.8,415.3 275.3,416.8 274.7,417.8 273.7,418.8 273.0,419.3 272.0,419.8 270.5,420.3ZM279.0,496.3 274.5,496.6 270.0,496.7 265.5,496.4 261.0,495.8 256.5,495.0 252.5,493.9 248.5,492.6 245.0,491.1 241.5,489.2 238.6,487.3 236.0,485.2 233.5,482.8 231.4,480.3 229.4,477.3 227.8,474.3 226.8,471.3 226.1,468.3 225.9,465.8 226.1,463.3 226.5,460.8 227.3,458.3 228.5,455.8 230.1,453.3 231.7,451.3 233.5,449.3 235.7,447.3 238.2,445.3 241.0,443.4 244.5,441.2 252.1,436.8 257.0,433.8 258.5,433.0 260.0,432.5 261.5,432.3 263.0,432.5 269.5,435.2 271.6,435.8 274.0,436.3 277.5,436.5 279.5,436.5 285.5,436.2 287.0,436.3 288.5,436.4 290.0,436.8 292.0,437.4 297.0,439.6 301.5,441.9 305.5,444.3 309.0,446.7 312.0,449.3 314.4,451.8 315.6,453.3 316.7,454.8 318.0,457.3 318.7,458.8 319.2,460.3 319.7,462.8 319.9,464.3 319.9,465.8 319.7,468.3 319.0,471.3 317.9,474.3 316.6,476.8 314.9,479.3 314.0,480.3 313.0,481.3 311.0,482.8 308.5,484.0 305.5,485.2 297.7,487.8 295.3,488.8 294.3,489.3 293.5,489.8 292.3,490.8 290.0,493.2 289.1,493.8 288.1,494.3 286.5,494.9 284.0,495.5 281.5,496.0 279.0,496.3Z" fill="#97bcf1" fill-rule="evenodd"/>
<path d="M276.0,493.8 272.5,494.0 268.5,494.0 264.5,493.7 260.5,493.1 256.5,492.3 253.0,491.3 249.5,490.0 246.0,488.4 243.0,486.7 240.1,484.8 237.7,482.8 235.5,480.6 233.6,478.3 231.9,475.8 230.7,473.3 229.6,470.3 229.1,467.8 228.9,465.3 229.1,462.8 229.5,460.8 230.3,458.3 231.3,456.3 232.9,453.8 234.5,451.8 236.4,449.8 238.6,447.8 241.3,445.8 244.0,444.0 248.0,441.6 256.5,437.0 258.5,436.0 260.5,435.2 262.0,435.0 263.5,435.0 265.5,435.3 271.0,436.7 274.0,437.2 277.5,437.5 284.0,437.7 286.5,438.0 288.1,438.3 290.0,438.9 292.0,439.6 295.0,440.9 299.5,443.2 303.2,445.3 306.5,447.6 309.5,450.1 312.1,452.8 313.9,455.3 315.3,457.8 315.9,459.3 316.3,460.8 316.8,463.3 316.9,465.8 316.7,468.3 316.4,469.8 315.9,471.3 315.3,472.8 314.6,474.3 313.1,476.8 311.2,479.3 310.2,480.3 309.1,481.3 306.8,482.8 304.8,483.8 301.5,485.1 291.8,488.3 289.4,489.3 285.0,491.5 283.5,492.2 282.0,492.7 280.0,493.2 276.0,493.8Z" fill="#a3c4f3" fill-rule="evenodd"/>
<path d="M275.0,491.4 271.5,491.6 268.0,491.6 264.5,491.3 261.0,490.8 257.5,490.1 254.0,489.1 250.5,487.8 247.5,486.4 244.6,484.8 242.0,483.0 239.5,480.9 237.4,478.8 235.8,476.8 234.1,474.3 232.9,471.8 232.1,469.3 231.7,466.8 231.6,464.8 231.8,462.3 232.3,460.3 233.3,457.8 234.4,455.8 235.7,453.8 237.4,451.8 239.5,449.8 241.5,448.1 244.0,446.3 246.5,444.7 250.5,442.4 256.0,439.6 259.0,438.2 261.5,437.3 263.5,437.0 265.5,437.0 274.0,438.2 281.5,438.8 284.0,439.1 286.0,439.5 288.5,440.3 291.0,441.2 294.0,442.5 298.0,444.5 301.5,446.5 304.8,448.8 307.5,451.1 309.5,453.3 310.7,454.8 311.5,456.0 312.2,457.3 313.0,458.8 313.8,461.3 314.2,463.8 314.2,466.3 313.8,468.8 313.0,471.3 311.9,473.8 310.3,476.3 308.2,478.8 306.1,480.8 304.7,481.8 302.9,482.8 300.7,483.8 298.1,484.8 281.5,490.0 278.0,490.9 275.0,491.4Z" fill="#b0ccf4" fill-rule="evenodd"/>
<path d="M274.5,489.3 271.5,489.5 268.0,489.5 264.5,489.3 261.0,488.8 257.5,488.0 254.5,487.1 251.5,485.9 248.5,484.5 246.0,483.1 243.5,481.3 241.1,479.3 239.2,477.3 237.5,475.1 236.1,472.8 235.2,470.8 234.5,468.3 234.2,466.3 234.1,463.8 234.4,461.8 235.0,459.8 235.8,457.8 237.0,455.8 238.4,453.8 240.0,452.0 241.8,450.3 244.0,448.6 246.6,446.8 249.5,445.0 253.5,442.9 258.0,440.7 261.0,439.5 263.0,438.9 265.5,438.6 268.0,438.6 278.5,439.7 282.0,440.2 284.6,440.8 287.5,441.7 291.0,443.0 294.0,444.4 297.5,446.2 300.5,448.0 303.5,450.2 305.8,452.3 307.6,454.3 309.4,456.8 310.6,459.3 311.4,461.8 311.7,463.8 311.7,466.3 311.2,468.8 310.4,471.3 309.1,473.8 307.3,476.3 305.5,478.3 303.3,480.3 301.0,481.8 299.1,482.8 296.7,483.8 293.5,484.9 288.0,486.5 282.0,488.0 278.0,488.8 274.5,489.3Z" fill="#bfd6f6" fill-rule="evenodd"/>
<path d="M271.0,487.8 267.5,487.7 264.5,487.5 261.5,487.0 258.5,486.3 255.5,485.4 253.0,484.5 250.5,483.3 247.8,481.8 245.5,480.2 243.5,478.6 241.6,476.8 240.0,474.8 238.7,472.8 237.7,470.8 236.9,468.3 236.5,466.3 236.5,464.3 236.7,462.3 237.2,460.3 238.0,458.3 239.0,456.5 240.2,454.8 241.9,452.8 243.5,451.3 245.5,449.6 248.1,447.8 251.0,446.1 254.5,444.2 258.0,442.6 261.0,441.4 263.5,440.6 266.0,440.2 269.0,440.0 272.8,440.3 278.0,440.9 282.0,441.7 285.0,442.5 288.5,443.7 292.0,445.2 295.2,446.8 298.0,448.4 300.8,450.3 303.2,452.3 305.1,454.3 306.6,456.3 308.0,458.8 308.8,460.8 309.3,463.3 309.4,465.3 309.1,467.8 308.3,470.3 307.4,472.3 305.7,474.8 304.0,476.8 301.9,478.8 299.5,480.6 297.0,482.0 294.0,483.3 291.0,484.3 287.0,485.4 282.5,486.4 278.5,487.2 274.5,487.6 271.0,487.8Z" fill="#cfe0f9" fill-rule="evenodd"/>
<path d="M278.0,485.8 273.0,486.2 268.5,486.2 264.0,485.8 262.0,485.4 259.5,484.8 255.5,483.6 253.5,482.7 251.5,481.8 249.8,480.8 248.0,479.7 246.5,478.6 245.0,477.3 243.5,475.8 242.5,474.7 241.5,473.3 240.6,471.8 239.8,470.3 239.3,468.8 238.9,467.3 238.7,465.8 238.7,464.3 238.8,462.8 239.1,461.3 239.6,459.8 240.3,458.3 241.1,456.8 242.2,455.3 243.5,453.8 246.0,451.4 248.8,449.3 252.5,447.0 256.5,445.0 260.0,443.5 263.5,442.3 266.5,441.7 269.5,441.5 273.5,441.6 278.0,442.2 282.0,443.1 286.0,444.4 290.5,446.2 294.7,448.3 298.0,450.3 299.5,451.5 301.1,452.8 302.5,454.2 303.5,455.3 304.2,456.3 305.2,457.8 306.3,460.3 307.0,462.8 307.1,465.3 307.0,466.8 306.6,468.3 305.7,470.8 304.3,473.3 302.2,475.8 300.1,477.8 297.4,479.8 294.5,481.4 291.2,482.8 287.0,484.1 282.5,485.1 278.0,485.8Z" fill="#dfebfb" fill-rule="evenodd"/>
<path d="M273.5,484.8 270.5,484.8 267.5,484.6 264.5,484.3 262.0,483.8 259.5,483.1 256.9,482.3 254.5,481.3 252.0,480.1 249.9,478.8 247.9,477.3 246.2,475.8 244.5,474.0 243.2,472.3 242.1,470.3 241.5,468.7 241.0,466.8 240.8,464.8 240.9,463.3 241.3,461.3 241.8,459.8 242.8,457.8 243.7,456.3 244.9,454.8 246.5,453.2 248.5,451.5 250.5,450.1 253.0,448.5 255.5,447.2 258.5,445.8 261.5,444.6 264.0,443.8 266.5,443.3 269.0,443.0 272.0,442.9 275.0,443.2 278.5,443.7 281.5,444.5 285.0,445.6 288.5,446.9 292.0,448.5 295.0,450.2 297.3,451.8 299.1,453.3 301.0,455.2 302.3,456.8 303.5,458.8 304.3,460.8 304.8,462.8 305.0,464.8 304.8,466.8 304.3,468.8 303.4,470.8 302.2,472.8 300.6,474.8 298.5,476.7 296.5,478.3 294.5,479.5 292.0,480.8 289.5,481.8 286.5,482.8 283.5,483.5 280.0,484.2 276.5,484.6 273.5,484.8Z" fill="#f0f5fd" fill-rule="evenodd"/>
<path d="M275.5,483.3 271.0,483.4 267.0,483.1 263.0,482.5 259.5,481.5 256.0,480.2 254.1,479.3 252.5,478.4 251.0,477.5 249.4,476.3 248.3,475.3 247.0,474.0 245.2,471.8 244.5,470.6 243.9,469.3 243.5,468.2 243.1,466.8 242.9,465.3 242.9,463.8 243.1,462.3 243.4,461.3 243.9,459.8 244.4,458.8 245.3,457.3 246.0,456.3 247.0,455.1 248.3,453.8 250.7,451.8 253.5,450.0 256.5,448.3 260.0,446.7 263.0,445.7 266.0,444.9 269.0,444.4 272.0,444.4 275.5,444.6 279.0,445.3 283.0,446.4 287.0,447.8 290.5,449.4 293.8,451.3 296.6,453.3 298.8,455.3 300.4,457.3 301.0,458.3 301.8,459.8 302.5,461.8 302.7,462.8 302.9,464.3 302.8,465.8 302.7,466.8 302.1,468.8 301.5,470.1 300.8,471.3 299.4,473.3 297.4,475.3 295.0,477.2 292.4,478.8 289.5,480.2 286.5,481.3 283.0,482.2 279.5,482.9 275.5,483.3Z" fill="#fffefe" fill-rule="evenodd"/>
<path d="M277.0,481.8 273.0,482.0 269.0,481.9 265.0,481.4 261.5,480.5 258.0,479.4 255.0,478.0 252.3,476.3 249.8,474.3 247.9,472.3 247.0,471.0 246.3,469.8 245.8,468.8 245.3,467.3 245.1,466.3 245.0,464.8 245.0,463.3 245.2,462.3 245.6,460.8 246.0,459.8 246.8,458.3 247.4,457.3 249.1,455.3 251.3,453.3 253.5,451.7 256.5,449.9 259.5,448.5 262.5,447.3 265.5,446.5 268.5,446.0 271.5,445.8 274.5,445.9 278.0,446.5 281.5,447.3 285.0,448.5 288.1,449.8 291.0,451.3 293.5,452.9 296.0,454.9 297.8,456.8 299.2,458.8 300.1,460.8 300.6,462.8 300.8,463.8 300.8,465.3 300.4,467.3 299.7,469.3 298.5,471.4 296.9,473.3 294.8,475.3 292.5,476.9 290.0,478.3 287.0,479.6 284.0,480.5 280.5,481.3 277.0,481.8Z" fill="#fdf3f3" fill-rule="evenodd"/>
<path d="M278.0,480.3 274.5,480.6 271.0,480.6 267.5,480.3 264.0,479.7 260.5,478.7 257.5,477.5 255.0,476.1 252.4,474.3 250.3,472.3 248.8,470.3 247.8,468.3 247.4,467.3 247.1,465.8 247.0,464.8 247.1,463.3 247.5,461.3 248.0,460.0 248.6,458.8 250.0,456.8 252.0,454.8 253.8,453.3 256.1,451.8 259.0,450.3 262.0,449.0 265.0,448.1 268.0,447.5 270.5,447.2 273.5,447.3 276.5,447.6 279.5,448.2 282.5,449.1 285.5,450.2 288.5,451.6 291.0,453.0 293.4,454.8 295.1,456.3 296.7,458.3 297.8,460.3 298.5,462.3 298.7,464.3 298.6,466.3 298.0,468.3 297.0,470.2 295.5,472.2 293.9,473.8 292.0,475.3 289.5,476.8 287.0,478.0 284.0,479.0 281.0,479.8 278.0,480.3Z" fill="#fce8e8" fill-rule="evenodd"/>
<path d="M278.5,478.8 275.5,479.2 272.0,479.3 268.5,479.0 265.5,478.5 262.5,477.8 259.5,476.7 256.7,475.3 254.5,473.8 252.8,472.3 251.1,470.3 249.9,468.3 249.3,466.3 249.1,465.3 249.1,463.8 249.4,461.8 250.2,459.8 251.5,457.8 253.0,456.1 255.0,454.4 257.3,452.8 259.5,451.6 262.0,450.5 264.5,449.7 267.5,449.0 270.0,448.7 272.5,448.6 275.5,448.8 278.0,449.3 281.0,450.0 284.0,451.1 286.5,452.2 289.0,453.5 291.0,454.9 292.7,456.3 294.1,457.8 295.1,459.3 296.1,461.3 296.6,463.3 296.6,465.3 296.2,467.3 295.6,468.8 294.5,470.5 293.0,472.3 291.2,473.8 289.0,475.3 286.5,476.5 284.0,477.5 281.5,478.2 278.5,478.8Z" fill="#fadddd" fill-rule="evenodd"/>
<path d="M275.0,477.8 272.0,477.9 269.0,477.7 266.0,477.2 263.0,476.4 260.5,475.4 258.0,474.2 256.0,472.8 254.0,471.0 252.7,469.3 252.1,468.3 251.7,467.3 251.3,465.8 251.2,463.8 251.5,461.8 252.4,459.8 253.7,457.8 255.2,456.3 257.0,454.8 259.0,453.5 261.0,452.5 263.5,451.5 265.8,450.8 268.0,450.3 270.5,450.1 273.0,450.0 275.5,450.2 278.0,450.7 280.5,451.3 283.5,452.4 286.0,453.5 288.2,454.8 290.2,456.3 291.8,457.8 292.9,459.3 293.8,460.8 294.3,462.3 294.5,463.3 294.5,464.3 294.5,465.3 294.3,466.3 293.8,467.8 293.0,469.3 292.0,470.7 290.5,472.2 289.0,473.3 287.0,474.5 285.0,475.5 282.5,476.4 280.0,477.1 277.5,477.5 275.0,477.8Z" fill="#f8d0d1" fill-rule="evenodd"/>
<path d="M275.5,476.3 272.5,476.4 270.0,476.3 267.0,475.9 264.6,475.3 262.0,474.4 260.0,473.4 258.2,472.3 256.4,470.8 255.1,469.3 254.2,467.8 253.6,466.3 253.4,465.3 253.3,464.3 253.4,463.3 253.5,462.3 254.1,460.8 254.9,459.3 256.1,457.8 257.5,456.5 259.1,455.3 261.0,454.2 263.0,453.3 265.0,452.5 267.5,451.9 269.5,451.6 272.0,451.4 274.0,451.5 276.5,451.8 279.0,452.3 281.5,453.1 284.0,454.2 286.0,455.3 287.5,456.3 289.3,457.8 290.5,459.2 291.2,460.3 291.9,461.8 292.3,463.3 292.4,464.8 292.1,466.3 291.5,467.8 290.6,469.3 289.5,470.6 288.2,471.8 286.5,472.9 284.5,474.0 282.5,474.8 280.0,475.6 278.0,476.0 275.5,476.3Z" fill="#f6c3c5" fill-rule="evenodd"/>
<path d="M275.5,474.8 273.0,475.0 270.5,474.9 268.0,474.5 266.0,474.1 264.0,473.4 262.0,472.6 260.0,471.4 258.5,470.2 257.2,468.8 256.3,467.3 255.8,465.8 255.6,464.3 255.7,462.8 256.2,461.3 257.0,459.8 258.2,458.3 259.5,457.1 261.0,456.1 262.5,455.2 264.5,454.3 266.5,453.7 268.5,453.2 270.5,453.0 272.5,452.9 274.5,453.0 276.5,453.3 278.5,453.7 280.5,454.4 282.7,455.3 284.5,456.3 286.0,457.3 287.2,458.3 288.1,459.3 289.1,460.8 289.6,461.8 290.0,463.3 290.1,464.8 289.9,465.8 289.5,467.0 288.8,468.3 287.6,469.8 286.5,470.8 285.0,471.8 283.5,472.6 281.5,473.5 279.5,474.1 277.5,474.6 275.5,474.8Z" fill="#f4b6b8" fill-rule="evenodd"/>
<path d="M274.5,473.3 272.0,473.4 270.0,473.2 268.0,472.9 266.0,472.3 264.5,471.8 262.6,470.8 261.1,469.8 260.0,468.8 259.0,467.5 258.4,466.3 258.1,465.3 258.0,463.8 258.3,462.3 258.7,461.3 259.5,460.0 260.5,458.8 261.7,457.8 263.0,456.9 264.5,456.2 266.0,455.6 267.5,455.1 269.5,454.7 271.0,454.5 273.0,454.5 275.0,454.7 276.5,454.9 278.1,455.3 280.0,455.9 281.5,456.6 283.0,457.4 284.2,458.3 285.3,459.3 286.2,460.3 286.8,461.3 287.3,462.3 287.6,463.8 287.5,465.3 287.2,466.3 286.7,467.3 286.0,468.3 285.1,469.3 283.8,470.3 282.5,471.1 281.1,471.8 279.5,472.4 278.0,472.8 276.5,473.1 274.5,473.3Z" fill="#f1a9ac" fill-rule="evenodd"/>
<path d="M276.0,471.3 274.5,471.5 272.5,471.6 271.0,471.5 269.4,471.3 267.5,470.8 266.0,470.3 265.0,469.8 263.5,468.9 262.3,467.8 261.6,466.8 261.1,465.8 260.8,464.8 260.7,463.8 260.9,462.8 261.2,461.8 261.8,460.8 263.2,459.3 264.5,458.4 265.5,457.8 266.7,457.3 268.2,456.8 269.5,456.5 271.0,456.3 272.5,456.3 274.0,456.3 275.5,456.5 277.0,456.9 279.6,457.8 281.0,458.6 282.0,459.3 282.6,459.8 283.6,460.8 284.2,461.8 284.6,462.8 284.8,463.8 284.8,464.8 284.3,466.3 283.3,467.8 282.5,468.5 281.5,469.3 280.5,469.9 279.0,470.5 277.5,471.0 276.0,471.3Z" fill="#f09ea1" fill-rule="evenodd"/>
<path d="M274.5,469.3 272.0,469.4 270.7,469.3 269.5,469.1 267.5,468.3 266.5,467.8 265.8,467.3 265.0,466.4 264.6,465.8 264.3,465.3 264.1,464.3 264.1,463.8 264.2,462.8 264.5,462.2 265.1,461.3 266.2,460.3 267.0,459.8 268.0,459.3 270.0,458.7 272.0,458.4 274.0,458.5 276.0,458.9 278.0,459.7 279.0,460.2 279.7,460.8 280.6,461.8 281.0,462.4 281.3,463.3 281.4,464.3 281.3,464.8 281.0,465.8 280.0,467.0 278.5,468.1 276.9,468.8 274.5,469.3Z" fill="#ee9699" fill-rule="evenodd"/>
<path d="M273.5,465.8 272.0,465.8 271.5,465.7 270.5,465.3 269.9,464.8 269.7,464.3 269.6,463.8 269.8,463.3 270.0,463.0 270.5,462.5 271.0,462.3 272.5,462.0 274.0,462.2 274.5,462.4 275.2,462.8 275.6,463.3 275.8,463.8 275.7,464.3 275.5,464.8 274.9,465.3 274.0,465.7 273.5,465.8Z" fill="#ed8e92" fill-rule="evenodd"/>
</g>
<path d="M277.0,504.3 271.0,504.4 264.5,504.1 258.5,503.5 253.0,502.6 247.5,501.3 242.5,499.7 237.8,497.8 233.5,495.5 230.0,493.2 227.0,490.6 224.4,487.8 222.0,484.3 219.8,480.3 218.3,476.3 217.2,472.3 216.7,468.3 216.7,465.8 216.9,463.3 217.4,460.8 218.0,458.8 218.7,456.8 220.0,454.3 221.2,452.3 223.1,449.8 224.8,447.8 226.5,446.1 228.5,444.3 231.0,442.3 236.0,438.7 245.5,432.5 249.1,429.8 250.6,428.3 252.3,426.3 253.5,424.6 255.0,422.1 256.5,419.3 257.6,416.8 258.3,414.8 258.7,412.8 258.8,411.3 258.8,409.3 257.8,402.8 257.7,399.3 258.0,396.8 258.5,393.8 259.3,390.3 260.2,387.3 261.1,384.8 262.1,382.3 263.2,380.3 264.5,378.2 265.7,376.8 267.0,375.7 268.5,375.0 270.0,374.7 271.5,374.9 272.5,375.3 273.9,376.3 275.0,377.4 276.1,378.8 277.3,380.8 278.3,382.8 279.2,385.3 280.0,387.9 281.0,391.9 282.2,397.3 283.0,401.3 283.6,405.8 284.6,414.8 284.9,418.8 284.8,419.8 284.5,420.8 283.8,421.8 283.1,422.3 281.5,422.8 276.5,423.6 274.0,424.2 271.5,425.2 270.0,426.1 268.9,427.3 268.4,428.3 268.3,428.8 268.3,429.8 268.7,430.8 269.5,431.8 270.0,432.3 270.8,432.8 272.0,433.4 274.5,434.1 277.0,434.3 279.5,434.0 282.0,433.3 284.2,432.3 287.5,430.4 288.5,430.0 289.5,429.8 291.0,429.9 293.0,430.5 295.5,431.6 301.5,434.6 307.0,437.6 312.0,440.7 316.3,443.8 320.0,447.0 323.1,450.3 325.5,453.8 327.3,457.3 328.1,459.3 328.6,461.3 329.0,463.3 329.2,465.3 329.2,467.3 329.0,469.3 328.3,473.3 327.7,475.3 326.8,477.8 326.1,479.3 325.2,480.8 324.4,481.8 323.3,482.8 322.0,483.7 320.8,484.3 317.5,485.5 310.1,487.8 307.7,488.8 306.9,489.3 306.4,489.8 306.2,490.3 306.2,490.8 306.8,491.8 308.8,493.8 309.1,494.3 309.2,494.8 309.1,495.3 308.8,495.8 307.8,496.8 305.5,498.2 302.5,499.4 299.0,500.6 294.5,501.9 290.5,502.7 286.0,503.5 281.5,504.0 277.0,504.3Z" fill="none" stroke="#7a8a9a" stroke-opacity="0.45" stroke-width="0.5"/>
<path d="M270.0,420.3 268.5,420.6 267.0,420.4 266.1,419.8 265.5,418.7 265.1,416.3 264.5,404.3 264.6,401.8 264.9,399.3 265.5,396.8 266.2,394.8 267.0,393.1 268.0,391.7 269.0,390.9 270.0,390.6 271.0,390.8 271.5,391.1 272.5,392.0 273.5,393.6 274.4,395.8 275.1,398.3 275.7,401.3 276.0,404.8 276.1,408.3 276.1,411.3 275.9,413.8 275.6,415.3 275.1,416.8 274.5,417.8 273.5,418.8 271.7,419.8 270.0,420.3ZM278.0,496.3 274.0,496.6 269.5,496.5 265.0,496.2 260.5,495.7 256.0,494.8 252.0,493.7 248.5,492.4 245.0,490.9 241.5,489.0 238.5,487.1 236.0,485.0 233.5,482.6 231.2,479.8 229.5,477.3 228.0,474.3 226.9,471.3 226.2,468.3 226.0,465.8 226.2,463.3 226.6,460.8 227.5,458.3 228.6,455.8 230.2,453.3 231.8,451.3 233.7,449.3 235.8,447.3 238.4,445.3 241.0,443.5 244.5,441.3 257.0,433.9 258.5,433.2 260.0,432.6 261.5,432.4 263.0,432.6 269.5,435.2 271.5,435.8 274.0,436.3 277.5,436.6 285.5,436.3 288.5,436.5 290.0,436.9 292.0,437.5 296.5,439.5 301.0,441.7 305.0,444.0 308.5,446.4 311.5,448.9 314.0,451.5 316.2,454.3 317.9,457.3 319.1,460.3 319.6,462.8 319.8,465.8 319.6,468.3 318.9,471.3 317.8,474.3 316.5,476.8 314.7,479.3 312.9,481.3 310.8,482.8 308.0,484.2 305.0,485.3 298.9,487.3 295.1,488.8 292.7,490.3 289.5,493.3 287.7,494.3 286.0,494.9 283.5,495.5 281.0,496.0 278.0,496.3Z" fill="none" stroke="#7a8a9a" stroke-opacity="0.45" stroke-width="0.5"/>
<path d="M272.5,489.8 269.0,489.9 265.5,489.7 262.5,489.4 259.0,488.7 256.0,487.9 252.5,486.7 249.5,485.4 247.0,484.1 244.5,482.5 242.2,480.8 240.0,478.8 238.2,476.8 236.8,474.8 235.4,472.3 234.6,470.3 233.9,467.8 233.7,465.3 233.7,463.3 234.1,461.3 234.7,459.3 235.6,457.3 236.8,455.3 238.4,453.3 240.0,451.5 242.0,449.7 244.5,447.8 247.0,446.1 250.0,444.4 254.5,442.0 258.5,440.1 261.0,439.1 263.5,438.5 265.5,438.3 268.0,438.4 280.0,439.7 283.0,440.2 285.7,440.8 288.5,441.7 291.5,442.9 295.0,444.5 298.5,446.4 301.5,448.3 304.5,450.6 306.8,452.8 308.5,454.8 310.1,457.3 311.3,459.8 311.9,462.3 312.2,464.8 312.0,467.3 311.4,469.8 310.4,472.3 309.0,474.7 307.5,476.8 305.5,478.9 303.0,480.9 300.8,482.3 298.7,483.3 295.5,484.5 291.5,485.8 285.0,487.6 280.5,488.7 276.0,489.5 272.5,489.8Z" fill="none" stroke="#7a8a9a" stroke-opacity="0.45" stroke-width="0.5"/>
<path d="M272.5,482.8 269.5,482.7 267.0,482.5 264.5,482.1 262.0,481.5 259.5,480.8 257.5,480.1 255.0,478.9 253.0,477.8 251.0,476.5 249.5,475.3 247.9,473.8 246.7,472.3 245.6,470.8 244.9,469.3 244.3,467.8 243.9,465.8 243.9,463.8 244.1,462.3 244.5,460.8 245.1,459.3 245.9,457.8 247.0,456.3 248.3,454.8 250.0,453.3 251.9,451.8 254.2,450.3 256.5,449.0 259.1,447.8 261.5,446.9 264.0,446.1 266.5,445.5 269.0,445.1 271.5,445.0 274.5,445.2 277.0,445.5 280.0,446.2 283.0,447.0 286.0,448.1 289.0,449.4 291.7,450.8 294.0,452.2 296.0,453.7 297.7,455.3 299.0,456.8 300.1,458.3 301.1,460.3 301.6,461.8 301.9,463.8 301.9,465.8 301.6,467.3 300.9,469.3 300.0,471.0 298.7,472.8 297.3,474.3 295.6,475.8 293.5,477.3 291.5,478.5 289.0,479.7 286.5,480.6 284.0,481.3 281.5,481.9 278.5,482.4 275.5,482.7 272.5,482.8Z" fill="none" stroke="#7a8a9a" stroke-opacity="0.45" stroke-width="0.5"/>
<path d="M276.5,470.9 273.5,471.2 271.5,471.2 270.0,471.0 268.5,470.7 267.0,470.3 265.5,469.6 264.1,468.8 263.0,467.8 262.1,466.8 261.6,465.8 261.3,464.8 261.3,463.8 261.4,462.8 261.8,461.8 262.4,460.8 263.9,459.3 266.0,458.0 268.5,457.1 271.0,456.7 274.0,456.7 276.5,457.1 279.0,458.0 281.4,459.3 283.0,460.8 283.9,462.3 284.2,463.3 284.3,464.3 283.9,465.8 283.1,467.3 281.4,468.8 280.5,469.4 279.0,470.1 276.5,470.9Z" fill="none" stroke="#7a8a9a" stroke-opacity="0.45" stroke-width="0.5"/>
</g>
<clipPath id="mi"><rect x="365.80" y="371.30" width="144.20" height="174.90"/></clipPath>
<g clip-path="url(#mi)">
<rect x="362.8" y="368.3" width="150.2" height="180.9" fill="#6b9be9"/>
<g filter="url(#mblur)">
<path d="M454.8,541.3 448.8,541.5 442.8,541.5 436.8,541.4 430.3,541.2 424.3,540.8 418.3,540.4 411.8,539.7 406.3,539.0 400.3,538.1 394.3,537.0 388.8,535.9 383.3,534.7 378.3,533.4 372.8,531.9 367.8,530.3 362.8,528.6 362.8,427.4 371.8,423.3 377.8,420.3 382.9,417.3 385.3,415.7 387.8,413.8 389.8,412.2 391.9,410.3 395.8,406.2 399.3,402.1 407.0,392.3 410.7,387.8 414.3,383.8 418.3,379.9 420.3,378.2 422.8,376.2 425.3,374.5 427.8,372.9 430.3,371.5 432.8,370.3 435.3,369.3 438.1,368.3 466.5,368.3 469.3,369.3 471.8,370.3 474.3,371.5 476.8,372.9 480.8,375.5 484.8,378.6 488.3,381.8 492.2,385.8 495.6,389.8 499.3,394.4 509.8,408.5 512.8,412.4 512.8,532.4 506.3,534.2 498.8,535.9 492.3,537.2 484.8,538.5 477.3,539.5 470.3,540.3 462.3,540.9 454.8,541.3Z" fill="#6e9eea" fill-rule="evenodd"/>
<path d="M458.3,529.8 451.8,530.1 445.3,530.3 438.8,530.2 432.3,530.0 425.8,529.6 419.3,528.9 412.8,528.1 406.3,527.1 400.3,526.0 394.3,524.7 388.3,523.1 382.8,521.5 377.3,519.6 372.3,517.7 367.3,515.6 362.8,513.4 362.8,443.0 368.3,440.0 380.3,433.9 385.3,431.3 390.8,427.9 393.1,426.3 395.1,424.8 398.4,421.8 401.8,418.2 404.3,415.2 412.0,405.3 414.8,402.0 417.3,399.2 419.8,396.7 422.8,393.9 425.8,391.5 428.3,389.6 430.8,388.0 433.8,386.3 436.3,385.1 439.3,383.9 442.3,382.9 445.3,382.2 448.3,381.7 450.8,381.5 454.8,381.6 458.8,382.0 462.8,382.8 466.8,384.1 471.3,386.0 475.3,388.1 479.8,390.9 483.8,393.9 487.3,396.8 490.8,400.1 494.2,403.8 497.1,407.3 499.7,410.8 502.0,414.3 509.3,426.2 511.1,428.8 512.8,430.9 512.8,518.7 507.3,520.6 500.8,522.7 494.3,524.4 487.3,526.0 479.8,527.4 472.8,528.4 465.8,529.2 458.3,529.8Z" fill="#71a0ea" fill-rule="evenodd"/>
<path d="M449.8,522.3 443.8,522.4 437.3,522.3 431.3,522.0 425.3,521.5 419.3,520.8 413.3,519.9 407.8,518.9 401.8,517.6 396.3,516.2 391.3,514.6 386.3,512.9 381.3,510.9 376.8,508.8 372.8,506.7 368.7,504.3 365.1,501.8 362.8,500.0 362.8,456.6 366.9,453.3 371.3,450.3 377.3,446.6 388.3,440.3 392.3,438.0 396.3,435.3 399.3,432.9 400.8,431.5 402.3,429.9 404.8,426.9 406.8,424.0 413.6,413.8 415.8,410.8 417.8,408.3 420.3,405.5 422.8,403.0 425.8,400.4 428.3,398.5 431.3,396.5 434.8,394.5 437.8,393.2 441.3,391.9 444.8,390.9 448.3,390.3 451.8,390.0 455.3,390.0 457.3,390.1 459.8,390.4 463.8,391.2 468.3,392.5 472.3,394.1 476.3,396.1 480.3,398.5 483.8,401.1 487.5,404.3 490.0,406.8 492.3,409.5 494.4,412.3 496.4,415.3 498.2,418.3 500.0,421.8 501.6,425.3 504.8,432.8 506.8,436.8 508.0,438.8 509.4,440.8 510.8,442.5 512.8,444.7 512.8,507.8 509.8,509.3 506.5,510.8 499.8,513.5 496.3,514.7 492.3,515.9 484.3,518.0 475.8,519.7 467.3,521.0 458.3,521.9 449.8,522.3Z" fill="#74a2eb" fill-rule="evenodd"/>
<path d="M447.8,515.8 439.8,515.8 431.8,515.4 423.8,514.6 415.8,513.3 408.3,511.8 404.3,510.7 400.8,509.7 394.3,507.5 391.3,506.3 388.0,504.8 385.0,503.3 382.3,501.8 379.9,500.3 377.7,498.8 375.3,496.9 373.4,495.3 371.8,493.7 370.1,491.8 368.8,490.0 367.7,488.3 366.6,486.3 365.8,484.3 365.4,482.8 365.0,480.8 364.8,478.8 364.9,476.8 365.2,474.8 365.7,472.8 366.4,470.8 367.3,468.8 368.5,466.8 370.0,464.8 371.6,462.8 373.5,460.8 376.9,457.8 381.5,454.3 385.9,451.3 395.8,445.0 399.3,442.6 402.3,440.1 404.8,437.6 406.6,435.3 408.3,432.6 409.8,429.9 414.5,420.8 417.6,415.8 419.7,412.8 421.7,410.3 424.1,407.8 426.3,405.7 429.8,402.9 433.3,400.6 437.3,398.5 441.3,396.9 445.3,395.8 449.3,395.0 451.3,394.8 453.8,394.7 457.8,394.9 460.3,395.1 463.3,395.7 466.3,396.4 468.8,397.2 471.3,398.2 473.8,399.3 476.3,400.7 478.8,402.2 481.3,403.9 483.3,405.5 485.3,407.3 487.3,409.4 489.0,411.3 490.9,413.8 492.6,416.3 494.0,418.8 496.0,422.8 497.5,426.8 498.9,431.3 501.3,440.0 502.3,442.9 503.3,445.2 504.8,447.9 506.5,450.3 508.8,453.0 512.8,457.4 512.8,496.6 510.0,498.8 507.3,500.6 504.3,502.4 500.8,504.3 497.3,505.9 493.3,507.6 489.3,509.0 485.3,510.3 480.8,511.5 476.3,512.5 471.8,513.4 467.3,514.2 462.8,514.8 457.8,515.3 452.8,515.6 447.8,515.8Z" fill="#77a5eb" fill-rule="evenodd"/>
<path d="M448.8,509.8 441.8,509.9 434.8,509.6 427.8,508.9 420.8,507.8 414.3,506.5 408.3,504.9 402.3,502.9 396.8,500.6 392.3,498.3 388.3,495.8 386.3,494.3 384.8,493.1 383.5,491.8 382.1,490.3 380.9,488.8 379.9,487.3 379.1,485.8 378.5,484.3 378.0,482.8 377.6,480.8 377.4,479.3 377.5,477.3 377.6,475.8 378.1,473.8 378.6,472.3 379.5,470.3 380.6,468.3 381.6,466.8 384.1,463.8 387.1,460.8 390.3,458.1 394.0,455.3 400.8,450.5 403.8,448.2 406.3,445.8 408.4,443.3 409.8,441.3 411.4,438.3 412.8,434.9 416.1,426.3 417.4,423.3 419.0,420.3 420.8,417.3 422.5,414.8 424.5,412.3 426.8,409.8 428.4,408.3 430.2,406.8 433.7,404.3 437.3,402.3 441.3,400.5 443.3,399.9 445.8,399.2 449.8,398.5 453.8,398.2 456.3,398.2 458.3,398.3 460.3,398.5 462.8,398.9 465.3,399.5 467.3,400.1 469.8,401.0 471.8,401.8 473.8,402.8 475.8,403.9 479.4,406.3 481.3,407.8 483.0,409.3 484.8,411.1 486.3,412.8 487.5,414.3 488.9,416.3 490.4,418.8 492.0,421.8 493.2,424.8 494.3,428.3 495.0,431.3 495.6,434.3 497.2,446.3 497.7,448.8 498.3,450.8 499.4,453.3 500.7,455.8 502.3,458.3 506.8,464.8 508.3,467.3 509.3,469.3 510.2,471.8 510.8,474.3 511.1,476.8 511.0,478.8 510.8,480.3 510.4,481.8 509.9,483.3 509.3,484.8 508.4,486.3 507.5,487.8 505.5,490.3 503.0,492.8 499.8,495.4 496.2,497.8 491.8,500.2 487.3,502.2 482.8,503.9 477.8,505.5 472.3,506.9 466.8,508.0 460.8,508.9 454.8,509.5 448.8,509.8ZM415.6,460.8 416.8,460.4 417.0,460.3 417.5,459.8 417.6,459.3 417.4,458.8 417.0,458.3 415.9,457.8 414.8,457.7 413.8,457.9 413.1,458.3 412.7,458.8 412.7,459.3 412.9,459.8 413.3,460.2 414.3,460.7 414.8,460.8 415.6,460.8Z" fill="#7aa7ec" fill-rule="evenodd"/>
<path d="M448.8,504.3 442.8,504.4 436.8,504.3 431.3,503.9 424.8,503.2 418.8,502.2 413.8,501.1 408.3,499.6 403.8,498.0 399.3,496.0 395.8,494.1 392.8,492.0 390.4,489.8 389.6,488.8 388.5,487.3 388.0,486.3 387.4,484.8 387.1,483.8 386.8,482.3 386.8,481.3 386.8,479.8 387.2,477.8 388.1,475.3 389.4,472.8 391.0,470.3 393.3,467.4 395.7,464.8 397.8,462.9 399.8,461.5 400.8,461.1 401.8,460.7 402.8,460.6 403.8,460.6 405.3,461.0 408.1,462.3 409.8,462.9 411.8,463.3 414.3,463.5 416.3,463.3 418.3,462.7 419.3,462.3 420.2,461.8 420.8,461.3 421.2,460.8 421.7,459.8 421.7,458.8 421.4,457.8 420.8,456.9 419.8,455.9 418.8,455.2 417.3,454.3 414.4,452.8 413.6,452.3 413.1,451.8 412.8,451.3 412.7,450.8 412.7,449.8 413.1,448.3 414.4,444.8 415.3,442.1 418.1,431.3 419.0,428.3 420.1,425.3 421.7,421.8 423.4,418.8 425.4,415.8 427.8,412.9 430.8,410.0 432.3,408.8 434.3,407.3 437.8,405.2 439.8,404.2 441.8,403.4 445.8,402.1 448.3,401.6 450.3,401.3 454.3,401.0 456.8,401.0 458.8,401.1 461.3,401.5 463.3,401.8 467.3,403.0 469.3,403.7 471.3,404.6 473.3,405.6 475.4,406.8 477.3,408.1 478.9,409.3 480.7,410.8 482.2,412.3 483.8,414.1 485.2,415.8 486.3,417.4 487.5,419.3 489.0,422.3 490.2,425.3 491.2,428.8 491.9,432.3 492.3,435.3 492.4,438.8 492.2,448.8 492.2,451.8 492.4,454.3 492.9,456.8 493.7,459.3 494.9,461.8 496.1,463.8 499.6,468.8 500.5,470.3 501.2,471.8 502.0,473.8 502.3,475.3 502.5,476.8 502.4,478.3 502.2,479.8 501.9,480.8 501.6,481.8 500.8,483.3 499.3,485.6 497.4,487.8 495.2,489.8 492.3,491.9 488.8,494.1 485.3,495.9 481.8,497.5 477.8,499.0 473.3,500.4 468.8,501.6 463.8,502.6 458.8,503.4 453.8,504.0 448.8,504.3Z" fill="#83adee" fill-rule="evenodd"/>
<path d="M444.8,501.3 439.3,501.4 433.3,501.2 428.8,500.9 422.8,500.2 418.3,499.4 413.8,498.4 409.3,497.2 405.8,495.9 402.3,494.4 399.4,492.8 396.8,491.0 395.0,489.3 393.4,487.3 392.4,485.3 392.0,484.3 391.8,483.3 391.8,482.3 391.9,480.8 392.2,479.3 393.0,477.3 393.9,475.8 395.0,474.3 396.4,472.8 398.3,471.0 400.3,469.3 402.3,467.9 404.3,466.9 405.3,466.5 406.8,466.1 408.8,465.7 414.8,465.1 416.8,464.7 418.8,464.2 420.3,463.6 421.9,462.8 423.3,461.8 424.2,460.8 424.4,460.3 424.7,459.3 424.7,458.3 424.4,457.3 423.9,456.3 423.3,455.3 420.5,451.8 420.0,450.8 419.5,449.3 419.4,447.8 419.5,446.3 420.3,437.3 420.9,433.8 421.5,430.8 422.3,427.8 423.4,424.8 424.8,421.8 426.3,419.3 428.0,416.8 429.8,414.6 431.3,413.1 432.8,411.7 434.5,410.3 436.3,409.1 438.3,407.9 440.3,406.8 442.3,405.9 444.3,405.2 446.3,404.6 448.3,404.1 450.8,403.7 452.8,403.5 454.8,403.4 457.3,403.5 461.3,404.0 465.3,404.9 467.3,405.6 469.3,406.4 472.8,408.1 476.2,410.3 477.8,411.6 479.3,412.9 482.0,415.8 484.2,418.8 485.1,420.3 486.1,422.3 487.3,425.3 488.3,428.8 489.0,432.3 489.2,436.3 489.1,439.8 488.7,443.3 488.2,446.3 486.8,452.8 486.3,455.8 486.1,457.8 486.2,459.8 486.5,460.8 486.9,461.8 488.0,463.3 489.3,464.8 492.3,467.7 493.8,469.3 495.0,470.8 496.0,472.3 496.7,473.8 497.2,475.3 497.5,477.3 497.4,478.8 496.9,480.8 496.0,482.8 494.6,484.8 492.7,486.8 490.3,488.8 487.8,490.5 484.3,492.4 480.8,494.1 476.8,495.6 472.8,496.9 468.8,498.0 464.3,499.0 459.3,499.9 454.8,500.6 449.8,501.0 444.8,501.3ZM456.5,454.3 456.9,453.8 456.8,453.3 456.0,452.8 455.3,452.7 454.3,452.7 453.8,452.9 453.2,453.3 453.1,453.8 453.6,454.3 453.8,454.4 454.3,454.5 455.3,454.6 456.5,454.3Z" fill="#8cb4ef" fill-rule="evenodd"/>
<path d="M439.8,499.8 434.8,499.7 430.3,499.5 425.8,499.0 421.3,498.4 416.8,497.5 412.8,496.5 409.3,495.4 405.8,494.0 403.3,492.8 400.8,491.2 398.8,489.6 397.1,487.8 396.1,486.3 395.6,485.3 395.3,484.3 395.1,483.3 395.0,482.3 395.1,481.3 395.3,480.3 395.6,479.3 396.3,477.8 396.9,476.8 398.1,475.3 399.3,474.0 400.8,472.7 402.3,471.5 404.3,470.2 406.8,468.8 409.3,467.8 411.8,467.1 417.8,465.7 419.8,465.1 421.9,464.3 424.0,463.3 425.6,462.3 426.8,461.3 427.6,460.3 427.8,459.8 428.0,458.8 427.9,457.3 427.4,455.8 425.7,452.3 425.0,450.8 424.6,449.3 424.2,447.3 423.8,444.3 423.7,440.8 423.7,437.8 423.9,434.8 424.3,431.8 424.8,429.3 425.6,426.8 426.6,424.3 427.8,421.8 429.0,419.8 430.4,417.8 432.1,415.8 433.6,414.3 435.3,412.8 436.8,411.7 438.8,410.4 440.3,409.5 442.3,408.5 444.3,407.7 446.3,407.1 448.3,406.6 450.3,406.2 452.3,405.9 454.8,405.8 457.3,405.9 459.3,406.0 461.3,406.3 463.3,406.8 466.8,407.9 470.0,409.3 473.3,411.2 476.1,413.3 478.7,415.8 480.8,418.3 482.7,421.3 484.2,424.3 484.7,425.8 485.3,427.8 485.8,429.8 486.1,431.8 486.3,435.3 486.2,437.3 486.0,439.3 485.4,442.8 484.5,446.3 483.0,450.3 479.9,457.3 479.6,458.8 479.5,459.8 479.8,460.8 480.1,461.3 481.3,462.8 482.5,463.8 486.8,467.0 489.1,468.8 490.8,470.5 492.3,472.3 493.2,473.8 493.6,474.8 494.0,475.8 494.1,476.8 494.2,477.8 494.1,478.8 493.9,479.8 493.2,481.8 491.9,483.8 490.1,485.8 488.3,487.4 485.8,489.2 482.8,490.9 479.3,492.6 475.8,494.0 472.3,495.1 467.8,496.4 463.3,497.5 459.3,498.2 453.8,499.0 449.3,499.4 444.8,499.7 439.8,499.8ZM457.9,456.8 459.3,456.4 460.5,455.8 461.1,455.3 461.5,454.8 461.6,454.3 461.6,453.8 461.5,453.3 461.2,452.8 460.7,452.3 459.9,451.8 458.9,451.3 457.3,450.9 455.8,450.7 454.3,450.7 452.8,450.8 451.3,451.2 450.1,451.8 449.4,452.3 448.9,452.8 448.7,453.3 448.6,453.8 448.6,454.3 448.8,454.8 449.2,455.3 449.8,455.8 450.8,456.3 452.5,456.8 454.3,457.0 456.3,457.0 457.9,456.8Z" fill="#97bcf1" fill-rule="evenodd"/>
<path d="M448.8,498.3 443.8,498.6 438.8,498.7 433.8,498.6 428.8,498.2 424.3,497.7 420.3,497.0 415.8,496.1 412.3,495.0 408.8,493.8 405.8,492.4 403.3,490.9 401.1,489.3 399.7,487.8 398.9,486.8 398.3,485.8 397.9,484.8 397.7,483.8 397.5,482.8 397.5,481.8 397.7,480.8 398.2,479.3 399.0,477.8 399.6,476.8 400.8,475.4 402.0,474.3 403.3,473.2 405.3,471.7 408.3,470.0 410.8,468.9 413.3,468.0 420.8,465.8 423.6,464.8 426.0,463.8 428.9,462.3 430.5,461.3 431.8,460.3 432.6,459.3 432.8,458.8 433.0,457.8 432.6,456.3 429.4,449.8 428.6,447.8 427.8,445.3 427.4,443.3 427.0,440.8 426.8,438.3 426.8,436.3 426.9,433.8 427.2,431.3 427.8,428.8 428.4,426.8 429.4,424.3 430.5,422.3 431.7,420.3 433.2,418.3 435.6,415.8 438.3,413.6 441.3,411.7 443.1,410.8 444.8,410.1 448.3,409.0 451.8,408.3 455.3,408.1 458.8,408.3 462.3,408.9 465.8,410.0 467.7,410.8 469.3,411.6 472.2,413.3 474.8,415.4 477.3,417.9 478.4,419.3 479.5,420.8 481.1,423.8 482.0,425.8 482.6,427.8 483.1,429.8 483.4,432.3 483.5,434.3 483.4,436.8 483.2,438.8 482.7,441.3 482.1,443.3 481.3,445.4 480.4,447.3 479.3,449.3 478.3,450.8 476.8,452.8 473.0,456.8 472.4,457.8 472.3,458.8 472.4,459.3 472.9,460.3 473.3,460.8 474.5,461.8 476.7,463.3 482.3,466.5 484.3,467.8 486.8,469.6 488.6,471.3 489.8,472.8 490.5,473.8 491.0,474.8 491.4,475.8 491.6,476.8 491.7,477.8 491.6,478.8 491.4,479.8 491.1,480.8 490.4,482.3 489.3,483.8 487.8,485.5 485.8,487.2 483.8,488.5 481.3,490.0 478.3,491.5 475.3,492.7 471.8,494.0 468.3,495.0 464.3,496.0 459.8,496.9 456.3,497.5 452.3,498.0 448.8,498.3ZM457.4,458.8 459.3,458.7 461.5,458.3 463.4,457.8 464.8,457.2 465.4,456.8 465.8,456.3 466.1,455.8 466.2,455.3 466.1,454.8 465.7,453.8 465.0,452.8 463.8,451.8 462.8,451.2 461.3,450.5 459.8,450.0 458.3,449.7 456.8,449.5 454.8,449.4 452.8,449.5 451.3,449.8 449.4,450.3 448.1,450.8 447.2,451.3 445.8,452.3 445.4,452.8 444.9,453.8 444.7,454.8 444.9,455.3 445.1,455.8 445.5,456.3 446.2,456.8 447.8,457.6 449.8,458.2 452.3,458.6 454.8,458.8 457.4,458.8Z" fill="#a3c4f3" fill-rule="evenodd"/>
<path d="M440.8,451.8 439.8,452.0 438.8,452.1 437.3,451.8 435.8,451.0 434.8,450.1 434.0,449.3 432.6,447.3 431.4,444.8 430.5,441.8 429.9,438.8 429.7,435.8 429.8,433.3 430.3,430.3 430.9,427.8 431.9,425.3 433.2,422.8 434.8,420.5 436.7,418.3 438.3,416.8 440.3,415.2 442.6,413.8 444.8,412.7 447.3,411.8 449.8,411.1 452.3,410.7 454.8,410.5 457.3,410.6 459.8,410.9 462.3,411.4 465.0,412.3 467.3,413.3 469.8,414.7 471.8,416.1 473.7,417.8 475.3,419.5 476.6,421.3 477.8,423.1 478.6,424.8 479.4,426.8 480.0,428.8 480.4,430.8 480.6,432.8 480.7,434.8 480.5,437.3 480.0,439.8 479.4,441.8 478.6,443.8 477.6,445.8 476.6,447.3 475.3,448.8 474.1,449.8 472.8,450.6 471.3,451.1 469.8,451.3 467.8,451.0 462.8,449.4 459.8,448.7 456.3,448.4 452.8,448.4 450.3,448.7 447.7,449.3 445.3,450.1 440.8,451.8ZM441.8,497.8 437.3,497.8 432.3,497.6 427.3,497.2 423.3,496.6 419.8,496.0 415.8,495.0 412.3,493.9 409.3,492.7 406.4,491.3 404.3,489.9 402.4,488.3 401.1,486.8 400.2,485.3 399.9,484.3 399.7,483.3 399.6,482.3 399.7,481.3 399.9,480.3 400.3,479.3 401.1,477.8 401.8,476.8 402.8,475.7 404.3,474.3 405.8,473.2 407.3,472.1 409.3,471.0 410.8,470.2 414.8,468.7 423.6,465.8 436.8,461.1 440.3,460.1 442.8,459.8 445.3,459.8 452.8,460.3 462.3,460.7 464.8,461.0 467.3,461.6 471.3,463.1 475.8,465.0 478.8,466.5 481.8,468.1 484.3,469.8 486.1,471.3 487.5,472.8 488.2,473.8 488.8,474.8 489.2,475.8 489.4,476.8 489.5,477.8 489.5,478.8 489.3,479.8 489.0,480.8 488.5,481.8 487.9,482.8 486.3,484.8 484.0,486.8 481.3,488.6 478.3,490.2 474.3,492.0 470.8,493.2 466.3,494.5 461.8,495.6 456.8,496.5 452.3,497.1 447.3,497.6 441.8,497.8Z" fill="#b0ccf4" fill-rule="evenodd"/>
<path d="M468.3,448.3 465.8,448.3 458.8,447.4 454.8,447.2 450.8,447.4 443.8,448.4 441.3,448.5 439.8,448.3 438.8,447.9 437.8,447.4 436.8,446.6 435.8,445.5 435.1,444.3 434.3,442.8 433.6,440.8 433.2,439.3 432.9,437.3 432.8,435.3 432.8,433.3 433.1,431.3 433.4,429.8 433.8,428.3 434.6,426.3 435.3,424.8 436.3,423.1 437.3,421.7 438.8,420.0 440.7,418.3 442.3,417.1 444.3,415.9 446.3,414.9 448.3,414.2 450.3,413.6 452.3,413.3 454.8,413.1 457.3,413.2 459.3,413.4 461.3,413.8 463.8,414.6 465.8,415.5 467.8,416.6 469.5,417.8 471.3,419.4 472.8,420.9 474.2,422.8 475.4,424.8 476.3,426.8 477.0,428.8 477.5,431.3 477.7,433.3 477.6,435.8 477.2,438.3 476.5,440.8 475.6,442.8 474.4,444.8 473.1,446.3 471.7,447.3 470.3,448.0 469.3,448.2 468.3,448.3ZM447.3,496.8 442.8,497.0 437.8,497.1 433.3,496.9 428.3,496.5 424.3,496.0 419.8,495.1 415.8,494.1 412.8,493.1 409.8,491.8 407.3,490.5 404.9,488.8 403.4,487.3 402.4,485.8 401.9,484.8 401.6,483.8 401.4,482.8 401.4,481.8 401.6,480.8 401.9,479.8 402.7,478.3 403.8,476.8 404.8,475.7 406.3,474.4 407.8,473.3 409.8,472.0 411.8,470.9 413.8,470.0 419.3,468.1 428.3,465.2 432.3,464.0 435.8,463.1 438.8,462.5 441.8,462.0 444.8,461.7 447.3,461.6 450.8,461.7 459.3,462.1 463.8,462.7 465.8,463.1 468.8,463.9 471.8,464.9 474.8,466.1 477.8,467.4 480.3,468.8 482.3,470.0 483.9,471.3 485.5,472.8 486.6,474.3 487.1,475.3 487.5,476.3 487.7,477.8 487.7,478.8 487.5,479.8 487.2,480.8 486.7,481.8 486.1,482.8 485.3,483.8 483.8,485.3 481.8,486.9 479.3,488.5 476.3,490.1 472.8,491.6 468.8,492.9 465.3,493.9 460.8,495.0 456.8,495.7 451.8,496.4 447.3,496.8Z" fill="#bfd6f6" fill-rule="evenodd"/>
<path d="M467.3,445.9 465.8,446.1 463.8,446.3 454.8,446.0 446.8,446.3 444.8,446.2 443.3,446.1 442.2,445.8 441.0,445.3 439.8,444.5 439.0,443.8 438.3,442.8 437.4,441.3 436.9,439.8 436.4,438.3 436.2,436.8 436.0,435.3 436.0,433.8 436.2,432.3 436.4,430.8 436.8,429.3 437.3,428.0 437.8,426.8 438.6,425.3 439.3,424.3 440.4,422.8 441.8,421.4 443.0,420.3 444.4,419.3 446.3,418.2 448.2,417.3 449.8,416.8 451.8,416.3 453.8,416.0 455.8,415.9 457.8,416.1 459.8,416.4 461.8,417.0 463.8,417.8 465.3,418.6 466.8,419.6 468.3,420.8 469.8,422.3 471.0,423.8 472.0,425.3 473.0,427.3 473.6,428.8 474.1,430.8 474.3,432.8 474.4,434.8 474.1,436.8 473.7,438.8 472.9,440.8 472.1,442.3 470.9,443.8 469.8,444.7 468.8,445.3 467.3,445.9ZM444.3,496.3 439.8,496.4 435.3,496.3 430.8,496.1 426.8,495.6 422.8,495.0 419.3,494.2 415.8,493.2 412.8,492.1 409.9,490.8 407.5,489.3 405.7,487.8 404.4,486.3 403.6,484.8 403.1,483.3 403.1,481.8 403.3,480.8 403.6,479.8 404.1,478.8 405.1,477.3 406.5,475.8 407.8,474.6 409.7,473.3 411.3,472.3 413.3,471.3 415.8,470.2 418.8,469.0 423.3,467.5 428.3,466.0 431.8,465.1 435.8,464.2 439.3,463.6 442.8,463.1 445.8,462.9 448.8,462.8 452.3,462.8 455.8,463.0 458.8,463.2 461.8,463.6 464.3,464.0 466.8,464.6 469.8,465.5 472.8,466.5 475.3,467.5 477.8,468.7 479.8,469.8 481.8,471.2 483.1,472.3 484.4,473.8 485.4,475.3 485.9,476.8 486.0,477.8 486.0,478.8 485.9,479.8 485.5,480.8 484.8,482.3 483.3,484.1 481.5,485.8 479.3,487.4 476.3,489.1 472.8,490.7 469.3,492.0 465.8,493.0 461.8,494.0 457.3,494.9 453.3,495.5 448.8,496.0 444.3,496.3Z" fill="#cfe0f9" fill-rule="evenodd"/>
<path d="M461.3,444.3 457.8,444.5 451.8,444.4 448.8,444.3 446.8,444.1 444.8,443.5 443.5,442.8 442.4,441.8 441.3,440.3 440.8,439.3 440.3,437.8 439.9,435.3 439.9,433.8 440.0,432.3 440.7,429.8 441.8,427.3 442.7,425.8 443.5,424.8 444.4,423.8 445.5,422.8 447.6,421.3 448.8,420.7 450.3,420.0 451.8,419.6 453.3,419.2 454.8,419.1 456.3,419.1 457.8,419.2 459.3,419.5 461.8,420.4 463.3,421.2 464.3,421.8 465.5,422.8 466.5,423.8 467.4,424.8 468.4,426.3 469.1,427.8 469.7,429.3 470.1,430.8 470.4,432.3 470.5,434.3 470.3,435.8 470.0,437.3 469.5,438.8 468.8,440.3 468.1,441.3 467.3,442.1 466.5,442.8 465.6,443.3 464.2,443.8 462.8,444.1 461.3,444.3ZM441.3,495.8 436.8,495.8 432.8,495.6 428.8,495.2 425.3,494.7 421.8,494.1 418.8,493.3 415.8,492.4 413.0,491.3 410.8,490.2 408.6,488.8 406.9,487.3 405.8,485.9 405.0,484.3 404.6,482.8 404.7,481.3 405.1,479.8 405.9,478.3 406.7,477.3 407.8,476.1 409.3,474.8 411.3,473.4 413.2,472.3 415.3,471.3 417.8,470.2 421.3,468.9 425.3,467.7 429.3,466.5 432.8,465.7 435.8,465.1 439.3,464.5 442.8,464.1 446.3,463.8 452.3,463.8 455.8,463.9 458.8,464.2 461.8,464.6 464.3,465.0 466.8,465.6 469.8,466.5 472.8,467.5 475.3,468.6 477.3,469.6 479.3,470.8 480.8,471.9 482.3,473.3 483.1,474.3 484.0,475.8 484.4,477.3 484.5,478.3 484.4,479.3 484.0,480.8 483.5,481.8 482.9,482.8 481.3,484.6 479.2,486.3 476.9,487.8 474.0,489.3 470.8,490.7 466.8,492.0 462.8,493.1 458.8,494.0 454.8,494.7 450.3,495.3 445.8,495.6 441.3,495.8Z" fill="#dfebfb" fill-rule="evenodd"/>
<path d="M458.3,441.9 455.8,442.1 453.3,442.0 451.3,441.8 449.3,441.2 448.4,440.8 447.7,440.3 446.6,439.3 445.6,437.8 445.1,436.3 444.8,434.3 444.8,433.3 445.0,431.8 445.5,429.8 446.5,427.8 447.8,426.0 449.3,424.5 450.3,423.8 451.2,423.3 453.3,422.5 455.3,422.2 457.3,422.3 459.3,422.8 460.3,423.2 461.3,423.7 462.8,424.9 464.1,426.3 465.0,427.8 465.7,429.8 466.0,431.8 466.0,433.3 465.9,434.3 465.4,436.3 465.0,437.3 464.4,438.3 463.8,439.2 463.2,439.8 461.8,440.8 460.3,441.4 458.3,441.9ZM448.8,494.8 444.8,495.1 440.3,495.2 435.8,495.2 431.8,494.9 427.8,494.5 424.3,493.9 420.8,493.1 417.3,492.1 414.3,491.0 412.0,489.8 409.7,488.3 408.0,486.8 406.9,485.3 406.3,483.8 406.1,482.3 406.1,481.3 406.4,480.3 407.1,478.8 407.8,477.8 408.8,476.6 410.2,475.3 411.8,474.1 413.8,472.9 416.0,471.8 418.3,470.8 421.3,469.7 424.8,468.5 428.3,467.5 431.8,466.6 434.8,466.0 438.3,465.4 441.8,465.0 445.3,464.7 448.3,464.5 451.8,464.5 457.8,464.9 460.3,465.2 463.3,465.7 468.3,466.9 470.8,467.7 473.3,468.7 475.3,469.6 477.3,470.7 478.9,471.8 480.2,472.8 481.3,474.0 482.2,475.3 482.8,476.8 483.0,478.3 482.9,479.8 482.3,481.3 481.4,482.8 480.1,484.3 478.3,485.8 475.8,487.4 473.3,488.8 470.8,489.9 467.8,491.0 464.3,492.1 460.8,493.0 456.8,493.8 452.8,494.4 448.8,494.8Z" fill="#f0f5fd" fill-rule="evenodd"/>
<path d="M456.8,436.9 455.3,437.0 454.3,436.8 453.3,436.4 452.3,435.8 451.7,435.3 451.0,434.3 450.5,433.3 450.3,432.3 450.3,430.8 450.5,429.8 450.9,428.8 451.5,427.8 452.3,426.9 453.2,426.3 454.3,425.8 455.3,425.6 456.8,425.5 457.8,425.7 458.8,426.2 459.8,426.8 460.3,427.3 461.0,428.3 461.5,429.3 461.7,430.3 461.7,431.3 461.6,432.3 461.2,433.3 460.7,434.3 459.8,435.4 458.8,436.1 457.8,436.6 456.8,436.9ZM448.3,494.3 444.3,494.6 439.8,494.7 435.8,494.6 431.8,494.3 427.8,493.9 424.3,493.3 420.8,492.4 417.8,491.5 415.3,490.5 412.9,489.3 410.7,487.8 409.3,486.5 408.7,485.8 408.1,484.8 407.6,483.3 407.5,481.8 407.8,480.3 408.5,478.8 409.2,477.8 410.3,476.6 411.8,475.3 413.3,474.2 415.3,473.0 417.3,472.0 419.3,471.1 422.3,470.0 425.3,469.0 431.3,467.4 434.8,466.7 437.8,466.2 441.3,465.7 444.3,465.4 450.3,465.2 456.3,465.5 461.8,466.2 464.3,466.7 466.8,467.3 469.3,468.0 471.8,469.0 473.8,469.8 475.6,470.8 477.2,471.8 478.5,472.8 479.8,474.1 480.7,475.3 481.4,476.8 481.6,478.3 481.5,479.8 480.9,481.3 480.0,482.8 478.6,484.3 476.8,485.8 474.5,487.3 471.8,488.7 469.1,489.8 466.3,490.8 462.8,491.9 459.3,492.7 455.8,493.4 451.8,494.0 448.3,494.3Z" fill="#fffefe" fill-rule="evenodd"/>
<path d="M447.8,493.8 443.8,494.1 439.8,494.2 435.8,494.1 432.3,493.8 428.8,493.4 425.2,492.8 421.8,492.0 418.8,491.1 416.3,490.1 413.8,488.8 412.3,487.8 410.6,486.3 409.6,484.8 409.0,483.3 408.9,481.8 409.2,480.3 409.8,479.0 410.6,477.8 411.8,476.5 413.2,475.3 414.7,474.3 416.4,473.3 418.4,472.3 420.7,471.3 423.4,470.3 426.3,469.4 429.3,468.5 432.3,467.8 435.8,467.1 438.8,466.7 444.8,466.1 450.8,465.9 456.3,466.2 459.3,466.5 461.8,466.9 464.3,467.4 466.8,468.1 469.1,468.8 471.3,469.6 473.3,470.5 474.8,471.4 476.3,472.3 477.5,473.3 478.5,474.3 479.5,475.8 480.1,477.3 480.2,478.8 480.0,480.3 479.3,481.8 478.6,482.8 477.2,484.3 475.3,485.8 473.3,487.1 470.9,488.3 468.3,489.4 465.3,490.5 462.3,491.4 458.8,492.2 455.3,492.9 451.8,493.4 447.8,493.8Z" fill="#fdf3f3" fill-rule="evenodd"/>
<path d="M447.8,493.3 444.3,493.5 440.3,493.6 436.3,493.5 432.8,493.3 429.3,492.9 425.8,492.3 422.8,491.6 419.8,490.7 417.3,489.7 414.8,488.4 413.2,487.3 411.8,485.9 411.0,484.8 410.4,483.3 410.2,481.8 410.5,480.3 411.3,478.8 412.0,477.8 412.9,476.8 414.1,475.8 415.4,474.8 417.1,473.8 419.0,472.8 421.3,471.8 423.8,470.8 426.8,469.8 432.3,468.4 438.3,467.3 444.3,466.7 449.8,466.5 455.3,466.7 460.3,467.3 462.8,467.8 465.3,468.4 467.8,469.1 469.7,469.8 471.8,470.7 473.3,471.5 474.8,472.4 476.3,473.6 477.4,474.8 478.1,475.8 478.6,476.8 478.9,478.3 478.8,479.8 478.2,481.3 477.2,482.8 475.8,484.3 474.3,485.5 472.2,486.8 469.8,488.0 467.3,489.1 464.3,490.2 461.3,491.0 458.1,491.8 454.8,492.4 451.3,492.9 447.8,493.3Z" fill="#fce8e8" fill-rule="evenodd"/>
<path d="M447.3,492.8 443.3,493.0 439.8,493.1 436.3,493.0 432.8,492.7 429.3,492.3 426.4,491.8 423.3,491.1 420.8,490.3 418.3,489.3 416.4,488.3 414.8,487.3 413.2,485.8 412.4,484.8 411.8,483.3 411.6,481.8 411.9,480.3 412.6,478.8 413.4,477.8 414.3,476.8 415.5,475.8 416.9,474.8 418.6,473.8 420.6,472.8 422.8,471.9 427.4,470.3 432.8,468.9 438.3,467.9 444.3,467.3 449.8,467.1 454.8,467.3 459.8,467.9 464.3,468.8 466.8,469.6 468.8,470.3 472.1,471.8 473.7,472.8 474.9,473.8 475.9,474.8 476.7,475.8 477.2,476.8 477.5,478.3 477.4,479.8 476.8,481.3 475.8,482.8 474.9,483.8 473.3,485.1 471.5,486.3 469.3,487.5 466.8,488.6 463.8,489.7 460.8,490.6 457.7,491.3 454.3,492.0 450.8,492.5 447.3,492.8Z" fill="#fadddd" fill-rule="evenodd"/>
<path d="M446.8,492.3 443.3,492.5 439.8,492.6 436.3,492.4 433.3,492.2 429.9,491.8 427.1,491.3 424.3,490.6 421.6,489.8 419.1,488.8 417.3,487.8 415.8,486.8 414.7,485.8 413.8,484.6 413.2,483.3 413.0,481.8 413.3,480.3 413.7,479.3 414.4,478.3 415.2,477.3 416.8,475.9 418.5,474.8 419.8,474.0 423.5,472.3 427.8,470.8 433.3,469.4 438.8,468.4 444.3,467.9 449.8,467.7 454.8,467.9 459.8,468.6 464.3,469.6 468.0,470.8 469.8,471.6 471.3,472.4 472.7,473.3 473.9,474.3 474.8,475.3 475.5,476.3 475.9,477.3 476.2,478.8 475.9,480.3 475.5,481.3 474.4,482.8 473.5,483.8 471.8,485.1 470.0,486.3 468.0,487.3 465.7,488.3 462.9,489.3 459.8,490.2 456.8,490.9 453.3,491.6 450.3,492.0 446.8,492.3Z" fill="#f8d0d1" fill-rule="evenodd"/>
<path d="M446.3,491.8 442.8,492.0 439.8,492.0 436.3,491.9 433.3,491.6 430.7,491.3 427.8,490.8 425.3,490.2 422.4,489.3 420.0,488.3 418.3,487.3 416.9,486.3 415.8,485.3 415.1,484.3 414.5,482.8 414.4,481.8 414.7,480.3 415.1,479.3 415.8,478.3 416.7,477.3 417.8,476.3 419.2,475.3 420.9,474.3 424.3,472.7 428.8,471.2 433.8,469.9 438.8,469.0 444.3,468.4 449.3,468.3 453.8,468.5 458.3,469.0 462.8,469.9 465.3,470.6 467.1,471.3 468.8,472.0 470.2,472.8 472.3,474.3 473.3,475.3 474.0,476.3 474.5,477.3 474.7,478.8 474.5,480.3 474.1,481.3 473.0,482.8 472.0,483.8 470.3,485.1 468.3,486.3 466.3,487.3 463.8,488.3 461.3,489.1 458.8,489.8 455.8,490.5 452.8,491.1 449.8,491.5 446.3,491.8Z" fill="#f6c3c5" fill-rule="evenodd"/>
<path d="M445.3,491.3 439.3,491.4 436.3,491.3 433.3,491.0 430.8,490.7 428.3,490.2 425.8,489.6 423.4,488.8 421.0,487.8 419.3,486.8 418.0,485.8 417.0,484.8 416.4,483.8 416.0,482.8 415.9,481.8 416.2,480.3 416.6,479.3 417.3,478.3 418.2,477.3 419.4,476.3 420.9,475.3 422.3,474.5 425.8,472.9 430.3,471.4 434.8,470.3 439.3,469.5 444.3,469.0 449.3,468.9 453.8,469.1 458.3,469.6 462.3,470.5 464.3,471.1 466.2,471.8 467.8,472.5 469.2,473.3 471.2,474.8 472.1,475.8 472.8,476.8 473.1,477.8 473.2,479.3 472.8,480.8 472.3,481.8 471.3,483.0 469.8,484.3 468.4,485.3 466.8,486.2 464.4,487.3 462.3,488.1 460.2,488.8 457.3,489.6 454.3,490.2 451.3,490.7 445.3,491.3Z" fill="#f4b6b8" fill-rule="evenodd"/>
<path d="M442.8,490.8 437.3,490.7 434.3,490.5 431.8,490.1 429.8,489.8 427.3,489.2 425.3,488.6 423.2,487.8 421.8,487.1 420.5,486.3 419.2,485.3 418.4,484.3 417.8,483.3 417.5,482.3 417.5,481.3 417.9,479.8 418.5,478.8 419.3,477.8 421.1,476.3 423.5,474.8 426.8,473.3 431.3,471.8 435.5,470.8 440.3,470.0 444.8,469.6 449.3,469.5 453.8,469.7 458.1,470.3 461.8,471.1 465.2,472.3 467.8,473.6 468.8,474.3 470.0,475.3 470.8,476.2 471.1,476.8 471.6,477.8 471.7,478.3 471.7,479.3 471.3,480.8 470.7,481.8 469.4,483.3 468.2,484.3 466.6,485.3 464.8,486.3 462.4,487.3 460.3,488.0 457.7,488.8 454.8,489.5 449.3,490.4 445.8,490.7 442.8,490.8Z" fill="#f1a9ac" fill-rule="evenodd"/>
<path d="M448.3,489.8 445.3,490.1 442.3,490.2 439.3,490.1 436.8,490.0 434.3,489.8 431.3,489.3 429.0,488.8 426.8,488.2 424.8,487.4 423.5,486.8 421.8,485.8 420.7,484.8 419.9,483.8 419.4,482.8 419.2,481.8 419.3,480.8 419.4,480.3 419.9,479.3 420.6,478.3 422.2,476.8 424.5,475.3 427.7,473.8 431.3,472.5 435.3,471.5 439.4,470.8 444.1,470.3 448.3,470.2 452.3,470.3 456.3,470.7 459.8,471.4 462.8,472.3 464.3,472.9 466.0,473.8 467.3,474.6 468.1,475.3 468.8,476.0 469.4,476.8 469.9,477.8 470.0,478.8 470.0,479.8 469.6,480.8 469.0,481.8 468.2,482.8 467.0,483.8 465.6,484.8 462.7,486.3 460.3,487.2 458.3,487.9 453.8,489.0 451.3,489.4 448.3,489.8Z" fill="#f09ea1" fill-rule="evenodd"/>
<path d="M445.3,489.3 440.3,489.4 437.8,489.3 435.3,489.1 433.2,488.8 430.8,488.3 427.3,487.3 425.8,486.7 424.1,485.8 423.3,485.2 422.3,484.3 421.6,483.3 421.2,482.3 421.1,481.3 421.2,480.3 421.7,479.3 422.1,478.8 423.5,477.3 425.7,475.8 428.8,474.3 431.8,473.2 435.8,472.2 440.3,471.4 444.3,471.0 448.3,470.9 452.3,471.0 456.3,471.6 459.6,472.3 462.6,473.3 464.6,474.3 465.8,475.1 466.6,475.8 467.3,476.6 467.8,477.3 468.1,478.3 468.2,479.3 468.0,480.3 467.5,481.3 466.8,482.3 465.7,483.3 464.3,484.3 463.3,484.9 460.3,486.3 457.8,487.2 455.5,487.8 453.3,488.3 450.5,488.8 445.3,489.3Z" fill="#ee9699" fill-rule="evenodd"/>
<path d="M447.3,488.3 442.3,488.6 437.3,488.4 433.1,487.8 431.0,487.3 429.3,486.8 427.8,486.2 426.1,485.3 425.3,484.8 424.3,483.8 423.8,483.2 423.4,482.3 423.2,481.3 423.4,480.3 423.8,479.4 424.2,478.8 425.7,477.3 428.1,475.8 430.2,474.8 433.0,473.8 436.8,472.8 440.3,472.2 444.0,471.8 447.8,471.7 451.3,471.8 454.8,472.2 457.7,472.8 460.8,473.8 462.8,474.8 464.3,475.8 464.8,476.3 465.6,477.3 465.8,477.8 466.1,478.8 466.0,479.8 465.7,480.8 465.0,481.8 464.1,482.8 461.9,484.3 458.8,485.8 455.7,486.8 451.3,487.8 447.3,488.3Z" fill="#ed8e92" fill-rule="evenodd"/>
<path d="M446.8,487.3 442.3,487.5 438.3,487.4 434.4,486.8 431.3,486.0 429.6,485.3 428.7,484.8 427.8,484.2 426.8,483.3 426.3,482.6 426.0,481.8 425.9,481.3 426.0,480.3 426.3,479.6 426.8,478.8 427.8,477.8 429.2,476.8 430.0,476.3 432.2,475.3 434.8,474.4 437.0,473.8 439.8,473.2 443.3,472.8 446.8,472.6 449.8,472.7 452.3,472.9 455.3,473.4 457.8,474.1 459.8,474.9 461.3,475.8 462.3,476.6 462.9,477.3 463.3,478.0 463.5,478.8 463.5,479.3 463.3,480.3 462.8,481.3 462.4,481.8 461.3,482.8 460.6,483.3 458.9,484.3 457.8,484.8 455.0,485.8 453.2,486.3 450.8,486.8 446.8,487.3Z" fill="#ec868b" fill-rule="evenodd"/>
<path d="M447.3,485.8 443.8,486.0 440.3,486.0 438.6,485.8 436.8,485.5 434.1,484.8 432.8,484.3 431.8,483.8 431.1,483.3 430.3,482.5 429.8,481.8 429.7,481.3 429.6,480.8 429.8,479.8 430.4,478.8 431.5,477.8 433.1,476.8 435.3,475.8 436.8,475.3 439.3,474.7 441.3,474.3 444.3,474.0 446.8,473.9 449.3,474.0 452.2,474.3 454.3,474.7 456.0,475.3 457.8,476.2 458.7,476.8 459.6,477.8 460.0,478.8 460.1,479.3 459.8,480.3 459.3,481.2 458.8,481.7 457.4,482.8 455.5,483.8 452.6,484.8 450.3,485.4 447.3,485.8Z" fill="#ea7e83" fill-rule="evenodd"/>
<path d="M445.8,482.3 444.3,482.3 442.8,482.2 440.8,481.9 439.8,481.6 439.1,481.3 438.3,480.8 437.8,480.3 437.6,479.8 437.6,479.3 437.9,478.8 438.3,478.3 439.1,477.8 440.1,477.3 441.8,476.8 444.9,476.3 447.8,476.3 450.3,476.8 451.6,477.3 452.4,477.8 452.8,478.3 453.0,478.8 453.0,479.3 452.8,479.7 452.3,480.3 451.6,480.8 450.7,481.3 449.2,481.8 447.3,482.2 445.8,482.3Z" fill="#ea797e" fill-rule="evenodd"/>
</g>
<path d="M453.3,506.3 447.3,506.6 440.8,506.6 434.3,506.3 427.8,505.6 421.3,504.6 415.3,503.4 408.8,501.6 403.8,499.9 399.3,498.1 394.8,495.8 391.3,493.5 388.3,490.9 386.1,488.3 384.6,485.8 384.0,484.3 383.6,482.8 383.4,481.3 383.4,479.8 383.5,478.3 383.8,476.3 384.4,474.3 385.0,472.8 386.9,469.3 389.3,465.9 392.2,462.8 395.8,459.7 398.8,457.5 403.8,454.6 405.3,453.5 406.8,451.9 410.3,447.0 411.9,444.3 413.3,441.2 414.3,438.4 417.5,428.3 418.6,425.3 419.7,422.8 421.3,419.8 422.8,417.3 424.6,414.8 426.7,412.3 429.8,409.3 432.8,406.9 436.3,404.7 439.8,402.9 443.8,401.5 447.8,400.5 451.8,399.9 455.8,399.8 460.3,400.1 464.8,401.0 469.3,402.5 471.8,403.6 473.8,404.6 477.8,407.1 479.8,408.6 481.8,410.3 483.3,411.8 485.1,413.8 487.7,417.3 489.4,420.3 490.8,423.3 492.0,426.8 492.9,430.3 493.5,433.3 493.9,436.8 494.5,449.3 494.8,451.8 495.4,454.3 496.3,456.8 497.5,459.3 498.9,461.8 502.4,467.3 504.0,470.3 504.9,472.3 505.3,473.8 505.6,475.8 505.7,477.3 505.4,479.8 504.6,482.3 503.4,484.8 501.6,487.3 499.3,489.8 496.4,492.3 493.3,494.5 489.8,496.6 486.3,498.4 482.3,500.1 477.8,501.7 473.3,503.0 468.8,504.1 463.8,505.1 458.8,505.8 453.3,506.3ZM416.8,462.3 418.3,461.8 419.1,461.3 419.8,460.6 420.2,459.8 420.3,459.3 420.1,458.3 419.4,457.3 418.8,456.8 417.8,456.2 416.3,455.5 414.8,455.2 413.3,455.0 411.8,455.0 410.3,455.3 409.3,455.7 408.6,456.3 408.1,457.3 408.0,457.8 408.2,458.8 408.6,459.8 409.0,460.3 410.1,461.3 411.8,462.1 413.3,462.5 415.3,462.5 416.8,462.3Z" fill="none" stroke="#7a8a9a" stroke-opacity="0.45" stroke-width="0.5"/>
<path d="M449.8,499.3 444.8,499.6 439.8,499.8 434.8,499.7 429.8,499.4 425.3,498.9 419.8,498.1 415.3,497.1 411.3,496.0 407.3,494.6 404.3,493.2 401.3,491.5 399.1,489.8 397.2,487.8 395.9,485.8 395.3,483.8 395.1,481.8 395.4,480.3 395.9,478.8 396.4,477.8 397.4,476.3 398.7,474.8 400.2,473.3 401.8,472.0 403.8,470.6 406.3,469.1 409.3,467.9 411.8,467.2 418.3,465.6 422.0,464.3 424.1,463.3 425.7,462.3 426.9,461.3 427.7,460.3 427.9,459.8 428.2,458.8 428.1,457.3 427.6,455.8 425.2,450.8 424.7,449.3 424.3,447.3 424.0,444.3 423.8,440.8 423.8,437.8 423.9,435.3 424.2,432.8 424.7,430.3 425.4,427.8 426.2,425.3 427.4,422.8 428.5,420.8 429.8,418.8 431.3,416.9 433.8,414.2 436.8,411.8 439.8,409.9 443.3,408.2 446.8,407.0 450.8,406.2 454.3,405.9 458.3,406.0 462.3,406.6 466.3,407.8 469.8,409.3 473.3,411.3 476.3,413.6 479.0,416.3 481.4,419.3 483.3,422.6 484.8,426.3 485.4,428.3 485.8,430.3 486.2,434.3 486.2,436.3 486.0,438.8 485.4,442.3 484.5,445.8 483.0,449.8 479.7,457.3 479.3,458.8 479.3,459.8 479.6,460.8 479.8,461.3 481.1,462.8 482.3,463.8 488.8,468.7 490.5,470.3 491.8,471.8 492.8,473.3 493.5,474.8 494.0,476.8 494.1,478.3 493.7,480.3 493.1,481.8 492.2,483.3 490.5,485.3 488.9,486.8 486.8,488.4 484.3,490.0 481.3,491.6 477.8,493.1 474.3,494.4 470.8,495.5 466.8,496.6 459.3,498.1 453.8,498.9 449.8,499.3ZM458.3,456.8 459.8,456.3 460.7,455.8 461.3,455.3 461.6,454.8 461.8,454.3 461.8,453.8 461.6,453.3 461.3,452.8 460.1,451.8 459.0,451.3 457.3,450.8 455.8,450.6 454.3,450.6 452.7,450.8 451.0,451.3 449.9,451.8 449.3,452.3 448.5,453.3 448.4,453.8 448.5,454.3 448.8,455.0 449.7,455.8 450.8,456.4 452.3,456.8 454.3,457.1 456.3,457.1 458.3,456.8Z" fill="none" stroke="#7a8a9a" stroke-opacity="0.45" stroke-width="0.5"/>
<path d="M468.3,448.8 465.8,448.7 458.8,447.6 454.8,447.4 450.8,447.7 443.3,448.9 440.8,449.0 439.3,448.8 438.3,448.4 437.3,447.9 436.3,447.0 435.3,445.9 434.6,444.8 433.8,443.2 433.1,441.3 432.6,439.3 432.3,437.3 432.2,435.3 432.3,433.3 432.5,431.3 432.9,429.3 433.6,427.3 434.2,425.8 435.9,422.8 437.0,421.3 438.3,419.8 439.9,418.3 441.8,416.8 443.8,415.6 445.8,414.6 447.8,413.8 450.3,413.1 452.3,412.8 454.8,412.6 457.3,412.7 459.8,413.0 462.3,413.6 464.3,414.3 466.3,415.2 468.3,416.3 470.3,417.8 471.8,419.1 473.4,420.8 474.9,422.8 476.0,424.8 476.9,426.8 477.6,428.8 478.1,431.3 478.3,433.8 478.1,436.3 477.7,438.8 476.9,441.3 476.0,443.3 474.7,445.3 473.3,446.9 471.8,447.9 470.3,448.5 468.3,448.8ZM448.8,496.8 443.8,497.1 438.8,497.2 433.8,497.1 429.3,496.7 424.8,496.2 420.8,495.5 416.8,494.5 413.3,493.4 409.8,492.0 407.3,490.7 404.8,489.0 403.1,487.3 402.0,485.8 401.6,484.8 401.3,483.8 401.1,482.8 401.1,481.8 401.6,479.8 402.1,478.8 403.0,477.3 404.3,475.8 405.8,474.5 407.4,473.3 409.3,472.1 413.3,470.1 418.8,468.1 428.3,465.0 432.8,463.6 439.3,462.1 444.3,461.5 450.3,461.4 459.8,461.9 464.3,462.5 468.3,463.5 471.8,464.7 475.3,466.0 477.8,467.2 480.3,468.5 482.4,469.8 484.3,471.3 485.8,472.8 486.9,474.3 487.6,475.8 488.0,477.8 487.9,479.3 487.3,481.3 486.0,483.3 484.7,484.8 482.3,486.8 479.8,488.4 476.8,490.0 473.3,491.5 469.3,492.9 465.8,494.0 461.8,494.9 457.8,495.7 452.8,496.4 448.8,496.8Z" fill="none" stroke="#7a8a9a" stroke-opacity="0.45" stroke-width="0.5"/>
<path d="M456.3,433.8 455.5,433.8 454.8,433.6 453.8,432.9 453.3,432.3 453.1,431.8 452.9,430.8 453.1,429.8 453.3,429.3 453.8,428.6 454.8,427.9 455.3,427.7 456.3,427.6 457.3,427.8 458.3,428.4 459.0,429.3 459.3,430.2 459.3,430.8 459.1,431.8 458.8,432.4 458.3,433.0 457.3,433.6 456.3,433.8ZM444.8,494.3 440.8,494.4 436.8,494.4 432.8,494.2 429.3,493.8 425.8,493.3 422.8,492.6 419.7,491.8 416.9,490.8 414.6,489.8 412.3,488.5 410.8,487.3 409.4,485.8 408.5,484.3 408.1,482.8 408.2,481.3 408.6,479.8 409.5,478.3 410.3,477.3 411.8,475.8 413.1,474.8 416.4,472.8 421.0,470.8 426.8,468.9 432.8,467.4 439.3,466.2 445.8,465.6 451.8,465.6 457.3,465.9 462.8,466.7 467.8,467.9 472.3,469.6 475.8,471.4 477.2,472.3 478.4,473.3 479.3,474.3 480.3,475.8 480.9,477.3 481.0,478.8 480.7,480.3 480.0,481.8 478.9,483.3 477.4,484.8 475.4,486.3 472.8,487.8 469.8,489.2 466.9,490.3 463.8,491.3 460.3,492.2 456.8,492.9 452.8,493.6 448.8,494.0 444.8,494.3Z" fill="none" stroke="#7a8a9a" stroke-opacity="0.45" stroke-width="0.5"/>
</g>
<clipPath id="mj"><rect x="533.30" y="371.50" width="146.10" height="174.70"/></clipPath>
<g clip-path="url(#mj)">
<rect x="530.3" y="368.5" width="152.1" height="180.7" fill="#6b9be9"/>
<g filter="url(#mblur)">
<path d="M643.8,523.5 637.3,523.7 630.8,523.7 623.3,523.4 615.8,522.8 607.3,521.9 599.3,520.9 591.3,519.7 582.8,518.2 575.3,516.7 566.8,514.7 559.3,512.8 553.3,511.1 547.3,509.1 540.8,506.8 535.3,504.5 530.3,502.1 530.3,450.5 538.2,444.5 541.1,442.0 543.2,440.0 545.3,437.6 546.9,435.5 548.3,433.3 549.4,431.0 550.0,429.5 550.6,427.5 551.4,423.5 551.9,419.5 552.7,409.0 553.3,403.5 554.2,398.0 555.4,392.0 557.1,386.0 559.1,380.0 561.5,374.0 564.2,368.5 682.3,368.5 682.3,516.1 676.8,517.8 671.8,519.1 666.8,520.3 662.3,521.3 657.3,522.1 652.8,522.7 648.3,523.2 643.8,523.5Z" fill="#6e9eea" fill-rule="evenodd"/>
<path d="M637.3,515.0 629.3,515.0 620.8,514.6 611.8,513.8 602.8,512.7 593.8,511.3 584.8,509.6 575.8,507.6 567.3,505.3 560.8,503.2 554.3,500.8 548.8,498.3 546.2,497.0 543.5,495.5 541.0,494.0 538.9,492.5 536.9,491.0 535.2,489.5 533.6,488.0 532.3,486.5 531.2,485.0 530.3,483.5 530.3,471.7 531.3,470.0 532.7,468.0 533.9,466.5 535.8,464.5 539.8,460.8 544.3,457.1 555.3,448.5 558.3,446.0 560.5,444.0 562.4,442.0 564.3,439.7 565.7,437.5 566.7,435.5 567.3,434.0 567.9,432.0 568.3,430.0 568.6,428.0 569.0,424.0 569.6,412.0 570.0,406.0 570.8,400.0 572.0,394.0 573.7,387.5 574.7,384.5 576.0,381.0 578.5,375.0 580.0,372.0 582.0,368.5 682.3,368.5 682.3,506.8 676.8,508.6 671.3,510.2 665.8,511.6 660.3,512.8 654.8,513.7 649.3,514.3 643.3,514.8 637.3,515.0Z" fill="#71a0ea" fill-rule="evenodd"/>
<path d="M644.8,509.0 637.3,509.4 629.3,509.4 621.3,509.0 612.8,508.3 604.3,507.2 595.8,505.8 587.8,504.1 579.8,502.1 572.8,500.0 566.3,497.7 559.8,494.9 554.3,492.1 551.8,490.6 549.3,489.0 547.3,487.5 545.5,486.0 544.0,484.5 542.8,483.0 541.9,481.5 541.5,480.5 541.1,479.0 541.0,478.0 541.0,477.0 541.3,475.5 541.7,474.5 542.4,473.0 543.1,472.0 544.2,470.5 546.1,468.5 548.2,466.5 559.8,456.6 566.3,450.6 569.3,447.6 571.7,445.0 573.3,443.0 574.7,441.0 575.5,439.5 576.3,438.0 576.8,436.5 577.2,435.0 577.8,431.8 578.4,425.5 578.7,423.5 579.2,421.5 580.1,420.0 580.8,419.2 581.8,418.6 582.8,418.2 585.3,417.5 586.8,416.9 588.0,416.0 588.7,415.0 589.0,414.0 588.9,413.0 588.5,412.0 587.8,411.3 587.3,410.9 586.3,410.3 582.3,408.7 581.3,408.0 580.8,407.4 580.3,406.5 579.9,405.0 579.7,403.5 579.7,401.5 580.2,398.0 581.2,393.5 582.4,389.0 584.0,384.5 585.9,380.0 587.8,376.0 590.1,372.0 592.4,368.5 682.3,368.5 682.3,499.9 677.8,501.8 673.3,503.4 668.8,504.8 664.3,506.0 659.8,507.0 654.8,507.8 649.8,508.5 644.8,509.0Z" fill="#74a2eb" fill-rule="evenodd"/>
<path d="M644.3,504.5 637.8,504.9 630.8,505.0 623.8,504.7 616.3,504.2 608.8,503.3 601.8,502.2 594.8,500.8 587.8,499.1 579.8,496.8 572.3,494.2 565.8,491.7 560.3,489.1 557.8,487.8 555.8,486.6 554.3,485.5 552.8,484.3 551.5,483.0 550.7,482.0 550.0,481.0 549.4,479.5 549.2,478.0 549.2,477.0 549.4,476.0 550.1,474.5 550.7,473.5 551.5,472.5 552.9,471.0 554.7,469.5 556.8,467.9 564.3,462.5 566.7,460.5 568.8,458.5 571.8,455.1 578.7,446.5 580.8,443.5 582.5,440.5 583.5,438.0 584.1,435.5 584.5,433.0 584.9,427.5 585.2,426.0 585.5,425.0 586.2,423.5 586.9,422.5 589.8,419.5 591.3,417.7 592.2,416.0 592.5,415.0 592.6,414.0 592.7,413.0 592.5,412.0 592.2,411.0 591.8,410.3 590.8,408.8 588.4,406.0 587.6,405.0 587.1,404.0 586.7,403.0 586.4,401.5 586.4,399.5 586.7,397.5 587.3,395.0 588.3,391.5 589.5,388.0 590.9,384.5 592.5,381.0 594.4,377.5 596.2,374.5 598.3,371.5 600.7,368.5 676.2,368.5 677.7,371.5 679.1,374.5 680.5,378.0 681.5,381.0 682.3,383.7 682.3,494.5 670.8,498.9 666.8,500.3 662.8,501.4 658.3,502.5 653.8,503.3 649.3,504.0 644.3,504.5ZM674.1,453.5 675.0,453.0 675.6,452.5 675.8,452.0 675.9,451.5 675.6,451.0 675.0,450.5 673.8,450.1 672.8,450.0 671.8,449.9 670.8,450.1 669.8,450.3 669.2,450.5 668.3,451.0 667.9,451.5 667.7,452.0 667.7,452.5 668.1,453.0 668.9,453.5 669.8,453.8 670.8,453.9 671.8,454.0 672.8,453.8 674.1,453.5ZM604.3,455.0 605.8,454.9 607.4,454.5 608.4,454.0 608.9,453.5 609.0,453.0 608.7,452.5 607.9,452.0 607.3,451.8 605.8,451.4 604.3,451.2 602.8,451.2 601.2,451.5 600.0,452.0 599.4,452.5 599.2,453.0 599.4,453.5 599.8,454.0 600.3,454.2 600.8,454.5 602.3,454.9 604.3,455.0Z" fill="#77a5eb" fill-rule="evenodd"/>
<path d="M632.8,501.0 626.3,500.9 619.8,500.6 612.8,499.9 605.8,498.9 599.3,497.7 591.8,496.1 584.3,494.2 577.3,492.2 571.3,490.2 566.8,488.4 562.8,486.4 559.7,484.5 558.4,483.5 557.3,482.5 556.5,481.5 555.8,480.5 555.4,479.5 555.2,478.5 555.1,477.5 555.3,476.5 555.7,475.5 556.6,474.0 557.9,472.5 559.3,471.3 560.8,470.2 562.8,468.9 571.8,463.5 573.9,462.0 576.0,460.0 578.0,457.5 583.0,450.0 586.3,444.7 587.7,442.0 588.8,439.3 589.5,436.5 589.8,434.0 590.1,428.0 590.5,425.5 591.0,424.0 591.5,423.0 593.4,419.5 594.4,417.5 595.1,415.5 595.5,413.5 595.5,411.5 595.1,410.0 594.5,408.5 592.6,405.0 592.0,403.5 591.8,402.5 591.6,401.0 591.7,399.5 592.0,397.5 592.6,395.0 593.7,391.5 595.3,387.5 596.9,384.0 598.9,380.5 601.2,377.0 603.3,374.2 605.8,371.3 608.3,368.8 608.6,368.5 671.6,368.5 673.4,371.5 675.0,374.5 676.5,378.0 677.6,381.0 678.9,385.0 679.9,389.0 680.9,393.5 681.5,397.5 682.0,401.5 682.3,405.8 682.3,418.8 682.1,425.0 682.3,435.0 682.0,443.0 681.8,444.5 681.4,445.5 680.8,446.4 680.1,447.0 679.3,447.3 678.3,447.6 672.3,448.2 670.3,448.6 668.8,449.0 667.3,449.7 666.1,450.5 665.6,451.0 665.3,451.5 665.2,452.0 665.2,452.5 665.4,453.0 665.7,453.5 666.2,454.0 667.0,454.5 668.8,455.2 670.8,455.6 672.3,455.7 674.3,455.7 676.3,455.5 680.3,454.8 681.3,454.7 682.3,454.8 682.3,491.3 677.3,492.8 671.3,494.3 665.8,495.2 663.3,495.5 661.3,495.6 660.3,495.5 659.3,495.3 657.8,494.0 657.0,493.5 655.8,493.0 654.3,492.5 652.0,492.0 647.8,491.5 644.8,491.4 641.8,491.5 638.3,492.0 636.4,492.5 635.4,493.0 634.8,493.5 634.8,494.0 635.1,494.5 636.0,495.0 637.3,495.5 639.3,495.9 641.8,496.3 645.3,496.6 653.8,497.0 654.2,497.0 654.5,497.5 653.7,498.0 652.5,498.5 650.9,499.0 648.7,499.5 646.0,500.0 639.8,500.7 632.8,501.0ZM604.2,456.0 606.8,455.7 607.9,455.5 609.4,455.0 610.4,454.5 611.1,454.0 611.4,453.5 611.5,453.0 611.2,452.5 610.7,452.0 609.9,451.5 608.6,451.0 606.3,450.4 603.3,450.1 600.8,450.2 599.3,450.5 598.3,450.7 597.5,451.0 596.6,451.5 596.0,452.0 595.7,452.5 595.6,453.0 595.8,453.5 596.2,454.0 596.8,454.5 597.8,455.0 599.2,455.5 600.8,455.8 602.3,456.0 604.2,456.0Z" fill="#7aa7ec" fill-rule="evenodd"/>
<path d="M624.3,496.5 622.8,496.8 620.8,496.9 616.3,496.9 610.3,496.5 604.3,495.7 597.8,494.7 590.3,493.2 583.8,491.6 577.3,489.8 572.8,488.2 569.3,486.8 566.3,485.3 563.5,483.5 561.8,482.0 561.0,481.0 560.4,480.0 559.9,478.5 559.9,477.5 560.0,476.5 560.5,475.5 561.5,474.0 562.5,473.0 563.8,471.9 565.8,470.5 567.8,469.3 576.2,465.0 579.7,463.0 581.1,462.0 582.2,461.0 583.2,460.0 585.3,457.4 586.3,456.4 587.3,455.6 588.3,455.1 589.3,454.9 590.3,454.8 591.8,455.1 595.8,456.2 598.3,456.6 601.3,456.9 604.3,456.9 607.3,456.5 610.3,455.7 612.1,455.0 613.0,454.5 613.6,454.0 613.9,453.5 614.0,453.0 613.7,452.5 613.1,452.0 611.4,451.0 608.8,450.1 605.8,449.4 602.8,449.1 599.3,449.0 594.3,449.2 592.8,449.1 592.3,449.0 591.6,448.5 591.3,448.0 591.2,447.0 591.4,445.5 593.2,441.0 593.9,438.5 594.3,435.5 594.5,428.0 594.8,425.0 595.6,422.0 597.3,417.3 598.8,414.0 599.3,413.2 599.9,412.5 600.3,412.1 601.3,411.6 604.3,411.0 605.3,410.6 606.0,410.0 606.3,409.5 606.5,409.0 606.5,408.5 606.3,407.9 606.0,407.5 605.3,406.9 604.3,406.5 603.8,406.4 600.8,406.3 599.8,406.1 598.8,405.6 597.8,404.6 597.3,403.8 597.0,403.0 596.7,402.0 596.5,401.0 596.5,400.0 596.6,398.5 597.1,396.0 597.9,393.5 599.0,390.5 600.4,387.5 602.0,384.5 603.8,381.7 605.8,379.0 607.8,376.6 609.7,374.5 611.3,373.0 613.3,371.3 615.3,369.8 617.2,368.5 667.5,368.5 669.3,370.7 671.1,373.5 672.8,376.5 674.1,379.5 675.5,383.0 676.6,386.5 677.6,390.5 678.4,394.5 679.1,398.5 679.5,402.0 679.7,405.5 679.9,409.0 679.9,415.0 679.4,425.0 679.4,434.0 679.1,437.5 678.5,441.0 678.1,442.5 677.6,443.5 677.3,444.0 676.2,445.0 674.8,445.8 672.9,446.5 668.3,448.0 665.8,449.2 664.6,450.0 663.8,451.0 663.5,451.5 663.4,452.5 663.7,453.5 664.5,454.5 665.8,455.4 667.3,456.1 668.8,456.6 670.8,457.1 676.8,458.1 677.8,458.4 678.8,458.8 679.8,459.5 680.4,460.0 682.3,462.4 682.3,489.2 678.8,490.3 674.8,491.3 671.3,491.8 667.3,492.2 665.3,492.2 662.8,492.1 652.5,491.0 648.3,490.7 643.3,490.7 638.8,491.0 635.5,491.5 633.3,492.0 631.7,492.5 629.5,493.5 628.7,494.0 627.3,495.2 626.3,495.9 625.3,496.3 624.3,496.5ZM633.2,375.0 633.4,374.5 633.4,374.0 633.2,373.5 632.8,373.2 632.3,373.0 631.8,373.2 631.4,373.5 631.2,374.0 631.2,374.5 631.5,375.0 631.8,375.3 632.3,375.4 632.8,375.3 633.2,375.0Z" fill="#83adee" fill-rule="evenodd"/>
<path d="M614.8,494.5 610.8,494.4 606.8,494.1 601.3,493.4 596.8,492.7 591.8,491.7 585.8,490.4 581.3,489.2 576.8,487.7 573.6,486.5 570.8,485.2 568.6,484.0 566.5,482.5 565.0,481.0 564.1,479.5 563.9,479.0 563.8,478.0 563.9,477.0 564.0,476.5 564.5,475.5 565.6,474.0 566.8,472.9 568.8,471.5 570.8,470.3 572.8,469.2 582.0,465.0 585.0,463.5 587.3,462.0 590.3,459.6 591.8,458.8 593.3,458.4 594.8,458.1 602.8,457.9 605.3,457.7 607.8,457.3 610.3,456.7 612.3,456.0 618.3,453.6 618.9,453.5 619.1,453.0 618.3,452.8 614.0,451.0 610.3,449.6 606.8,448.7 600.6,447.5 598.7,447.0 597.7,446.5 597.2,446.0 596.9,445.5 596.8,445.0 596.8,444.5 597.0,443.5 598.0,440.0 598.3,438.0 598.5,435.0 598.5,428.0 598.6,425.0 599.0,422.0 599.7,419.5 600.7,417.5 601.3,416.6 601.9,416.0 603.3,415.1 606.8,413.3 608.3,412.1 608.8,411.5 609.3,410.5 609.7,409.0 609.7,408.0 609.4,407.0 608.9,406.0 608.3,405.2 606.8,403.9 603.3,401.6 602.3,400.5 601.8,399.5 601.6,398.5 601.6,397.5 601.7,396.0 602.1,394.5 602.8,392.5 603.8,390.4 605.1,388.0 606.3,386.0 607.8,383.8 609.3,381.9 610.8,380.2 613.8,377.2 616.8,374.8 618.3,373.8 619.8,372.9 621.3,372.2 622.3,371.9 623.8,371.7 624.9,372.0 625.3,372.3 625.8,372.8 627.4,375.5 628.1,376.5 628.8,377.2 629.8,377.9 630.8,378.3 631.8,378.5 632.8,378.5 634.3,378.1 635.2,377.5 636.2,376.5 636.8,375.5 637.2,374.5 637.4,373.5 637.5,369.5 637.6,369.0 637.9,368.5 646.4,368.5 646.7,369.0 646.8,369.5 646.3,372.5 646.5,374.0 647.0,375.0 647.4,375.5 648.3,376.1 649.3,376.2 650.3,376.0 651.0,375.5 651.5,375.0 652.0,374.0 652.1,373.0 652.1,372.0 651.8,370.7 651.4,369.5 651.3,369.0 651.4,368.5 662.8,368.5 664.8,370.0 666.3,371.4 667.8,373.1 669.2,375.0 670.4,377.0 671.7,379.5 673.0,382.5 673.9,385.0 674.9,388.0 675.7,391.0 676.4,394.5 677.0,398.0 677.5,401.5 677.8,405.0 677.9,408.5 678.0,412.5 677.9,416.5 677.4,425.0 677.3,431.5 677.2,434.0 676.6,438.0 676.1,440.0 675.6,441.5 675.1,442.5 674.4,443.5 673.8,444.0 672.8,444.8 670.8,445.8 665.8,448.0 664.3,448.9 663.5,449.5 662.8,450.1 662.2,451.0 661.8,452.0 661.9,453.0 662.3,454.0 662.6,454.5 663.3,455.2 664.3,456.0 665.3,456.6 666.8,457.3 672.7,459.5 674.7,460.5 676.1,461.5 679.6,464.5 682.3,466.4 682.3,487.5 678.8,488.7 675.3,489.6 672.3,490.2 669.3,490.6 666.3,490.8 663.3,490.9 648.3,490.1 643.8,490.1 639.8,490.3 635.3,490.8 631.3,491.5 622.8,493.7 620.8,494.1 618.3,494.4 614.8,494.5ZM628.1,454.0 628.7,453.5 628.7,453.0 628.0,452.5 626.3,452.1 625.3,452.1 623.8,452.2 621.8,452.5 620.8,452.8 619.8,453.0 619.9,453.5 621.8,454.0 623.8,454.3 625.3,454.5 626.3,454.4 627.3,454.3 628.1,454.0Z" fill="#8cb4ef" fill-rule="evenodd"/>
<path d="M614.8,493.0 610.8,492.9 606.8,492.7 602.3,492.2 596.8,491.3 591.8,490.4 587.3,489.3 583.3,488.3 579.3,487.0 576.3,485.9 573.4,484.5 571.3,483.3 569.5,482.0 568.5,481.0 567.6,479.5 567.4,479.0 567.2,478.0 567.2,477.5 567.5,476.5 568.3,475.0 569.3,473.9 571.0,472.5 573.5,471.0 577.8,468.9 586.0,465.5 589.4,464.0 591.3,463.0 594.8,461.0 596.3,460.4 597.4,460.0 599.3,459.6 605.3,458.7 608.3,458.1 611.3,457.3 615.3,456.1 617.3,455.7 619.8,455.5 624.8,455.7 627.3,455.6 628.8,455.3 629.9,455.0 630.9,454.5 631.4,454.0 631.7,453.5 631.7,453.0 631.4,452.5 630.8,452.0 629.7,451.5 627.8,451.0 626.3,450.9 624.3,450.9 619.3,451.0 617.8,450.8 616.3,450.5 605.1,447.0 603.8,446.5 602.8,446.0 602.2,445.5 601.8,445.0 601.6,444.5 601.5,444.0 601.5,443.0 602.1,440.0 602.3,438.0 602.4,425.0 602.6,422.5 603.0,421.0 603.6,419.5 604.6,418.0 605.7,417.0 608.8,414.5 610.2,413.0 611.1,411.5 611.5,410.5 611.7,409.5 611.8,408.5 611.7,407.5 611.5,406.5 611.1,405.5 610.6,404.5 609.8,403.4 607.1,400.0 606.4,398.5 606.3,397.5 606.2,396.5 606.4,395.5 606.8,394.0 607.7,392.0 609.1,389.5 610.8,387.0 612.8,384.6 614.8,382.5 617.0,380.5 619.1,379.0 620.8,378.1 622.3,377.6 623.8,377.7 624.8,378.0 627.9,379.5 629.8,380.2 631.8,380.5 633.3,380.4 634.8,380.0 636.3,379.3 638.0,378.0 640.3,375.9 641.3,375.4 641.8,375.4 642.8,375.7 645.4,377.5 646.8,378.2 648.3,378.5 649.8,378.4 650.8,378.1 651.8,377.6 653.1,376.5 654.2,375.0 655.8,372.3 656.3,371.7 656.8,371.3 657.8,370.8 658.8,370.7 659.8,370.8 661.3,371.2 662.8,372.0 664.3,373.0 665.8,374.4 667.3,376.2 668.8,378.4 670.0,380.5 671.2,383.0 672.4,386.0 673.4,389.0 674.2,392.0 675.0,395.5 675.5,398.5 675.9,402.0 676.2,405.5 676.4,409.0 676.4,412.5 676.3,417.0 675.7,425.0 675.4,433.0 675.2,435.0 674.8,437.0 674.3,439.0 673.7,440.5 673.3,441.5 672.6,442.5 671.8,443.5 671.2,444.0 669.3,445.2 663.9,448.0 662.8,448.7 661.8,449.5 661.3,450.1 660.7,451.0 660.3,452.0 660.3,453.0 660.6,454.0 661.2,455.0 662.1,456.0 663.3,456.9 665.3,458.2 669.6,460.5 671.1,461.5 676.0,465.0 682.3,468.6 682.3,486.0 678.8,487.3 675.3,488.3 671.3,489.2 667.8,489.7 665.3,489.9 662.3,489.9 647.8,489.6 643.8,489.7 639.8,489.8 633.2,490.5 620.3,492.6 617.8,492.9 614.8,493.0ZM640.4,419.5 640.9,419.0 641.1,418.5 641.2,418.0 641.2,417.5 640.8,416.5 640.3,416.1 639.8,415.9 639.3,415.8 638.8,415.9 638.3,416.1 637.8,416.5 637.5,417.0 637.4,417.5 637.4,418.0 637.5,418.5 637.7,419.0 638.3,419.5 638.8,419.7 639.3,419.8 639.8,419.7 640.4,419.5Z" fill="#97bcf1" fill-rule="evenodd"/>
<path d="M621.3,491.5 617.3,491.9 613.3,491.9 609.3,491.8 604.8,491.4 599.8,490.7 594.8,489.8 589.8,488.7 585.8,487.7 581.8,486.5 578.3,485.1 575.8,484.0 573.4,482.5 572.2,481.5 570.9,480.0 570.7,479.5 570.3,478.5 570.3,478.0 570.4,477.0 570.6,476.5 571.1,475.5 572.4,474.0 574.4,472.5 577.0,471.0 581.8,468.8 593.1,464.5 600.8,461.2 603.0,460.5 616.3,457.0 619.3,456.6 625.3,456.7 628.3,456.4 629.8,456.2 631.3,455.7 632.7,455.0 633.3,454.5 633.7,454.0 633.8,453.5 633.8,453.0 633.6,452.5 633.1,452.0 632.5,451.5 631.3,450.9 629.3,450.4 627.3,450.1 625.3,449.9 619.3,449.9 617.3,449.6 615.8,449.3 611.9,448.0 608.3,446.5 606.8,445.5 606.3,445.0 606.0,444.5 605.8,444.0 605.8,443.0 606.2,439.0 606.0,431.0 606.3,424.5 606.6,422.0 607.1,420.5 607.9,419.0 611.2,415.0 612.3,413.3 613.1,411.5 613.6,409.5 613.6,407.5 613.2,405.5 612.7,404.0 611.0,400.0 610.6,398.5 610.6,397.0 610.7,396.0 611.0,395.0 611.7,393.5 612.9,391.5 614.3,389.6 615.8,387.8 617.6,386.0 619.3,384.6 621.3,383.2 622.6,382.5 623.8,382.1 625.3,382.0 630.8,382.5 632.3,382.5 633.8,382.3 634.8,382.1 636.3,381.6 640.3,379.8 641.8,379.4 642.8,379.5 646.8,380.3 648.3,380.3 649.3,380.2 651.3,379.5 652.8,378.7 654.4,377.5 656.8,375.2 657.8,374.5 658.3,374.3 659.3,374.1 660.3,374.1 661.3,374.3 662.8,375.1 664.3,376.2 665.8,377.7 666.9,379.0 668.3,381.1 669.6,383.5 670.7,386.0 671.6,388.5 672.4,391.0 673.2,394.0 673.9,397.5 674.4,400.5 674.7,403.5 675.0,407.0 675.1,410.5 675.0,414.0 673.9,433.0 673.2,436.5 672.3,439.5 671.6,441.0 670.9,442.0 669.5,443.5 667.4,445.0 662.3,447.8 661.3,448.5 660.2,449.5 659.4,450.5 659.0,451.5 658.8,452.5 658.8,453.5 659.2,454.5 659.7,455.5 660.5,456.5 661.3,457.3 663.3,458.9 668.9,463.0 671.2,464.5 672.9,465.5 682.3,470.4 682.3,484.6 679.0,486.0 675.3,487.2 671.3,488.2 667.3,488.8 664.3,489.1 660.8,489.2 646.8,489.2 639.8,489.4 633.0,490.0 621.3,491.5ZM640.3,421.0 641.3,420.4 642.1,419.5 642.3,419.0 642.5,418.0 642.3,416.8 641.8,415.8 641.3,415.2 640.8,414.8 639.8,414.5 638.8,414.4 638.3,414.6 637.3,415.1 636.8,415.6 636.3,416.3 636.0,417.5 636.0,418.5 636.2,419.0 636.8,420.0 637.3,420.5 637.8,420.8 638.8,421.1 639.8,421.1 640.3,421.0Z" fill="#a3c4f3" fill-rule="evenodd"/>
<path d="M617.8,491.0 614.3,491.1 610.3,490.9 606.8,490.6 602.3,490.1 597.8,489.4 593.8,488.6 589.3,487.6 585.3,486.4 582.3,485.4 579.8,484.3 577.3,483.0 575.7,482.0 574.6,481.0 574.2,480.5 573.5,479.5 573.2,478.5 573.1,478.0 573.2,477.0 573.6,476.0 574.0,475.5 575.4,474.0 577.5,472.5 580.3,471.0 582.8,469.8 585.8,468.7 597.7,464.5 605.7,461.5 613.4,459.0 615.3,458.5 617.3,458.0 620.3,457.7 626.8,457.5 628.8,457.3 630.3,457.1 631.8,456.7 633.3,456.1 634.4,455.5 635.0,455.0 635.4,454.5 635.7,454.0 635.8,453.5 635.7,453.0 635.6,452.5 635.2,452.0 634.7,451.5 634.0,451.0 633.1,450.5 630.8,449.7 628.3,449.3 625.8,449.1 619.8,448.8 617.8,448.5 616.3,448.1 614.4,447.5 613.3,447.0 611.6,446.0 610.5,445.0 610.1,444.0 609.9,443.0 610.0,439.5 609.5,433.5 609.5,431.5 609.7,429.5 610.3,423.5 610.8,421.0 611.6,419.0 613.7,415.0 614.4,413.5 615.1,411.5 615.4,410.0 615.6,408.5 615.5,406.5 615.3,405.0 614.7,401.5 614.5,400.0 614.6,398.5 614.9,397.0 615.6,395.5 616.5,394.0 617.7,392.5 619.0,391.0 620.6,389.5 622.3,388.2 623.8,387.2 625.3,386.4 626.8,385.9 628.3,385.6 633.3,385.0 635.3,384.6 641.8,382.9 646.8,382.3 648.8,381.9 650.8,381.3 652.3,380.6 653.8,379.8 656.8,377.8 658.3,377.1 659.8,376.8 661.3,377.1 662.8,377.8 664.3,379.0 665.7,380.5 666.8,382.0 668.0,384.0 669.1,386.0 670.1,388.5 671.0,391.0 671.9,394.0 672.5,397.0 673.1,400.0 673.5,403.0 673.7,406.0 673.9,409.5 673.9,412.5 673.7,416.0 672.4,433.0 671.9,436.0 670.8,439.0 670.1,440.5 669.4,441.5 668.6,442.5 667.8,443.2 666.1,444.5 660.8,447.6 659.6,448.5 658.5,449.5 657.8,450.5 657.3,451.5 657.1,452.5 657.2,454.0 657.5,455.0 658.0,456.0 659.3,457.8 661.8,460.4 664.3,462.5 666.5,464.0 668.3,465.0 678.3,469.8 680.4,471.0 682.3,472.2 682.3,483.0 680.6,484.0 678.8,484.8 674.8,486.3 670.3,487.5 665.8,488.2 662.8,488.5 659.3,488.6 646.3,488.8 639.8,489.0 633.3,489.5 622.3,490.7 617.8,491.0ZM640.7,422.0 641.8,421.4 642.3,420.9 642.9,420.0 643.3,419.0 643.4,418.5 643.4,417.5 643.2,416.5 642.8,415.5 642.5,415.0 641.8,414.2 641.3,413.9 640.8,413.6 639.8,413.3 638.8,413.2 637.8,413.4 636.8,414.0 636.3,414.3 635.4,415.5 635.1,416.0 634.8,417.0 634.8,418.0 634.9,419.0 635.3,420.0 635.8,420.7 636.3,421.2 637.3,421.8 637.8,422.0 638.8,422.2 639.8,422.2 640.7,422.0Z" fill="#b0ccf4" fill-rule="evenodd"/>
<path d="M622.8,490.0 618.8,490.3 614.8,490.3 610.8,490.2 606.8,489.8 602.3,489.3 598.3,488.6 593.8,487.7 589.8,486.7 586.3,485.6 583.2,484.5 580.8,483.4 578.5,482.0 577.3,481.0 576.5,480.0 576.2,479.5 575.8,478.5 575.7,478.0 575.9,477.0 576.3,476.0 577.0,475.0 578.1,474.0 579.5,473.0 581.2,472.0 583.3,471.0 585.8,469.9 588.8,468.8 593.3,467.3 603.9,464.0 613.9,460.5 616.8,459.6 618.3,459.3 620.4,459.0 628.8,458.4 630.8,458.1 632.8,457.6 634.3,457.1 635.5,456.5 636.3,456.0 637.3,455.0 637.6,454.5 637.8,454.0 637.9,453.5 637.7,452.5 637.0,451.5 636.4,451.0 634.8,450.0 632.8,449.3 630.3,448.6 627.3,448.2 620.8,447.6 618.3,447.1 616.8,446.5 616.0,446.0 615.3,445.5 614.9,445.0 614.4,444.0 614.0,440.0 613.0,435.0 612.9,433.5 613.0,431.5 613.3,429.5 614.1,425.5 615.1,419.5 617.1,413.0 617.6,410.5 617.9,408.0 618.2,402.5 618.4,401.0 618.7,400.0 619.3,398.5 619.9,397.5 620.8,396.3 621.8,395.2 623.1,394.0 624.3,393.0 625.8,392.0 627.3,391.2 629.3,390.3 631.3,389.7 633.3,389.2 638.3,388.4 640.3,387.8 642.3,387.0 646.3,385.0 651.3,382.7 655.8,380.4 657.3,379.7 658.3,379.4 659.3,379.3 660.8,379.5 662.1,380.0 663.3,380.8 664.5,382.0 665.8,383.5 667.1,385.5 668.2,387.5 669.2,390.0 670.1,392.5 670.8,395.0 671.5,398.0 672.0,401.0 672.4,404.0 672.6,407.0 672.8,410.5 672.7,413.5 672.6,417.0 671.2,432.5 670.6,435.5 670.1,437.0 669.5,438.5 668.8,439.8 668.0,441.0 667.2,442.0 666.1,443.0 664.0,444.5 658.9,447.5 657.6,448.5 656.6,449.5 655.9,450.5 655.3,452.0 655.1,453.5 655.3,455.0 656.0,457.0 657.2,459.5 658.3,461.0 660.1,462.5 661.6,463.5 664.6,465.0 673.3,468.8 676.8,470.5 679.8,472.2 680.9,473.0 682.1,474.0 682.3,474.2 682.3,481.2 681.3,482.0 679.8,483.0 677.9,484.0 675.5,485.0 673.3,485.8 670.8,486.5 668.3,487.0 665.8,487.5 662.3,487.9 658.3,488.1 644.8,488.4 638.3,488.7 633.8,489.0 622.8,490.0ZM640.9,423.0 641.8,422.6 642.6,422.0 643.3,421.2 643.8,420.4 644.2,419.0 644.3,418.0 644.2,417.0 644.0,416.0 643.6,415.0 642.9,414.0 642.3,413.3 641.3,412.6 640.3,412.2 639.3,412.0 638.3,412.0 637.3,412.3 636.3,412.8 635.3,413.5 634.8,414.1 634.2,415.0 633.8,416.0 633.5,417.0 633.5,418.5 633.7,419.5 634.2,420.5 634.9,421.5 635.8,422.3 636.8,422.8 637.8,423.2 638.8,423.3 639.8,423.3 640.9,423.0Z" fill="#bfd6f6" fill-rule="evenodd"/>
<path d="M622.3,489.5 618.3,489.7 614.8,489.7 610.8,489.5 607.3,489.2 603.3,488.6 598.8,487.9 594.8,487.1 590.8,486.0 587.5,485.0 585.0,484.0 582.8,483.0 580.8,481.7 579.4,480.5 578.7,479.5 578.3,478.5 578.2,478.0 578.4,477.0 578.8,476.0 579.6,475.0 580.7,474.0 582.2,473.0 584.0,472.0 585.8,471.1 590.8,469.2 597.3,467.2 608.9,464.0 618.8,461.1 622.3,460.4 630.8,459.4 634.3,458.7 635.8,458.2 637.5,457.5 638.8,456.7 639.5,456.0 639.9,455.5 640.4,454.5 640.5,453.5 640.3,452.5 639.6,451.5 639.2,451.0 638.3,450.3 637.3,449.7 635.3,448.8 632.3,447.9 629.3,447.3 624.5,446.5 622.4,446.0 621.1,445.5 620.4,445.0 619.9,444.5 619.3,443.5 618.3,440.5 616.9,437.0 616.5,435.5 616.4,434.5 616.3,433.5 616.4,432.0 616.9,430.0 618.6,425.5 619.2,423.5 619.5,421.5 619.8,417.5 620.1,415.0 621.3,408.3 621.9,405.5 622.8,403.2 623.5,402.0 624.2,401.0 625.8,399.3 627.8,397.8 629.3,397.0 631.3,396.2 633.3,395.6 637.8,394.6 639.3,394.1 640.3,393.6 641.3,393.0 642.8,391.8 647.3,387.5 649.2,386.0 651.5,384.5 654.8,382.7 656.8,381.9 658.3,381.5 659.8,381.6 660.8,381.8 662.3,382.6 663.8,383.9 665.3,385.6 666.8,388.0 668.0,390.5 669.0,393.0 669.9,396.0 670.6,399.5 671.1,402.5 671.5,406.0 671.7,409.0 671.7,412.5 671.4,417.5 670.6,425.0 670.1,431.0 669.7,434.0 668.9,436.5 667.7,439.0 666.3,441.0 664.8,442.4 663.3,443.5 657.8,446.6 655.7,448.0 654.5,449.0 653.4,450.5 652.8,452.0 652.5,453.5 652.1,459.0 652.2,460.0 652.4,460.5 652.8,461.0 653.3,461.5 654.0,462.0 655.8,463.0 659.3,464.5 671.3,469.2 675.1,471.0 677.8,472.5 679.2,473.5 680.3,474.5 681.4,476.0 681.6,476.5 681.8,477.5 681.7,478.5 681.6,479.0 681.0,480.0 680.6,480.5 679.5,481.5 678.1,482.5 676.3,483.5 674.0,484.5 671.3,485.4 668.8,486.1 665.8,486.7 662.3,487.2 658.3,487.6 639.3,488.3 622.3,489.5ZM641.3,424.0 642.3,423.5 643.3,422.8 644.3,421.5 644.7,420.5 645.0,419.5 645.2,418.0 645.0,416.5 644.8,415.5 644.1,414.0 643.3,412.8 642.3,411.8 641.3,411.1 640.3,410.7 639.3,410.5 638.3,410.5 636.8,410.8 635.3,411.5 634.3,412.3 633.3,413.4 632.6,414.5 632.1,416.0 631.8,417.5 631.9,419.0 632.2,420.0 632.7,421.0 633.4,422.0 634.5,423.0 635.8,423.7 637.3,424.2 638.8,424.4 640.3,424.3 641.3,424.0Z" fill="#cfe0f9" fill-rule="evenodd"/>
<path d="M646.3,452.0 645.3,451.7 642.0,449.5 640.8,448.8 639.3,448.1 635.8,446.9 628.6,445.0 627.3,444.5 625.8,443.6 624.8,442.7 623.3,440.9 621.8,438.9 620.8,437.2 620.2,436.0 619.9,435.0 619.8,433.7 619.9,432.5 620.1,431.5 620.5,430.5 621.8,428.3 626.3,422.8 627.3,421.8 627.8,421.6 628.3,421.6 628.8,421.7 632.6,424.0 634.3,424.8 636.3,425.4 637.8,425.6 639.8,425.6 641.3,425.3 642.8,424.6 643.6,424.0 644.3,423.3 645.2,422.0 645.8,420.3 646.0,418.5 645.9,416.5 645.4,414.5 644.4,412.5 643.3,410.9 641.8,409.4 640.3,408.2 639.3,407.7 638.3,407.2 636.8,407.0 635.8,407.0 634.8,407.4 633.3,408.3 631.8,409.5 629.3,411.9 628.8,412.2 628.3,412.0 628.2,411.5 628.3,410.5 628.7,409.5 629.2,408.5 629.8,407.7 631.2,406.5 632.8,405.7 635.3,404.8 636.3,404.4 637.8,403.4 639.3,402.1 640.3,401.1 641.8,399.3 646.4,392.5 647.9,390.5 649.6,388.5 651.2,387.0 653.3,385.5 654.8,384.7 655.8,384.3 656.8,384.0 657.8,383.8 658.8,383.7 659.8,383.9 661.3,384.5 662.8,385.5 664.3,387.1 665.8,389.2 667.0,391.5 668.2,394.5 669.0,397.5 669.8,401.0 670.2,404.0 670.5,407.0 670.6,410.0 670.6,413.5 670.2,418.5 669.5,425.0 669.0,430.5 668.6,433.0 667.9,435.5 666.8,437.9 665.3,440.0 663.8,441.5 662.3,442.6 660.3,443.7 654.0,446.5 652.0,447.5 651.2,448.0 650.0,449.0 647.8,451.4 647.3,451.8 646.8,452.0 646.3,452.0ZM621.8,489.0 617.8,489.1 614.3,489.0 610.8,488.8 606.8,488.4 602.8,487.8 599.3,487.2 595.8,486.5 592.2,485.5 589.1,484.5 586.6,483.5 584.6,482.5 583.0,481.5 581.8,480.5 581.1,479.5 580.7,478.5 580.6,478.0 580.7,477.0 581.2,476.0 582.3,474.8 583.9,473.5 585.7,472.5 587.8,471.5 590.8,470.3 594.3,469.1 598.3,467.9 608.8,465.3 620.8,462.7 623.8,462.2 627.8,461.7 635.3,460.9 638.8,460.7 640.8,460.8 643.3,461.3 659.8,466.1 664.8,467.8 668.8,469.3 673.3,471.3 676.3,473.1 677.5,474.0 678.5,475.0 679.2,476.0 679.6,477.0 679.6,478.0 679.6,478.5 679.1,479.5 678.4,480.5 677.9,481.0 676.5,482.0 674.3,483.3 671.8,484.3 668.8,485.3 665.8,486.0 661.8,486.7 656.8,487.2 638.8,487.9 621.8,489.0Z" fill="#dfebfb" fill-rule="evenodd"/>
<path d="M656.3,443.5 653.8,443.9 651.3,444.0 644.3,443.1 638.3,442.9 636.3,442.7 634.3,442.4 632.3,441.9 630.3,441.1 628.8,440.3 627.3,439.4 625.8,438.2 624.7,437.0 624.1,436.0 623.7,435.0 623.5,433.5 623.7,432.5 624.1,431.5 625.2,430.0 626.8,428.6 627.8,427.9 628.8,427.4 630.3,426.9 631.8,426.7 633.3,426.8 637.8,427.1 639.3,427.0 640.8,426.8 642.3,426.3 643.3,425.8 644.3,425.1 645.4,424.0 646.0,423.0 646.6,421.5 646.9,420.0 647.0,418.0 646.7,416.0 646.3,414.2 645.7,412.5 644.2,409.0 643.8,408.0 643.6,407.0 643.6,406.0 643.7,405.0 644.0,403.5 644.5,402.0 645.9,398.5 647.4,395.5 649.2,392.5 650.8,390.4 652.6,388.5 654.3,387.3 655.3,386.7 656.3,386.4 657.3,386.1 658.3,386.0 659.8,386.3 660.8,386.7 661.8,387.3 662.8,388.1 663.8,389.2 664.8,390.6 665.8,392.3 666.6,394.0 667.3,395.9 667.9,398.0 668.4,400.0 668.9,402.5 669.3,405.0 669.5,407.5 669.6,410.0 669.6,413.0 669.3,417.5 668.3,425.0 667.7,431.0 667.2,433.5 666.5,435.5 665.8,437.0 664.8,438.4 663.8,439.6 662.8,440.5 661.3,441.5 659.8,442.3 658.3,442.9 656.3,443.5ZM621.8,488.5 617.8,488.5 614.3,488.4 610.8,488.2 607.3,487.8 603.3,487.2 599.8,486.6 596.3,485.8 593.5,485.0 590.5,484.0 588.1,483.0 586.2,482.0 584.8,481.0 583.8,480.0 583.2,479.0 582.9,478.0 583.0,477.0 583.5,476.0 584.8,474.6 586.4,473.5 588.2,472.5 590.4,471.5 593.0,470.5 596.3,469.4 599.8,468.4 604.3,467.3 609.3,466.2 614.3,465.2 619.8,464.3 623.8,463.8 627.8,463.4 631.3,463.2 634.3,463.1 637.3,463.2 640.3,463.5 643.3,463.8 648.3,464.6 655.8,466.2 659.3,467.1 662.8,468.2 665.8,469.2 668.8,470.4 671.2,471.5 673.1,472.5 674.8,473.6 676.3,475.0 677.0,476.0 677.4,477.0 677.5,478.0 677.4,478.5 677.0,479.5 676.6,480.0 675.8,480.8 674.2,482.0 672.4,483.0 670.0,484.0 667.3,484.9 664.3,485.6 659.8,486.4 654.8,486.8 639.3,487.5 626.3,488.3 621.8,488.5Z" fill="#f0f5fd" fill-rule="evenodd"/>
<path d="M656.8,441.5 654.8,441.7 652.8,441.6 645.3,440.3 642.8,440.0 637.3,439.5 634.3,439.0 631.8,438.2 630.8,437.7 629.7,437.0 628.8,436.2 628.3,435.5 627.9,434.5 627.8,434.0 627.9,433.0 628.5,432.0 629.5,431.0 630.8,430.2 632.3,429.6 633.8,429.3 639.8,428.7 642.3,428.1 643.8,427.4 644.8,426.8 645.8,425.9 646.5,425.0 647.0,424.0 647.6,422.5 647.9,421.0 648.0,419.5 648.0,417.5 647.7,415.5 646.4,410.0 646.1,408.0 646.1,406.5 646.3,405.0 646.6,403.5 647.2,401.5 648.3,398.5 649.5,396.0 650.8,393.7 652.3,391.8 653.8,390.3 655.3,389.3 656.8,388.7 658.3,388.5 659.3,388.6 660.3,388.9 661.3,389.5 662.3,390.3 663.3,391.4 664.3,392.8 665.0,394.0 665.8,395.7 666.5,397.5 667.1,399.5 667.9,403.5 668.4,408.0 668.5,412.5 668.2,417.0 667.1,425.0 666.5,430.5 666.1,432.5 665.5,434.5 664.8,435.9 664.1,437.0 663.3,438.0 662.2,439.0 661.3,439.7 659.8,440.6 658.3,441.1 656.8,441.5ZM622.3,488.0 618.8,488.0 615.3,487.9 611.8,487.7 608.3,487.3 604.8,486.8 601.3,486.1 598.3,485.5 595.3,484.7 593.2,484.0 590.7,483.0 588.7,482.0 587.1,481.0 586.1,480.0 585.4,479.0 585.2,478.0 585.3,477.0 585.8,476.0 586.7,475.0 588.0,474.0 589.8,472.9 591.8,472.0 594.8,470.8 597.8,469.9 601.3,468.9 608.8,467.2 613.8,466.3 617.8,465.7 621.8,465.1 625.8,464.8 629.3,464.6 632.8,464.5 636.3,464.6 639.3,464.7 643.3,465.1 646.8,465.6 653.8,466.8 657.3,467.6 660.3,468.4 663.3,469.3 666.3,470.4 668.8,471.5 670.8,472.5 672.4,473.5 673.8,474.6 674.6,475.5 674.9,476.0 675.4,477.0 675.4,478.0 675.3,478.5 674.9,479.5 674.0,480.5 672.7,481.5 671.0,482.5 668.8,483.5 665.8,484.5 662.8,485.2 658.1,486.0 652.7,486.5 627.8,487.8 622.3,488.0Z" fill="#fffefe" fill-rule="evenodd"/>
<path d="M657.3,439.6 655.3,439.8 652.8,439.7 650.8,439.3 644.8,437.8 639.3,436.9 637.3,436.5 635.7,436.0 634.8,435.5 634.2,435.0 633.9,434.5 633.8,434.0 633.9,433.5 634.2,433.0 634.9,432.5 635.8,432.1 637.6,431.5 641.3,430.6 642.8,430.1 644.3,429.4 645.3,428.8 646.3,428.0 647.3,427.0 647.9,426.0 648.4,425.0 648.8,423.9 649.1,422.5 649.2,421.0 649.1,417.5 648.1,411.0 647.9,408.5 648.0,407.0 648.2,405.5 649.0,402.0 649.9,399.5 650.8,397.5 652.0,395.5 653.1,394.0 654.3,392.8 655.8,391.7 656.8,391.3 658.3,391.1 659.3,391.2 660.3,391.6 661.8,392.7 662.6,393.5 663.3,394.4 664.2,396.0 664.8,397.2 665.8,400.0 666.3,401.8 666.7,404.0 667.2,408.0 667.3,412.0 667.2,415.0 666.8,418.0 665.7,425.0 665.0,431.0 664.4,433.5 663.9,434.5 663.3,435.6 662.6,436.5 661.6,437.5 660.8,438.1 659.8,438.7 658.8,439.2 657.3,439.6ZM623.8,487.5 616.8,487.4 610.3,486.9 603.8,485.9 600.8,485.3 597.6,484.5 595.3,483.8 593.2,483.0 591.1,482.0 589.5,481.0 588.4,480.0 587.7,479.0 587.4,478.0 587.5,477.0 588.1,476.0 589.0,475.0 590.4,474.0 592.1,473.0 594.4,472.0 596.8,471.1 602.3,469.5 605.8,468.6 609.8,467.8 617.3,466.6 621.3,466.1 625.3,465.8 632.3,465.5 638.8,465.7 645.8,466.4 649.3,466.9 653.3,467.6 659.3,469.0 662.3,470.0 665.2,471.0 667.5,472.0 669.4,473.0 670.9,474.0 672.1,475.0 672.9,476.0 673.3,477.0 673.4,478.0 673.2,478.5 672.7,479.5 671.8,480.5 670.5,481.5 668.7,482.5 666.2,483.5 663.8,484.3 661.3,484.9 656.8,485.6 650.8,486.2 630.8,487.2 623.8,487.5Z" fill="#fdf3f3" fill-rule="evenodd"/>
<path d="M657.8,437.6 656.3,437.9 654.3,438.0 652.3,437.6 650.3,437.1 647.6,436.0 645.9,435.0 645.3,434.5 645.0,434.0 644.9,433.5 645.1,433.0 645.4,432.5 648.3,429.2 649.3,427.8 650.2,426.0 650.6,424.5 650.8,422.5 650.7,420.5 649.8,412.5 649.6,409.5 649.7,408.0 650.0,406.0 650.4,404.0 651.0,402.0 651.8,400.0 652.5,398.5 653.3,397.2 654.3,396.0 655.3,395.1 656.3,394.4 657.3,394.1 658.3,394.0 659.3,394.2 659.8,394.3 660.8,394.9 661.3,395.4 662.7,397.0 663.8,399.1 664.8,401.9 665.4,404.5 665.9,408.0 666.0,411.5 665.9,414.5 665.6,417.0 664.2,424.5 663.5,430.5 663.0,432.5 662.6,433.5 662.1,434.5 661.3,435.5 660.8,436.0 659.3,437.0 657.8,437.6ZM625.8,487.0 618.8,487.0 612.3,486.5 608.8,486.1 605.8,485.6 602.7,485.0 599.8,484.3 597.2,483.5 595.3,482.8 593.5,482.0 591.8,481.0 590.7,480.0 589.9,479.0 589.6,478.0 589.8,477.0 590.3,476.0 591.3,475.0 592.7,474.0 594.3,473.1 595.8,472.5 598.3,471.5 601.3,470.6 604.3,469.8 611.3,468.3 618.3,467.3 625.3,466.6 632.3,466.4 639.3,466.6 645.8,467.3 652.3,468.3 655.3,468.9 658.3,469.6 660.8,470.4 663.3,471.3 665.1,472.0 667.1,473.0 668.7,474.0 669.9,475.0 670.8,476.0 671.2,477.0 671.3,478.0 670.9,479.0 670.2,480.0 668.8,481.1 667.4,482.0 665.1,483.0 662.3,483.9 659.8,484.5 654.8,485.3 648.8,485.9 636.3,486.6 625.8,487.0Z" fill="#fce8e8" fill-rule="evenodd"/>
<path d="M657.3,435.6 656.3,435.8 654.8,435.9 653.3,435.6 652.3,435.2 651.3,434.7 650.6,434.0 650.2,433.5 650.1,433.0 650.0,432.5 650.1,432.0 650.4,431.0 652.0,428.0 652.4,427.0 652.7,426.0 652.9,424.5 653.0,423.5 652.8,422.0 651.8,415.8 651.4,412.0 651.4,410.0 651.5,408.5 652.0,405.5 652.5,403.5 653.1,402.0 653.8,400.7 654.6,399.5 655.3,398.7 656.3,397.9 657.3,397.4 658.3,397.3 659.0,397.5 659.8,397.8 660.8,398.6 661.8,399.9 662.8,401.9 663.5,404.0 664.0,406.5 664.3,409.0 664.4,412.0 664.3,414.0 664.0,416.5 663.5,419.0 662.0,425.0 661.5,430.0 661.2,431.5 660.6,433.0 659.8,434.1 658.7,435.0 657.3,435.6ZM628.3,486.5 620.8,486.5 614.3,486.2 610.8,485.8 607.8,485.3 604.8,484.7 601.8,484.0 599.3,483.3 597.2,482.5 595.1,481.5 593.8,480.7 593.0,480.0 592.2,479.0 591.9,478.0 592.0,477.0 592.6,476.0 593.6,475.0 594.8,474.2 596.0,473.5 597.8,472.7 599.8,471.9 602.7,471.0 605.3,470.3 611.8,468.9 618.3,468.0 625.3,467.4 631.8,467.2 638.3,467.4 644.8,467.9 651.3,468.9 656.8,470.1 659.3,470.8 661.8,471.7 663.8,472.5 665.7,473.5 666.8,474.2 667.8,475.0 668.7,476.0 669.1,477.0 669.2,478.0 668.8,479.0 668.0,480.0 666.8,481.0 665.3,481.8 663.8,482.5 661.3,483.4 658.9,484.0 656.4,484.5 653.8,484.9 647.9,485.5 639.3,486.0 628.3,486.5Z" fill="#fadddd" fill-rule="evenodd"/>
<path d="M658.3,422.7 657.8,422.9 657.3,422.8 656.8,422.4 656.3,421.8 655.3,419.9 654.4,417.5 653.9,415.5 653.6,413.5 653.5,411.5 653.5,409.5 653.8,407.6 654.2,406.0 654.8,404.6 655.4,403.5 656.3,402.5 657.1,402.0 657.8,401.8 658.7,402.0 659.3,402.3 659.8,402.8 660.3,403.5 660.8,404.4 661.3,405.6 661.8,407.5 662.0,409.0 662.1,411.0 662.1,412.5 661.9,414.5 661.2,417.5 660.7,419.0 659.8,420.9 658.8,422.3 658.3,422.7ZM656.3,431.0 656.2,430.5 656.3,430.3 656.8,430.3 656.8,430.6 656.3,431.0ZM630.3,486.0 622.8,486.1 616.8,485.8 613.7,485.5 610.3,485.0 604.9,484.0 602.3,483.3 599.9,482.5 598.3,481.8 596.7,481.0 595.8,480.4 594.8,479.5 594.3,478.5 594.2,477.5 594.5,476.5 595.4,475.5 596.3,474.8 597.5,474.0 599.3,473.1 600.9,472.5 605.7,471.0 611.3,469.8 617.8,468.8 624.3,468.1 631.3,467.9 637.8,468.1 643.8,468.5 649.8,469.4 655.3,470.5 657.8,471.2 660.1,472.0 661.8,472.7 663.4,473.5 664.8,474.4 665.6,475.0 666.5,476.0 667.0,477.0 667.0,478.0 666.7,479.0 665.8,480.0 665.2,480.5 663.8,481.4 662.5,482.0 660.3,482.8 657.9,483.5 653.3,484.4 648.2,485.0 640.8,485.5 630.3,486.0Z" fill="#f8d0d1" fill-rule="evenodd"/>
<path d="M631.8,485.5 624.3,485.6 618.3,485.3 612.3,484.7 607.3,483.8 604.8,483.1 602.7,482.5 600.8,481.8 599.2,481.0 598.3,480.4 597.2,479.5 596.6,478.5 596.5,478.0 596.5,477.5 596.8,476.6 597.2,476.0 598.3,475.1 599.1,474.5 600.8,473.6 602.3,473.0 604.8,472.1 607.0,471.5 612.3,470.3 618.3,469.4 624.3,468.8 630.8,468.6 636.8,468.7 642.8,469.2 648.8,470.0 653.8,471.0 657.8,472.2 659.9,473.0 661.3,473.7 662.7,474.5 663.9,475.5 664.3,476.0 664.8,477.0 664.8,478.0 664.4,479.0 663.8,479.7 662.9,480.5 661.3,481.4 659.9,482.0 656.8,483.0 652.3,483.9 647.8,484.5 641.3,485.1 631.8,485.5Z" fill="#f6c3c5" fill-rule="evenodd"/>
<path d="M632.8,485.0 625.8,485.1 619.8,484.8 614.3,484.3 609.3,483.4 606.8,482.8 604.3,482.0 603.0,481.5 601.3,480.7 600.3,480.0 599.3,479.0 599.1,478.5 598.9,478.0 598.9,477.5 599.3,476.5 599.7,476.0 600.8,475.1 601.7,474.5 603.3,473.7 605.1,473.0 608.8,471.9 613.8,470.8 619.3,470.0 624.8,469.5 630.8,469.3 636.8,469.4 642.3,469.8 647.4,470.5 652.4,471.5 655.8,472.5 657.8,473.2 659.4,474.0 660.3,474.5 661.5,475.5 662.3,476.5 662.5,477.0 662.6,477.5 662.5,478.0 662.4,478.5 661.8,479.3 661.1,480.0 659.8,480.8 658.4,481.5 655.5,482.5 651.3,483.4 646.8,484.1 640.8,484.6 632.8,485.0Z" fill="#f4b6b8" fill-rule="evenodd"/>
<path d="M631.8,484.5 625.8,484.5 620.3,484.3 615.3,483.7 610.8,482.9 607.3,482.0 605.3,481.2 603.8,480.5 602.8,479.8 602.0,479.0 601.7,478.5 601.5,478.0 601.5,477.5 601.6,477.0 602.3,476.0 603.6,475.0 605.3,474.1 606.7,473.5 610.3,472.4 614.3,471.5 619.8,470.6 625.3,470.1 630.8,469.9 636.3,470.1 641.3,470.4 646.3,471.1 650.8,472.0 654.2,473.0 655.6,473.5 657.3,474.3 658.4,475.0 659.0,475.5 659.8,476.4 660.1,477.0 660.1,477.5 660.1,478.0 659.9,478.5 659.3,479.3 658.5,480.0 657.3,480.7 655.8,481.4 652.8,482.3 649.3,483.1 644.3,483.7 638.3,484.2 631.8,484.5Z" fill="#f1a9ac" fill-rule="evenodd"/>
<path d="M639.8,483.5 632.8,483.9 626.8,483.9 620.8,483.6 615.8,483.0 613.1,482.5 611.1,482.0 608.8,481.3 606.9,480.5 605.8,479.8 604.8,479.0 604.5,478.5 604.3,478.0 604.3,477.5 604.4,477.0 604.7,476.5 605.1,476.0 606.5,475.0 608.6,474.0 612.3,472.8 616.0,472.0 620.8,471.3 625.8,470.8 630.8,470.7 635.8,470.8 640.3,471.1 644.8,471.7 649.0,472.5 652.4,473.5 654.7,474.5 656.3,475.5 656.8,476.0 657.2,476.5 657.4,477.0 657.5,477.5 657.4,478.0 657.2,478.5 656.9,479.0 655.6,480.0 653.6,481.0 650.8,481.9 648.0,482.5 644.8,483.0 639.8,483.5Z" fill="#f09ea1" fill-rule="evenodd"/>
<path d="M637.3,483.0 631.3,483.2 625.8,483.2 620.8,482.8 616.3,482.1 613.4,481.5 611.8,481.0 609.4,480.0 608.6,479.5 608.1,479.0 607.7,478.5 607.4,478.0 607.4,477.5 607.5,477.0 607.8,476.5 608.3,476.0 608.9,475.5 610.9,474.5 613.8,473.5 617.8,472.6 621.6,472.0 625.8,471.6 630.3,471.4 634.8,471.5 639.3,471.8 643.3,472.3 646.8,473.0 650.2,474.0 652.4,475.0 653.8,476.0 654.2,476.5 654.5,477.0 654.5,477.5 654.4,478.0 654.2,478.5 653.8,479.0 652.3,480.0 649.9,481.0 647.8,481.6 644.8,482.2 641.8,482.6 637.3,483.0Z" fill="#ee9699" fill-rule="evenodd"/>
<path d="M638.8,482.0 633.8,482.4 628.8,482.4 623.8,482.1 619.3,481.6 616.6,481.0 614.9,480.5 613.6,480.0 612.6,479.5 611.9,479.0 611.3,478.4 611.1,478.0 611.0,477.5 611.1,477.0 611.5,476.5 612.0,476.0 612.7,475.5 614.8,474.6 616.6,474.0 619.3,473.4 622.8,472.8 626.3,472.5 630.3,472.3 633.8,472.3 637.3,472.5 641.2,473.0 643.9,473.5 646.3,474.1 648.7,475.0 649.6,475.5 650.3,476.0 650.7,476.5 651.0,477.0 651.1,477.5 650.9,478.0 650.6,478.5 650.1,479.0 649.4,479.5 648.4,480.0 646.8,480.6 644.3,481.2 642.3,481.6 638.8,482.0Z" fill="#ed8e92" fill-rule="evenodd"/>
<path d="M636.8,481.0 632.8,481.3 628.8,481.3 624.7,481.0 621.4,480.5 619.3,480.0 617.9,479.5 616.9,479.0 616.2,478.5 615.8,478.0 615.7,477.5 615.8,477.0 616.1,476.5 616.7,476.0 617.6,475.5 618.8,475.0 620.6,474.5 623.0,474.0 625.8,473.6 628.3,473.4 631.3,473.4 634.3,473.4 636.8,473.6 639.6,474.0 642.0,474.5 643.7,475.0 644.9,475.5 645.8,476.1 646.3,476.5 646.6,477.0 646.6,477.5 646.5,478.0 646.0,478.5 645.3,479.0 644.3,479.5 642.8,480.0 640.7,480.5 636.8,481.0Z" fill="#ec868b" fill-rule="evenodd"/>
<path d="M634.8,479.0 632.8,479.2 630.8,479.2 628.8,479.1 627.3,478.9 625.5,478.5 624.3,478.0 623.6,477.5 623.5,477.0 623.8,476.5 624.8,476.0 626.6,475.5 628.8,475.2 631.3,475.1 633.8,475.2 636.3,475.5 638.0,476.0 638.9,476.5 639.3,477.0 639.2,477.5 638.6,478.0 638.3,478.1 637.3,478.5 634.8,479.0Z" fill="#ea7e83" fill-rule="evenodd"/>
</g>
<path d="M627.8,498.5 622.8,498.6 616.8,498.3 610.8,497.7 604.3,496.9 597.8,495.7 590.3,494.2 582.8,492.3 577.3,490.7 572.8,489.2 568.3,487.4 564.8,485.7 562.1,484.0 560.3,482.5 559.3,481.5 558.7,480.5 558.2,479.5 557.9,478.5 557.9,477.5 558.1,476.5 558.5,475.5 559.5,474.0 560.9,472.5 562.8,471.0 566.3,468.8 575.2,464.0 577.5,462.5 578.7,461.5 580.6,459.5 583.3,455.7 585.9,452.5 587.0,451.0 588.4,447.0 590.9,441.5 591.7,439.0 592.3,435.5 592.7,428.0 593.1,425.0 593.9,422.5 596.5,416.0 597.6,412.0 597.7,410.5 597.6,409.5 597.2,408.5 595.3,405.0 594.8,403.8 594.5,402.5 594.3,401.0 594.4,399.5 594.7,397.5 595.2,395.5 596.1,392.5 597.5,389.0 599.2,385.5 600.8,382.6 602.8,379.5 604.7,377.0 606.8,374.5 609.2,372.0 613.3,368.5 669.3,368.5 671.0,371.0 672.5,373.5 674.0,376.5 675.5,380.0 676.9,384.0 677.9,387.5 678.9,391.5 679.6,395.0 680.5,402.0 680.9,409.5 680.9,415.0 680.5,425.0 680.6,432.5 680.5,435.5 680.1,440.0 679.7,442.5 679.1,444.0 678.4,445.0 677.3,445.8 676.3,446.3 669.8,448.0 666.8,449.2 665.5,450.0 664.8,450.7 664.3,451.5 664.1,452.5 664.5,453.5 665.3,454.4 666.3,455.0 667.8,455.7 669.8,456.3 671.8,456.6 677.8,456.9 679.3,457.1 680.8,457.6 681.4,458.0 682.3,458.8 682.3,490.1 678.3,491.3 674.3,492.2 670.3,492.8 666.8,493.1 664.8,493.1 662.3,492.9 653.4,491.5 648.3,491.0 643.3,491.0 637.8,491.5 635.3,492.0 633.6,492.5 632.5,493.0 631.8,493.5 631.3,494.0 631.1,494.5 631.2,495.0 631.4,495.5 632.7,497.0 632.7,497.5 631.8,498.0 631.3,498.1 627.8,498.5ZM604.2,456.5 607.3,456.1 610.3,455.3 611.8,454.5 612.5,454.0 612.8,453.5 612.8,453.0 612.6,452.5 612.1,452.0 611.3,451.5 609.8,450.8 606.8,450.0 603.3,449.6 599.8,449.6 596.8,450.0 595.2,450.5 594.0,451.0 593.2,451.5 592.8,452.0 592.7,452.5 592.7,453.0 593.0,453.5 594.2,454.5 595.8,455.3 597.8,455.9 599.8,456.3 601.8,456.5 604.2,456.5Z" fill="none" stroke="#7a8a9a" stroke-opacity="0.45" stroke-width="0.5"/>
<path d="M620.8,492.5 617.3,492.9 613.3,493.0 608.8,492.8 604.3,492.4 599.3,491.7 593.8,490.7 588.8,489.6 583.3,488.2 579.8,487.1 576.3,485.8 573.5,484.5 571.0,483.0 569.1,481.5 567.9,480.0 567.4,478.5 567.4,477.0 568.1,475.5 569.3,474.0 571.2,472.5 573.3,471.2 578.3,468.7 589.5,464.0 594.8,461.2 596.8,460.3 599.8,459.5 605.3,458.7 608.3,458.1 615.3,456.2 617.3,455.7 619.8,455.5 625.8,455.7 628.3,455.5 630.3,454.9 631.0,454.5 631.5,454.0 631.8,453.5 631.7,453.0 631.5,452.5 630.9,452.0 629.8,451.5 628.3,451.1 626.8,450.9 624.8,450.8 619.3,450.9 617.8,450.8 616.3,450.5 604.0,446.5 603.0,446.0 602.4,445.5 602.0,445.0 601.7,444.5 601.6,444.0 601.7,443.0 602.3,440.0 602.5,438.0 602.6,425.0 602.8,422.5 603.1,421.0 603.7,419.5 604.8,418.0 605.9,417.0 608.8,414.6 610.3,413.0 611.3,411.2 611.8,409.5 611.8,407.5 611.2,405.5 610.0,403.5 607.3,400.0 606.6,398.5 606.4,397.5 606.4,396.5 606.6,395.5 607.0,394.0 607.9,392.0 609.3,389.5 611.0,387.0 612.8,384.8 614.8,382.7 616.8,380.9 618.8,379.4 620.8,378.3 622.3,377.8 623.8,377.8 624.8,378.1 628.3,379.7 629.8,380.3 631.8,380.5 633.3,380.5 634.8,380.1 636.0,379.5 637.5,378.5 640.3,376.0 641.3,375.6 641.8,375.6 642.8,375.9 645.2,377.5 646.8,378.3 648.3,378.6 649.8,378.5 650.8,378.2 651.8,377.6 653.2,376.5 654.3,375.0 655.8,372.5 656.8,371.5 657.8,371.0 658.8,370.8 659.8,370.9 660.8,371.1 662.3,371.8 663.8,372.8 665.3,374.1 666.8,375.7 668.3,377.7 669.7,380.0 670.9,382.5 672.0,385.0 673.0,388.0 673.9,391.0 674.6,394.0 675.3,397.5 676.1,404.5 676.3,408.5 676.4,412.0 676.2,416.5 675.7,424.5 675.4,433.0 674.7,437.0 673.7,440.5 672.6,442.5 671.1,444.0 669.3,445.2 663.8,448.0 661.8,449.5 660.6,451.0 660.3,452.0 660.3,453.0 660.6,454.0 661.2,455.0 662.1,456.0 663.3,457.0 665.3,458.3 670.2,461.0 674.4,464.0 676.6,465.5 682.3,468.7 682.3,486.0 678.8,487.3 675.3,488.3 671.3,489.2 667.8,489.6 662.3,489.9 647.8,489.6 639.8,489.8 633.0,490.5 620.8,492.5ZM640.5,419.5 640.9,419.0 641.3,418.0 641.1,417.0 640.8,416.5 640.3,416.0 639.8,415.8 638.8,415.8 638.3,416.0 637.7,416.5 637.3,417.5 637.4,418.5 637.7,419.0 638.2,419.5 638.8,419.8 639.8,419.8 640.5,419.5Z" fill="none" stroke="#7a8a9a" stroke-opacity="0.45" stroke-width="0.5"/>
<path d="M624.3,490.0 620.3,490.3 616.3,490.5 612.3,490.4 608.3,490.1 603.8,489.6 598.8,488.9 593.8,487.9 589.8,486.9 585.8,485.7 582.8,484.5 580.5,483.5 578.3,482.2 576.8,481.0 575.7,479.5 575.3,478.5 575.3,478.0 575.4,477.0 575.8,476.0 576.6,475.0 577.6,474.0 579.0,473.0 580.7,472.0 582.8,471.0 588.3,468.8 603.0,464.0 615.8,459.6 619.3,458.9 627.8,458.3 631.3,457.7 633.3,457.2 634.8,456.6 635.8,456.0 636.9,455.0 637.4,454.0 637.4,453.0 637.3,452.5 636.5,451.5 636.0,451.0 634.3,450.0 632.3,449.3 629.8,448.7 626.8,448.3 620.8,447.9 617.8,447.3 616.3,446.7 615.1,446.0 614.1,445.0 613.6,444.0 613.2,440.0 612.4,435.0 612.3,433.5 612.3,431.5 614.2,420.0 614.8,418.0 616.4,413.5 617.2,410.5 617.5,407.5 617.5,402.0 617.7,400.5 618.0,399.5 618.3,398.5 619.2,397.0 620.3,395.5 621.3,394.4 622.8,393.0 624.3,391.8 627.3,390.1 628.8,389.4 630.8,388.8 638.3,387.4 640.8,386.7 650.8,382.6 657.3,379.3 658.3,379.0 659.3,378.8 660.8,379.0 662.3,379.7 663.5,380.5 664.8,381.8 666.2,383.5 667.3,385.3 668.3,387.2 669.3,389.5 670.2,392.0 670.9,394.5 671.6,397.5 672.6,403.5 673.0,410.0 672.8,416.5 671.4,432.5 670.8,435.5 669.8,438.5 668.3,441.0 667.5,442.0 666.5,443.0 664.4,444.5 659.3,447.5 658.0,448.5 657.0,449.5 656.3,450.5 655.7,452.0 655.5,453.0 655.7,454.5 655.9,455.5 656.5,457.0 657.8,459.3 659.1,461.0 660.9,462.5 662.4,463.5 665.3,465.0 673.8,468.8 677.3,470.5 679.9,472.0 682.3,473.8 682.3,481.6 681.0,482.5 679.3,483.5 677.2,484.5 675.3,485.3 670.8,486.6 665.8,487.6 662.8,487.9 658.8,488.2 644.8,488.5 638.8,488.7 633.8,489.1 624.3,490.0ZM640.3,423.0 641.8,422.4 642.8,421.6 643.3,420.9 643.8,420.0 644.1,419.0 644.1,418.0 644.1,417.0 643.8,416.0 643.3,414.8 642.7,414.0 641.8,413.2 640.3,412.4 639.3,412.2 638.3,412.3 637.3,412.5 636.3,413.1 635.3,413.9 634.8,414.5 634.2,415.5 633.9,416.5 633.7,418.0 633.9,419.0 634.2,420.0 634.8,421.0 635.3,421.6 636.3,422.3 637.3,422.8 638.3,423.0 639.3,423.1 640.3,423.0Z" fill="none" stroke="#7a8a9a" stroke-opacity="0.45" stroke-width="0.5"/>
<path d="M657.3,440.6 655.3,440.8 652.8,440.7 644.8,439.1 637.8,438.3 635.3,437.9 633.3,437.2 631.8,436.4 630.7,435.5 630.3,434.8 630.1,434.0 630.3,433.1 630.7,432.5 631.3,431.9 632.3,431.2 633.3,430.8 634.8,430.4 640.3,429.5 642.8,428.8 644.3,428.1 645.3,427.4 646.3,426.5 647.1,425.5 647.6,424.5 648.1,423.0 648.4,421.5 648.5,420.0 648.3,416.5 647.2,410.5 646.9,408.0 647.2,405.0 648.1,401.5 649.0,399.0 650.2,396.5 651.4,394.5 652.8,392.6 653.9,391.5 655.3,390.5 656.8,389.8 658.3,389.7 659.3,389.8 660.3,390.1 661.3,390.7 662.3,391.6 663.8,393.4 665.3,396.3 666.5,399.5 667.4,403.5 667.8,407.5 668.0,412.0 667.6,417.0 666.5,425.0 665.9,430.5 665.5,432.5 665.0,434.0 664.3,435.5 663.7,436.5 662.8,437.5 661.8,438.5 659.8,439.7 658.8,440.2 657.3,440.6ZM629.8,487.5 620.8,487.8 613.8,487.6 609.8,487.2 606.3,486.7 599.3,485.4 596.0,484.5 593.1,483.5 590.7,482.5 588.9,481.5 587.6,480.5 586.7,479.5 586.3,478.5 586.2,478.0 586.3,477.0 586.8,476.0 587.8,475.0 589.1,474.0 590.8,473.0 593.0,472.0 595.6,471.0 601.8,469.1 609.8,467.4 617.3,466.1 625.3,465.3 632.8,465.0 639.8,465.3 647.3,466.1 654.3,467.3 660.3,468.8 663.3,469.8 666.3,470.9 668.8,472.0 670.6,473.0 672.1,474.0 673.2,475.0 674.0,476.0 674.4,477.0 674.5,478.0 674.4,478.5 673.9,479.5 673.0,480.5 671.7,481.5 670.0,482.5 667.8,483.4 665.8,484.1 663.3,484.8 658.8,485.6 653.3,486.2 629.8,487.5Z" fill="none" stroke="#7a8a9a" stroke-opacity="0.45" stroke-width="0.5"/>
<path d="M638.3,483.5 631.3,483.8 625.3,483.7 619.8,483.4 614.8,482.7 610.3,481.6 607.5,480.5 606.3,479.8 605.4,479.0 605.0,478.5 604.9,478.0 604.8,477.5 605.2,476.5 605.7,476.0 607.1,475.0 609.2,474.0 612.3,473.0 616.8,472.0 620.8,471.4 625.8,471.0 630.8,470.8 635.3,470.9 639.8,471.2 644.3,471.7 648.2,472.5 651.8,473.5 654.2,474.5 655.8,475.5 656.3,476.0 656.9,477.0 656.9,478.0 656.3,479.0 655.1,480.0 652.8,481.1 649.8,482.0 647.2,482.5 643.8,483.0 638.3,483.5Z" fill="none" stroke="#7a8a9a" stroke-opacity="0.45" stroke-width="0.5"/>
</g>
<line x1="23.4" y1="369.8" x2="168.9" y2="369.8" stroke="#333" stroke-width="0.9"/>
<line x1="168.9" y1="369.8" x2="168.9" y2="547.1" stroke="#333" stroke-width="0.9"/>
<line x1="23.4" y1="547.1" x2="168.9" y2="547.1" stroke="#222" stroke-width="1.1"/>
<line x1="23.4" y1="369.3" x2="23.4" y2="547.6" stroke="#222" stroke-width="1.1"/>
<line x1="23.4" y1="547.1" x2="23.4" y2="549.5" stroke="#222" stroke-width="0.9"/>
<line x1="59.77" y1="547.1" x2="59.77" y2="549.5" stroke="#222" stroke-width="0.9"/>
<line x1="96.15" y1="547.1" x2="96.15" y2="549.5" stroke="#222" stroke-width="0.9"/>
<line x1="132.53" y1="547.1" x2="132.53" y2="549.5" stroke="#222" stroke-width="0.9"/>
<line x1="168.9" y1="547.1" x2="168.9" y2="549.5" stroke="#222" stroke-width="0.9"/>
<line x1="41.59" y1="547.1" x2="41.59" y2="548.5" stroke="#222" stroke-width="0.9"/>
<line x1="77.96" y1="547.1" x2="77.96" y2="548.5" stroke="#222" stroke-width="0.9"/>
<line x1="114.34" y1="547.1" x2="114.34" y2="548.5" stroke="#222" stroke-width="0.9"/>
<line x1="150.71" y1="547.1" x2="150.71" y2="548.5" stroke="#222" stroke-width="0.9"/>
<text x="23.4" y="557.5" font-size="8.6" font-weight="bold" text-anchor="middle" fill="#000">-5</text>
<text x="59.77" y="557.5" font-size="8.6" font-weight="bold" text-anchor="middle" fill="#000">0</text>
<text x="96.15" y="557.5" font-size="8.6" font-weight="bold" text-anchor="middle" fill="#000">5</text>
<text x="132.53" y="557.5" font-size="8.6" font-weight="bold" text-anchor="middle" fill="#000">10</text>
<text x="168.9" y="557.5" font-size="8.6" font-weight="bold" text-anchor="middle" fill="#000">15</text>
<line x1="23.4" y1="547.1" x2="21" y2="547.1" stroke="#222" stroke-width="0.9"/>
<line x1="23.4" y1="502.78" x2="21" y2="502.78" stroke="#222" stroke-width="0.9"/>
<line x1="23.4" y1="458.45" x2="21" y2="458.45" stroke="#222" stroke-width="0.9"/>
<line x1="23.4" y1="414.12" x2="21" y2="414.12" stroke="#222" stroke-width="0.9"/>
<line x1="23.4" y1="369.8" x2="21" y2="369.8" stroke="#222" stroke-width="0.9"/>
<line x1="23.4" y1="524.94" x2="22" y2="524.94" stroke="#222" stroke-width="0.9"/>
<line x1="23.4" y1="480.61" x2="22" y2="480.61" stroke="#222" stroke-width="0.9"/>
<line x1="23.4" y1="436.29" x2="22" y2="436.29" stroke="#222" stroke-width="0.9"/>
<line x1="23.4" y1="391.96" x2="22" y2="391.96" stroke="#222" stroke-width="0.9"/>
<text x="20" y="550.1" font-size="8.6" font-weight="bold" text-anchor="end" fill="#000">0</text>
<text x="20" y="505.78" font-size="8.6" font-weight="bold" text-anchor="end" fill="#000">1</text>
<text x="20" y="461.45" font-size="8.6" font-weight="bold" text-anchor="end" fill="#000">2</text>
<text x="20" y="417.12" font-size="8.6" font-weight="bold" text-anchor="end" fill="#000">3</text>
<text x="20" y="372.8" font-size="8.6" font-weight="bold" text-anchor="end" fill="#000">4</text>
<text x="0.3" y="378.2" font-size="17" font-weight="bold" text-anchor="start" fill="#000">g</text>
<text x="25.6" y="380.73" font-size="9.9" font-weight="bold" text-anchor="start" fill="#000">Cr-Ni<tspan dy="2.77" font-size="6.73">3</tspan><tspan dy="-2.77">S</tspan><tspan dy="2.77" font-size="6.73">2</tspan></text>
<text x="112.5" y="429" font-size="9.9" font-weight="bold" text-anchor="middle" fill="#000">Ni-M</text>
<text x="100.2" y="476.6" font-size="9.9" font-weight="bold" text-anchor="middle" fill="#000">Ni-S</text>
<text x="96.15" y="570.6" font-size="11.2" font-weight="bold" text-anchor="middle">k (Å<tspan dy="-4.03" font-size="7.62">-1</tspan><tspan dy="4.03">)</tspan></text>
<text x="13.1" y="458.5" font-size="11.4" font-weight="bold" text-anchor="middle" fill="#000" transform="rotate(-90 13.1 458.5)">R+α (Å)</text>
<line x1="193.5" y1="370.3" x2="339.4" y2="370.3" stroke="#333" stroke-width="0.9"/>
<line x1="339.4" y1="370.3" x2="339.4" y2="546.3" stroke="#333" stroke-width="0.9"/>
<line x1="193.5" y1="546.3" x2="339.4" y2="546.3" stroke="#222" stroke-width="1.1"/>
<line x1="193.5" y1="369.8" x2="193.5" y2="546.8" stroke="#222" stroke-width="1.1"/>
<line x1="193.5" y1="546.3" x2="193.5" y2="548.7" stroke="#222" stroke-width="0.9"/>
<line x1="229.97" y1="546.3" x2="229.97" y2="548.7" stroke="#222" stroke-width="0.9"/>
<line x1="266.45" y1="546.3" x2="266.45" y2="548.7" stroke="#222" stroke-width="0.9"/>
<line x1="302.92" y1="546.3" x2="302.92" y2="548.7" stroke="#222" stroke-width="0.9"/>
<line x1="339.4" y1="546.3" x2="339.4" y2="548.7" stroke="#222" stroke-width="0.9"/>
<line x1="211.74" y1="546.3" x2="211.74" y2="547.7" stroke="#222" stroke-width="0.9"/>
<line x1="248.21" y1="546.3" x2="248.21" y2="547.7" stroke="#222" stroke-width="0.9"/>
<line x1="284.69" y1="546.3" x2="284.69" y2="547.7" stroke="#222" stroke-width="0.9"/>
<line x1="321.16" y1="546.3" x2="321.16" y2="547.7" stroke="#222" stroke-width="0.9"/>
<text x="193.5" y="557.5" font-size="8.6" font-weight="bold" text-anchor="middle" fill="#000">-5</text>
<text x="229.97" y="557.5" font-size="8.6" font-weight="bold" text-anchor="middle" fill="#000">0</text>
<text x="266.45" y="557.5" font-size="8.6" font-weight="bold" text-anchor="middle" fill="#000">5</text>
<text x="302.92" y="557.5" font-size="8.6" font-weight="bold" text-anchor="middle" fill="#000">10</text>
<text x="339.4" y="557.5" font-size="8.6" font-weight="bold" text-anchor="middle" fill="#000">15</text>
<line x1="193.5" y1="546.3" x2="191.1" y2="546.3" stroke="#222" stroke-width="0.9"/>
<line x1="193.5" y1="502.3" x2="191.1" y2="502.3" stroke="#222" stroke-width="0.9"/>
<line x1="193.5" y1="458.3" x2="191.1" y2="458.3" stroke="#222" stroke-width="0.9"/>
<line x1="193.5" y1="414.3" x2="191.1" y2="414.3" stroke="#222" stroke-width="0.9"/>
<line x1="193.5" y1="370.3" x2="191.1" y2="370.3" stroke="#222" stroke-width="0.9"/>
<line x1="193.5" y1="524.3" x2="192.1" y2="524.3" stroke="#222" stroke-width="0.9"/>
<line x1="193.5" y1="480.3" x2="192.1" y2="480.3" stroke="#222" stroke-width="0.9"/>
<line x1="193.5" y1="436.3" x2="192.1" y2="436.3" stroke="#222" stroke-width="0.9"/>
<line x1="193.5" y1="392.3" x2="192.1" y2="392.3" stroke="#222" stroke-width="0.9"/>
<text x="190.1" y="549.3" font-size="8.6" font-weight="bold" text-anchor="end" fill="#000">0</text>
<text x="190.1" y="505.3" font-size="8.6" font-weight="bold" text-anchor="end" fill="#000">1</text>
<text x="190.1" y="461.3" font-size="8.6" font-weight="bold" text-anchor="end" fill="#000">2</text>
<text x="190.1" y="417.3" font-size="8.6" font-weight="bold" text-anchor="end" fill="#000">3</text>
<text x="190.1" y="373.3" font-size="8.6" font-weight="bold" text-anchor="end" fill="#000">4</text>
<text x="172.6" y="378.6" font-size="17" font-weight="bold" text-anchor="start" fill="#000">h</text>
<text x="195.7" y="381.3" font-size="10" font-weight="bold" text-anchor="start" fill="#000">Ni<tspan dy="2.8" font-size="6.8">3</tspan><tspan dy="-2.8">S</tspan><tspan dy="2.8" font-size="6.8">2</tspan></text>
<text x="299.2" y="406.2" font-size="10.4" font-weight="bold" text-anchor="middle" fill="#000">Ni-Ni</text>
<text x="274.3" y="469.2" font-size="10.4" font-weight="bold" text-anchor="middle" fill="#000">Ni-S</text>
<text x="266.45" y="571.5" font-size="12.4" font-weight="bold" text-anchor="middle">k (Å<tspan dy="-4.46" font-size="8.43">-1</tspan><tspan dy="4.46">)</tspan></text>
<text x="182.1" y="458.2" font-size="12.6" font-weight="bold" text-anchor="middle" fill="#000" transform="rotate(-90 182.1 458.2)">R+α (Å)</text>
<line x1="365.8" y1="371.3" x2="510" y2="371.3" stroke="#333" stroke-width="0.9"/>
<line x1="510" y1="371.3" x2="510" y2="546.2" stroke="#333" stroke-width="0.9"/>
<line x1="365.8" y1="546.2" x2="510" y2="546.2" stroke="#222" stroke-width="1.1"/>
<line x1="365.8" y1="370.8" x2="365.8" y2="546.7" stroke="#222" stroke-width="1.1"/>
<line x1="365.8" y1="546.2" x2="365.8" y2="548.6" stroke="#222" stroke-width="0.9"/>
<line x1="401.85" y1="546.2" x2="401.85" y2="548.6" stroke="#222" stroke-width="0.9"/>
<line x1="437.9" y1="546.2" x2="437.9" y2="548.6" stroke="#222" stroke-width="0.9"/>
<line x1="473.95" y1="546.2" x2="473.95" y2="548.6" stroke="#222" stroke-width="0.9"/>
<line x1="510" y1="546.2" x2="510" y2="548.6" stroke="#222" stroke-width="0.9"/>
<line x1="383.82" y1="546.2" x2="383.82" y2="547.6" stroke="#222" stroke-width="0.9"/>
<line x1="419.88" y1="546.2" x2="419.88" y2="547.6" stroke="#222" stroke-width="0.9"/>
<line x1="455.93" y1="546.2" x2="455.93" y2="547.6" stroke="#222" stroke-width="0.9"/>
<line x1="491.98" y1="546.2" x2="491.98" y2="547.6" stroke="#222" stroke-width="0.9"/>
<text x="365.8" y="557.5" font-size="8.6" font-weight="bold" text-anchor="middle" fill="#000">-5</text>
<text x="401.85" y="557.5" font-size="8.6" font-weight="bold" text-anchor="middle" fill="#000">0</text>
<text x="437.9" y="557.5" font-size="8.6" font-weight="bold" text-anchor="middle" fill="#000">5</text>
<text x="473.95" y="557.5" font-size="8.6" font-weight="bold" text-anchor="middle" fill="#000">10</text>
<text x="510" y="557.5" font-size="8.6" font-weight="bold" text-anchor="middle" fill="#000">15</text>
<line x1="365.8" y1="546.2" x2="363.4" y2="546.2" stroke="#222" stroke-width="0.9"/>
<line x1="365.8" y1="502.48" x2="363.4" y2="502.48" stroke="#222" stroke-width="0.9"/>
<line x1="365.8" y1="458.75" x2="363.4" y2="458.75" stroke="#222" stroke-width="0.9"/>
<line x1="365.8" y1="415.03" x2="363.4" y2="415.03" stroke="#222" stroke-width="0.9"/>
<line x1="365.8" y1="371.3" x2="363.4" y2="371.3" stroke="#222" stroke-width="0.9"/>
<line x1="365.8" y1="524.34" x2="364.4" y2="524.34" stroke="#222" stroke-width="0.9"/>
<line x1="365.8" y1="480.61" x2="364.4" y2="480.61" stroke="#222" stroke-width="0.9"/>
<line x1="365.8" y1="436.89" x2="364.4" y2="436.89" stroke="#222" stroke-width="0.9"/>
<line x1="365.8" y1="393.16" x2="364.4" y2="393.16" stroke="#222" stroke-width="0.9"/>
<text x="362.4" y="549.2" font-size="8.6" font-weight="bold" text-anchor="end" fill="#000">0</text>
<text x="362.4" y="505.48" font-size="8.6" font-weight="bold" text-anchor="end" fill="#000">1</text>
<text x="362.4" y="461.75" font-size="8.6" font-weight="bold" text-anchor="end" fill="#000">2</text>
<text x="362.4" y="418.03" font-size="8.6" font-weight="bold" text-anchor="end" fill="#000">3</text>
<text x="362.4" y="374.3" font-size="8.6" font-weight="bold" text-anchor="end" fill="#000">4</text>
<text x="344.6" y="378.2" font-size="17" font-weight="bold" text-anchor="start" fill="#000">i</text>
<text x="368" y="383" font-size="11" font-weight="bold" text-anchor="start" fill="#000">Cr-Ni<tspan dy="3.08" font-size="7.48">3</tspan><tspan dy="-3.08">S</tspan><tspan dy="3.08" font-size="7.48">2</tspan></text>
<text x="460.7" y="436.4" font-size="11.1" font-weight="bold" text-anchor="middle" fill="#000">Cr-S-Ni</text>
<text x="450.1" y="484" font-size="11.1" font-weight="bold" text-anchor="middle" fill="#000">Cr-S</text>
<text x="437.9" y="573.2" font-size="11.8" font-weight="bold" text-anchor="middle">k (Å<tspan dy="-4.25" font-size="8.02">-1</tspan><tspan dy="4.25">)</tspan></text>
<text x="352.8" y="458.5" font-size="12.4" font-weight="bold" text-anchor="middle" fill="#000" transform="rotate(-90 352.8 458.5)">R+α (Å)</text>
<line x1="533.3" y1="371.5" x2="679.4" y2="371.5" stroke="#333" stroke-width="0.9"/>
<line x1="679.4" y1="371.5" x2="679.4" y2="546.2" stroke="#333" stroke-width="0.9"/>
<line x1="533.3" y1="546.2" x2="679.4" y2="546.2" stroke="#222" stroke-width="1.1"/>
<line x1="533.3" y1="371" x2="533.3" y2="546.7" stroke="#222" stroke-width="1.1"/>
<line x1="533.3" y1="546.2" x2="533.3" y2="548.6" stroke="#222" stroke-width="0.9"/>
<line x1="569.82" y1="546.2" x2="569.82" y2="548.6" stroke="#222" stroke-width="0.9"/>
<line x1="606.35" y1="546.2" x2="606.35" y2="548.6" stroke="#222" stroke-width="0.9"/>
<line x1="642.88" y1="546.2" x2="642.88" y2="548.6" stroke="#222" stroke-width="0.9"/>
<line x1="679.4" y1="546.2" x2="679.4" y2="548.6" stroke="#222" stroke-width="0.9"/>
<line x1="551.56" y1="546.2" x2="551.56" y2="547.6" stroke="#222" stroke-width="0.9"/>
<line x1="588.09" y1="546.2" x2="588.09" y2="547.6" stroke="#222" stroke-width="0.9"/>
<line x1="624.61" y1="546.2" x2="624.61" y2="547.6" stroke="#222" stroke-width="0.9"/>
<line x1="661.14" y1="546.2" x2="661.14" y2="547.6" stroke="#222" stroke-width="0.9"/>
<text x="533.3" y="557.5" font-size="8.6" font-weight="bold" text-anchor="middle" fill="#000">-5</text>
<text x="569.82" y="557.5" font-size="8.6" font-weight="bold" text-anchor="middle" fill="#000">0</text>
<text x="606.35" y="557.5" font-size="8.6" font-weight="bold" text-anchor="middle" fill="#000">5</text>
<text x="642.88" y="557.5" font-size="8.6" font-weight="bold" text-anchor="middle" fill="#000">10</text>
<text x="679.4" y="557.5" font-size="8.6" font-weight="bold" text-anchor="middle" fill="#000">15</text>
<line x1="533.3" y1="546.2" x2="530.9" y2="546.2" stroke="#222" stroke-width="0.9"/>
<line x1="533.3" y1="502.53" x2="530.9" y2="502.53" stroke="#222" stroke-width="0.9"/>
<line x1="533.3" y1="458.85" x2="530.9" y2="458.85" stroke="#222" stroke-width="0.9"/>
<line x1="533.3" y1="415.18" x2="530.9" y2="415.18" stroke="#222" stroke-width="0.9"/>
<line x1="533.3" y1="371.5" x2="530.9" y2="371.5" stroke="#222" stroke-width="0.9"/>
<line x1="533.3" y1="524.36" x2="531.9" y2="524.36" stroke="#222" stroke-width="0.9"/>
<line x1="533.3" y1="480.69" x2="531.9" y2="480.69" stroke="#222" stroke-width="0.9"/>
<line x1="533.3" y1="437.01" x2="531.9" y2="437.01" stroke="#222" stroke-width="0.9"/>
<line x1="533.3" y1="393.34" x2="531.9" y2="393.34" stroke="#222" stroke-width="0.9"/>
<text x="529.9" y="549.2" font-size="8.6" font-weight="bold" text-anchor="end" fill="#000">0</text>
<text x="529.9" y="505.53" font-size="8.6" font-weight="bold" text-anchor="end" fill="#000">1</text>
<text x="529.9" y="461.85" font-size="8.6" font-weight="bold" text-anchor="end" fill="#000">2</text>
<text x="529.9" y="418.18" font-size="8.6" font-weight="bold" text-anchor="end" fill="#000">3</text>
<text x="529.9" y="374.5" font-size="8.6" font-weight="bold" text-anchor="end" fill="#000">4</text>
<text x="514.2" y="378.2" font-size="17" font-weight="bold" text-anchor="start" fill="#000">j</text>
<text x="535.5" y="382.57" font-size="10.1" font-weight="bold" text-anchor="start" fill="#000">Cr<tspan dy="2.83" font-size="6.87">2</tspan><tspan dy="-2.83">O</tspan><tspan dy="2.83" font-size="6.87">3</tspan></text>
<text x="654.7" y="434.8" font-size="10.1" font-weight="bold" text-anchor="middle" fill="#000">Cr-O-Cr</text>
<text x="627" y="480.5" font-size="10.1" font-weight="bold" text-anchor="middle" fill="#000">Cr-O</text>
<text x="606.35" y="570.6" font-size="11.2" font-weight="bold" text-anchor="middle">k (Å<tspan dy="-4.03" font-size="7.62">-1</tspan><tspan dy="4.03">)</tspan></text>
<text x="520.9" y="459.2" font-size="11.3" font-weight="bold" text-anchor="middle" fill="#000" transform="rotate(-90 520.9 459.2)">R+α (Å)</text></svg>
</body></html>
